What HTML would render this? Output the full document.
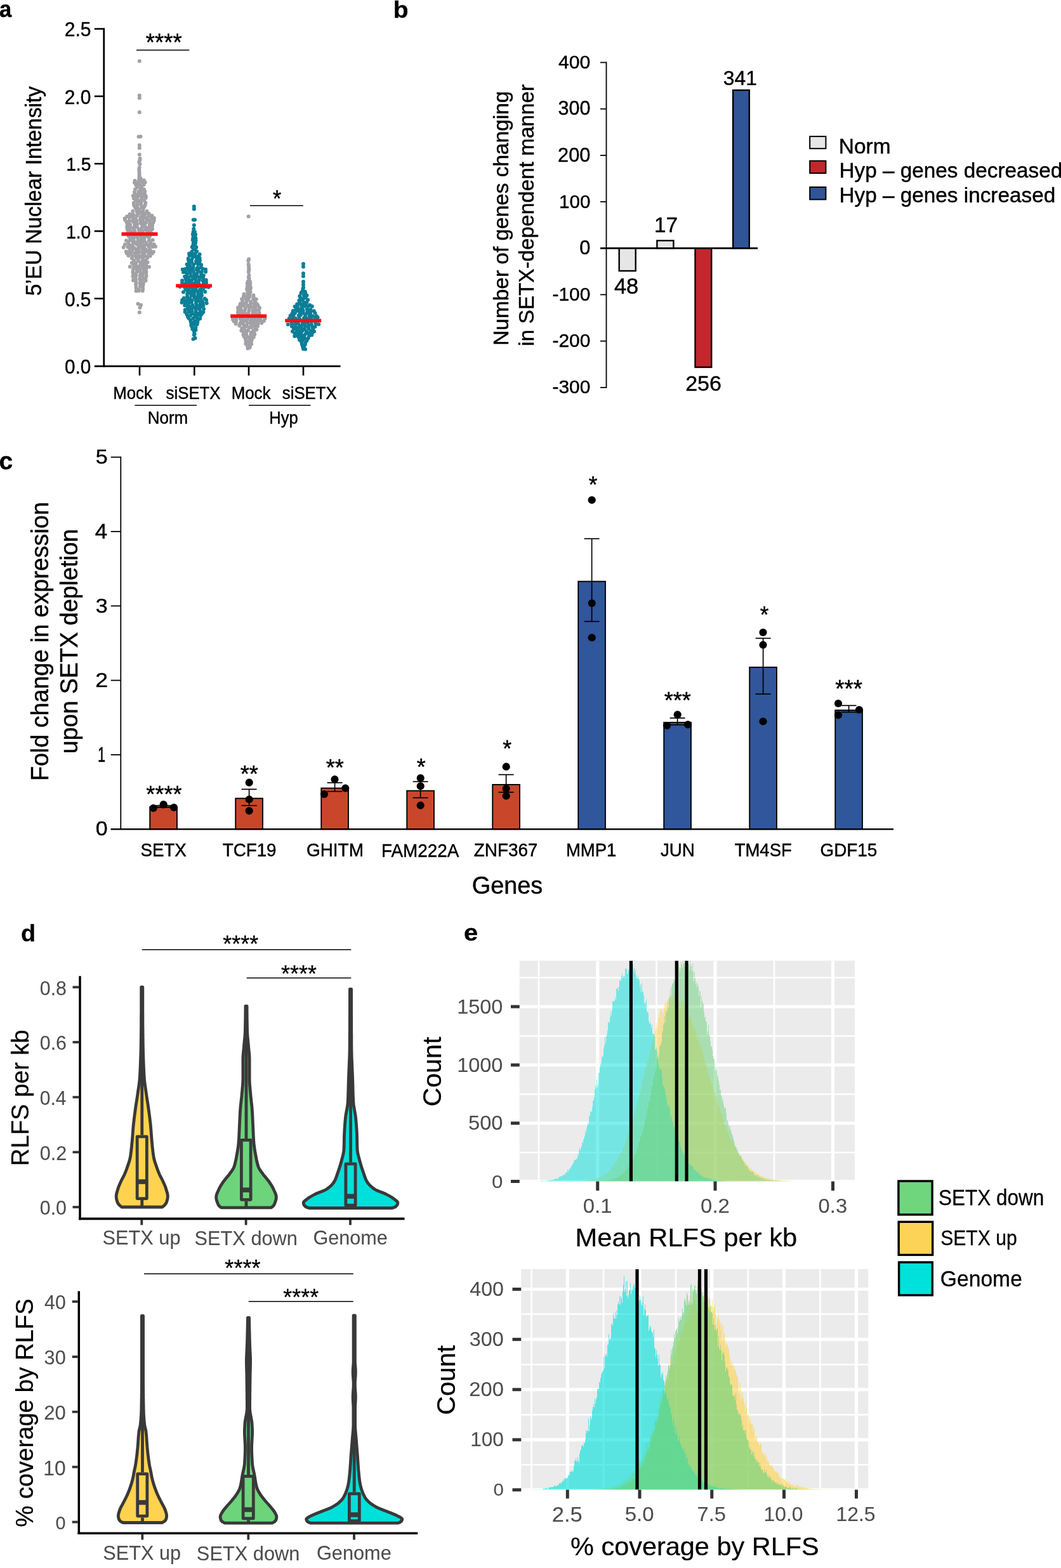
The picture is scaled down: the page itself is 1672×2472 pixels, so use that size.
<!DOCTYPE html>
<html lang="en"><head><meta charset="utf-8"><title>Figure: SETX-dependent transcription and RLFS</title>
<style>
html,body{margin:0;padding:0;background:#fff;}
body{width:1672px;height:2472px;overflow:hidden;}
svg{display:block;font-family:"Liberation Sans",sans-serif;}
</style></head><body>
<svg width="1672" height="2472" viewBox="0 0 1672 2472">
<rect width="1672" height="2472" fill="#fff"/>
<g id="panel-a">
<text transform="matrix(0.3455,0,0,0.3616,-1.04,27.14)" font-size="100" font-weight="bold" fill="#000" stroke="#000" stroke-width="1.27" stroke-linejoin="round">a</text>
<line x1="163.75" y1="44.20" x2="163.75" y2="578.70" stroke="#000" stroke-width="2.8"/>
<line x1="148.75" y1="577.30" x2="536.50" y2="577.30" stroke="#000" stroke-width="2.8"/>
<line x1="148.75" y1="45.50" x2="163.75" y2="45.50" stroke="#000" stroke-width="2.6"/>
<text transform="matrix(0.3000,0,0,0.3226,101.70,57.39)" font-size="100" fill="#000" stroke="#000" stroke-width="1.45" stroke-linejoin="round">2.5</text>
<line x1="148.75" y1="151.80" x2="163.75" y2="151.80" stroke="#000" stroke-width="2.6"/>
<text transform="matrix(0.2994,0,0,0.3220,101.70,163.67)" font-size="100" fill="#000" stroke="#000" stroke-width="1.45" stroke-linejoin="round">2.0</text>
<line x1="148.75" y1="258.10" x2="163.75" y2="258.10" stroke="#000" stroke-width="2.6"/>
<text transform="matrix(0.2820,0,0,0.3032,104.14,269.17)" font-size="100" fill="#000" stroke="#000" stroke-width="1.54" stroke-linejoin="round">1.5</text>
<line x1="148.75" y1="364.40" x2="163.75" y2="364.40" stroke="#000" stroke-width="2.6"/>
<text transform="matrix(0.2814,0,0,0.3026,104.14,375.60)" font-size="100" fill="#000" stroke="#000" stroke-width="1.54" stroke-linejoin="round">1.0</text>
<line x1="148.75" y1="470.70" x2="163.75" y2="470.70" stroke="#000" stroke-width="2.6"/>
<text transform="matrix(0.2977,0,0,0.3201,102.01,482.50)" font-size="100" fill="#000" stroke="#000" stroke-width="1.46" stroke-linejoin="round">0.5</text>
<text transform="matrix(0.2971,0,0,0.3195,102.01,588.78)" font-size="100" fill="#000" stroke="#000" stroke-width="1.46" stroke-linejoin="round">0.0</text>
<line x1="220.00" y1="577.30" x2="220.00" y2="592.00" stroke="#000" stroke-width="2.6"/>
<line x1="306.30" y1="577.30" x2="306.30" y2="592.00" stroke="#000" stroke-width="2.6"/>
<line x1="392.00" y1="577.30" x2="392.00" y2="592.00" stroke="#000" stroke-width="2.6"/>
<line x1="478.00" y1="577.30" x2="478.00" y2="592.00" stroke="#000" stroke-width="2.6"/>
<text transform="matrix(0,-0.3340,0.3592,0,65.29,466.34)" font-size="100" fill="#000" stroke="#000" stroke-width="1.30" stroke-linejoin="round">5’EU Nuclear Intensity</text>
<text transform="matrix(0.3645,0,0,0.3920,229.86,79.84)" font-size="100" fill="#000" stroke="#000" stroke-width="1.19" stroke-linejoin="round">****</text>
<line x1="215.00" y1="79.00" x2="298.30" y2="79.00" stroke="#000" stroke-width="1.6"/>
<text transform="matrix(0.3380,0,0,0.3635,429.91,326.13)" font-size="100" fill="#000" stroke="#000" stroke-width="1.28" stroke-linejoin="round">*</text>
<line x1="394.00" y1="324.20" x2="477.80" y2="324.20" stroke="#000" stroke-width="1.6"/>
<text transform="matrix(0.2587,0,0,0.2782,178.17,629.10)" font-size="100" fill="#000" stroke="#000" stroke-width="1.68" stroke-linejoin="round">Mock</text>
<text transform="matrix(0.2578,0,0,0.2772,261.59,629.06)" font-size="100" fill="#000" stroke="#000" stroke-width="1.68" stroke-linejoin="round">siSETX</text>
<text transform="matrix(0.2587,0,0,0.2782,364.67,629.10)" font-size="100" fill="#000" stroke="#000" stroke-width="1.68" stroke-linejoin="round">Mock</text>
<text transform="matrix(0.2578,0,0,0.2772,444.79,629.06)" font-size="100" fill="#000" stroke="#000" stroke-width="1.68" stroke-linejoin="round">siSETX</text>
<line x1="212.50" y1="639.00" x2="310.00" y2="639.00" stroke="#000" stroke-width="1.6"/>
<line x1="392.00" y1="639.00" x2="489.50" y2="639.00" stroke="#000" stroke-width="1.6"/>
<text transform="matrix(0.2590,0,0,0.2785,232.86,668.03)" font-size="100" fill="#000" stroke="#000" stroke-width="1.67" stroke-linejoin="round">Norm</text>
<text transform="matrix(0.2556,0,0,0.2748,424.19,667.65)" font-size="100" fill="#000" stroke="#000" stroke-width="1.70" stroke-linejoin="round">Hyp</text>
<g fill="#a1a1a6"><circle cx="220.6" cy="250.0" r="3.0"/><circle cx="220.0" cy="252.9" r="3.0"/><circle cx="219.4" cy="255.5" r="3.0"/><circle cx="220.4" cy="259.0" r="3.0"/><circle cx="219.6" cy="264.4" r="3.0"/><circle cx="219.2" cy="267.0" r="3.0"/><circle cx="219.5" cy="270.3" r="3.0"/><circle cx="219.6" cy="273.8" r="3.0"/><circle cx="219.6" cy="276.9" r="3.0"/><circle cx="219.3" cy="281.1" r="3.0"/><circle cx="221.6" cy="281.2" r="3.0"/><circle cx="212.5" cy="284.9" r="3.0"/><circle cx="218.7" cy="284.9" r="3.0"/><circle cx="221.3" cy="285.3" r="3.0"/><circle cx="226.8" cy="284.3" r="3.0"/><circle cx="212.0" cy="288.0" r="3.0"/><circle cx="217.4" cy="288.1" r="3.0"/><circle cx="224.0" cy="287.0" r="3.0"/><circle cx="228.6" cy="287.4" r="3.0"/><circle cx="214.2" cy="291.8" r="3.0"/><circle cx="220.1" cy="291.2" r="3.0"/><circle cx="226.4" cy="291.3" r="3.0"/><circle cx="216.7" cy="294.9" r="3.0"/><circle cx="223.1" cy="294.0" r="3.0"/><circle cx="213.1" cy="298.3" r="3.0"/><circle cx="221.4" cy="297.8" r="3.0"/><circle cx="226.8" cy="298.5" r="3.0"/><circle cx="211.9" cy="302.9" r="3.0"/><circle cx="218.3" cy="302.1" r="3.0"/><circle cx="222.0" cy="301.9" r="3.0"/><circle cx="228.1" cy="301.5" r="3.0"/><circle cx="212.9" cy="305.9" r="3.0"/><circle cx="218.2" cy="306.1" r="3.0"/><circle cx="223.6" cy="305.5" r="3.0"/><circle cx="228.0" cy="305.6" r="3.0"/><circle cx="209.8" cy="308.7" r="3.0"/><circle cx="215.2" cy="308.7" r="3.0"/><circle cx="219.1" cy="309.0" r="3.0"/><circle cx="225.0" cy="309.2" r="3.0"/><circle cx="229.8" cy="309.2" r="3.0"/><circle cx="211.0" cy="313.1" r="3.0"/><circle cx="215.9" cy="313.1" r="3.0"/><circle cx="223.4" cy="313.1" r="3.0"/><circle cx="229.7" cy="312.0" r="3.0"/><circle cx="213.6" cy="315.5" r="3.0"/><circle cx="216.2" cy="315.2" r="3.0"/><circle cx="220.9" cy="316.2" r="3.0"/><circle cx="227.2" cy="315.7" r="3.0"/><circle cx="210.8" cy="319.9" r="3.0"/><circle cx="216.8" cy="319.4" r="3.0"/><circle cx="222.3" cy="319.1" r="3.0"/><circle cx="229.3" cy="319.4" r="3.0"/><circle cx="211.1" cy="323.8" r="3.0"/><circle cx="216.7" cy="323.0" r="3.0"/><circle cx="222.2" cy="322.4" r="3.0"/><circle cx="228.6" cy="323.2" r="3.0"/><circle cx="213.0" cy="326.9" r="3.0"/><circle cx="216.3" cy="326.8" r="3.0"/><circle cx="223.3" cy="326.6" r="3.0"/><circle cx="227.2" cy="325.9" r="3.0"/><circle cx="214.6" cy="329.8" r="3.0"/><circle cx="219.2" cy="330.1" r="3.0"/><circle cx="225.6" cy="329.6" r="3.0"/><circle cx="209.3" cy="333.1" r="3.0"/><circle cx="215.8" cy="334.3" r="3.0"/><circle cx="221.1" cy="334.0" r="3.0"/><circle cx="225.0" cy="333.3" r="3.0"/><circle cx="231.3" cy="333.0" r="3.0"/><circle cx="204.6" cy="337.7" r="3.0"/><circle cx="209.5" cy="337.9" r="3.0"/><circle cx="217.9" cy="337.4" r="3.0"/><circle cx="224.4" cy="337.0" r="3.0"/><circle cx="229.3" cy="336.7" r="3.0"/><circle cx="234.6" cy="336.7" r="3.0"/><circle cx="200.2" cy="341.2" r="3.0"/><circle cx="205.6" cy="341.3" r="3.0"/><circle cx="210.6" cy="339.5" r="3.0"/><circle cx="216.0" cy="339.9" r="3.0"/><circle cx="223.3" cy="340.1" r="3.0"/><circle cx="227.9" cy="341.4" r="3.0"/><circle cx="234.2" cy="341.0" r="3.0"/><circle cx="239.4" cy="340.1" r="3.0"/><circle cx="196.7" cy="344.4" r="3.0"/><circle cx="203.5" cy="343.1" r="3.0"/><circle cx="209.6" cy="343.3" r="3.0"/><circle cx="213.7" cy="344.8" r="3.0"/><circle cx="221.1" cy="343.4" r="3.0"/><circle cx="226.4" cy="344.5" r="3.0"/><circle cx="231.6" cy="344.2" r="3.0"/><circle cx="239.0" cy="344.6" r="3.0"/><circle cx="242.8" cy="343.7" r="3.0"/><circle cx="197.0" cy="346.6" r="3.0"/><circle cx="203.5" cy="348.2" r="3.0"/><circle cx="208.6" cy="348.0" r="3.0"/><circle cx="215.5" cy="348.1" r="3.0"/><circle cx="221.2" cy="347.1" r="3.0"/><circle cx="224.8" cy="347.7" r="3.0"/><circle cx="231.9" cy="348.0" r="3.0"/><circle cx="236.4" cy="347.2" r="3.0"/><circle cx="242.7" cy="347.6" r="3.0"/><circle cx="199.3" cy="350.0" r="3.0"/><circle cx="203.2" cy="351.3" r="3.0"/><circle cx="210.5" cy="350.1" r="3.0"/><circle cx="214.8" cy="350.2" r="3.0"/><circle cx="221.3" cy="351.7" r="3.0"/><circle cx="225.2" cy="350.0" r="3.0"/><circle cx="230.0" cy="350.4" r="3.0"/><circle cx="236.9" cy="351.9" r="3.0"/><circle cx="241.5" cy="350.8" r="3.0"/><circle cx="200.7" cy="354.1" r="3.0"/><circle cx="205.0" cy="354.0" r="3.0"/><circle cx="212.2" cy="354.4" r="3.0"/><circle cx="216.0" cy="353.7" r="3.0"/><circle cx="224.1" cy="354.8" r="3.0"/><circle cx="228.2" cy="353.5" r="3.0"/><circle cx="235.6" cy="353.5" r="3.0"/><circle cx="240.1" cy="355.4" r="3.0"/><circle cx="200.2" cy="357.4" r="3.0"/><circle cx="205.6" cy="358.2" r="3.0"/><circle cx="210.9" cy="358.9" r="3.0"/><circle cx="215.8" cy="358.0" r="3.0"/><circle cx="224.1" cy="358.3" r="3.0"/><circle cx="229.9" cy="358.3" r="3.0"/><circle cx="235.6" cy="357.5" r="3.0"/><circle cx="239.2" cy="358.0" r="3.0"/><circle cx="200.6" cy="361.2" r="3.0"/><circle cx="204.5" cy="361.1" r="3.0"/><circle cx="210.8" cy="361.1" r="3.0"/><circle cx="218.6" cy="361.1" r="3.0"/><circle cx="222.7" cy="362.2" r="3.0"/><circle cx="229.0" cy="362.3" r="3.0"/><circle cx="234.6" cy="361.1" r="3.0"/><circle cx="240.1" cy="361.1" r="3.0"/><circle cx="202.0" cy="364.1" r="3.0"/><circle cx="207.1" cy="365.2" r="3.0"/><circle cx="212.5" cy="364.5" r="3.0"/><circle cx="219.2" cy="365.5" r="3.0"/><circle cx="224.8" cy="365.0" r="3.0"/><circle cx="232.3" cy="365.7" r="3.0"/><circle cx="237.5" cy="364.3" r="3.0"/><circle cx="202.0" cy="368.5" r="3.0"/><circle cx="208.0" cy="369.3" r="3.0"/><circle cx="211.0" cy="368.1" r="3.0"/><circle cx="218.2" cy="369.3" r="3.0"/><circle cx="224.1" cy="367.7" r="3.0"/><circle cx="229.0" cy="369.3" r="3.0"/><circle cx="232.9" cy="367.5" r="3.0"/><circle cx="238.1" cy="368.1" r="3.0"/><circle cx="202.8" cy="372.4" r="3.0"/><circle cx="209.7" cy="372.3" r="3.0"/><circle cx="215.1" cy="371.5" r="3.0"/><circle cx="220.6" cy="371.1" r="3.0"/><circle cx="224.7" cy="372.9" r="3.0"/><circle cx="231.1" cy="372.6" r="3.0"/><circle cx="236.4" cy="372.1" r="3.0"/><circle cx="205.4" cy="375.3" r="3.0"/><circle cx="210.7" cy="375.6" r="3.0"/><circle cx="216.5" cy="374.6" r="3.0"/><circle cx="222.3" cy="375.2" r="3.0"/><circle cx="227.5" cy="374.7" r="3.0"/><circle cx="234.8" cy="374.7" r="3.0"/><circle cx="199.0" cy="379.3" r="3.0"/><circle cx="204.8" cy="378.8" r="3.0"/><circle cx="210.7" cy="379.3" r="3.0"/><circle cx="217.4" cy="379.4" r="3.0"/><circle cx="222.2" cy="378.4" r="3.0"/><circle cx="227.5" cy="379.0" r="3.0"/><circle cx="235.0" cy="378.9" r="3.0"/><circle cx="240.7" cy="378.4" r="3.0"/><circle cx="202.2" cy="383.2" r="3.0"/><circle cx="209.6" cy="381.8" r="3.0"/><circle cx="213.5" cy="383.0" r="3.0"/><circle cx="220.4" cy="383.2" r="3.0"/><circle cx="224.5" cy="382.1" r="3.0"/><circle cx="230.4" cy="382.8" r="3.0"/><circle cx="237.3" cy="383.2" r="3.0"/><circle cx="196.9" cy="385.4" r="3.0"/><circle cx="203.4" cy="386.1" r="3.0"/><circle cx="208.7" cy="386.5" r="3.0"/><circle cx="215.3" cy="385.1" r="3.0"/><circle cx="221.2" cy="386.3" r="3.0"/><circle cx="227.2" cy="386.4" r="3.0"/><circle cx="231.8" cy="385.7" r="3.0"/><circle cx="236.3" cy="386.0" r="3.0"/><circle cx="242.6" cy="385.3" r="3.0"/><circle cx="194.7" cy="389.9" r="3.0"/><circle cx="201.5" cy="389.4" r="3.0"/><circle cx="206.5" cy="390.3" r="3.0"/><circle cx="211.0" cy="390.4" r="3.0"/><circle cx="218.5" cy="389.2" r="3.0"/><circle cx="224.2" cy="390.1" r="3.0"/><circle cx="227.2" cy="389.3" r="3.0"/><circle cx="234.7" cy="388.8" r="3.0"/><circle cx="240.5" cy="389.1" r="3.0"/><circle cx="244.9" cy="388.7" r="3.0"/><circle cx="204.5" cy="392.0" r="3.0"/><circle cx="209.5" cy="392.3" r="3.0"/><circle cx="214.3" cy="392.8" r="3.0"/><circle cx="218.9" cy="392.0" r="3.0"/><circle cx="224.8" cy="393.2" r="3.0"/><circle cx="230.0" cy="393.2" r="3.0"/><circle cx="236.2" cy="393.6" r="3.0"/><circle cx="198.9" cy="396.6" r="3.0"/><circle cx="204.0" cy="396.4" r="3.0"/><circle cx="208.5" cy="397.2" r="3.0"/><circle cx="214.9" cy="397.0" r="3.0"/><circle cx="219.3" cy="396.6" r="3.0"/><circle cx="225.9" cy="396.2" r="3.0"/><circle cx="231.6" cy="396.0" r="3.0"/><circle cx="237.1" cy="395.7" r="3.0"/><circle cx="241.8" cy="397.1" r="3.0"/><circle cx="199.8" cy="399.6" r="3.0"/><circle cx="205.7" cy="400.0" r="3.0"/><circle cx="212.8" cy="399.7" r="3.0"/><circle cx="217.9" cy="400.0" r="3.0"/><circle cx="224.3" cy="399.0" r="3.0"/><circle cx="227.5" cy="399.8" r="3.0"/><circle cx="234.4" cy="399.9" r="3.0"/><circle cx="240.0" cy="399.6" r="3.0"/><circle cx="202.5" cy="403.0" r="3.0"/><circle cx="208.9" cy="403.7" r="3.0"/><circle cx="214.2" cy="404.2" r="3.0"/><circle cx="220.4" cy="404.1" r="3.0"/><circle cx="225.4" cy="403.5" r="3.0"/><circle cx="230.7" cy="404.4" r="3.0"/><circle cx="236.6" cy="403.4" r="3.0"/><circle cx="207.7" cy="407.0" r="3.0"/><circle cx="215.3" cy="406.7" r="3.0"/><circle cx="219.4" cy="406.0" r="3.0"/><circle cx="225.2" cy="406.7" r="3.0"/><circle cx="232.2" cy="406.8" r="3.0"/><circle cx="210.9" cy="410.4" r="3.0"/><circle cx="217.6" cy="411.0" r="3.0"/><circle cx="224.3" cy="410.7" r="3.0"/><circle cx="229.3" cy="410.8" r="3.0"/><circle cx="207.8" cy="414.5" r="3.0"/><circle cx="214.2" cy="414.6" r="3.0"/><circle cx="221.3" cy="414.2" r="3.0"/><circle cx="227.0" cy="413.7" r="3.0"/><circle cx="232.5" cy="413.5" r="3.0"/><circle cx="209.8" cy="416.6" r="3.0"/><circle cx="213.8" cy="417.5" r="3.0"/><circle cx="221.0" cy="418.0" r="3.0"/><circle cx="225.1" cy="417.3" r="3.0"/><circle cx="230.1" cy="417.2" r="3.0"/><circle cx="204.8" cy="420.4" r="3.0"/><circle cx="211.0" cy="421.7" r="3.0"/><circle cx="215.4" cy="420.5" r="3.0"/><circle cx="219.7" cy="420.1" r="3.0"/><circle cx="225.7" cy="421.6" r="3.0"/><circle cx="230.6" cy="421.0" r="3.0"/><circle cx="234.9" cy="420.7" r="3.0"/><circle cx="209.9" cy="424.7" r="3.0"/><circle cx="215.1" cy="423.9" r="3.0"/><circle cx="220.6" cy="424.6" r="3.0"/><circle cx="226.3" cy="423.8" r="3.0"/><circle cx="230.2" cy="425.0" r="3.0"/><circle cx="209.4" cy="428.8" r="3.0"/><circle cx="215.8" cy="428.2" r="3.0"/><circle cx="220.6" cy="427.6" r="3.0"/><circle cx="226.6" cy="427.8" r="3.0"/><circle cx="230.4" cy="428.5" r="3.0"/><circle cx="210.1" cy="431.9" r="3.0"/><circle cx="214.0" cy="431.7" r="3.0"/><circle cx="221.4" cy="431.0" r="3.0"/><circle cx="224.8" cy="431.5" r="3.0"/><circle cx="230.2" cy="430.7" r="3.0"/><circle cx="209.5" cy="435.4" r="3.0"/><circle cx="214.4" cy="434.6" r="3.0"/><circle cx="220.8" cy="434.2" r="3.0"/><circle cx="224.5" cy="434.8" r="3.0"/><circle cx="230.5" cy="434.9" r="3.0"/><circle cx="210.4" cy="437.5" r="3.0"/><circle cx="213.6" cy="438.9" r="3.0"/><circle cx="220.3" cy="439.1" r="3.0"/><circle cx="226.3" cy="439.4" r="3.0"/><circle cx="229.6" cy="438.7" r="3.0"/><circle cx="210.0" cy="442.0" r="3.0"/><circle cx="213.9" cy="441.7" r="3.0"/><circle cx="220.6" cy="441.3" r="3.0"/><circle cx="223.7" cy="441.4" r="3.0"/><circle cx="229.5" cy="442.6" r="3.0"/><circle cx="214.4" cy="445.7" r="3.0"/><circle cx="220.6" cy="446.3" r="3.0"/><circle cx="225.8" cy="446.5" r="3.0"/><circle cx="214.1" cy="448.7" r="3.0"/><circle cx="221.1" cy="449.1" r="3.0"/><circle cx="225.4" cy="449.8" r="3.0"/><circle cx="214.5" cy="453.3" r="3.0"/><circle cx="220.8" cy="451.5" r="3.0"/><circle cx="224.7" cy="451.8" r="3.0"/><circle cx="215.0" cy="456.6" r="3.0"/><circle cx="218.9" cy="456.8" r="3.0"/><circle cx="225.1" cy="455.0" r="3.0"/><circle cx="214.6" cy="458.7" r="3.0"/><circle cx="218.6" cy="458.6" r="3.0"/><circle cx="224.7" cy="458.5" r="3.0"/><circle cx="219.8" cy="96.2" r="3.0"/><circle cx="219.8" cy="150.6" r="3.0"/><circle cx="219.8" cy="154.4" r="3.0"/><circle cx="219.8" cy="177.0" r="3.0"/><circle cx="218.6" cy="215.4" r="3.0"/><circle cx="221.4" cy="215.2" r="3.0"/><circle cx="219.8" cy="229.0" r="3.0"/><circle cx="219.8" cy="233.2" r="3.0"/><circle cx="219.8" cy="243.8" r="3.0"/><circle cx="217.5" cy="479.0" r="3.0"/><circle cx="222.0" cy="481.0" r="3.0"/><circle cx="220.5" cy="485.0" r="3.0"/><circle cx="219.8" cy="492.6" r="3.0"/></g>
<g fill="#0a7f97"><circle cx="305.3" cy="360.8" r="3.0"/><circle cx="304.7" cy="365.4" r="3.0"/><circle cx="306.9" cy="365.4" r="3.0"/><circle cx="303.9" cy="369.1" r="3.0"/><circle cx="308.1" cy="369.7" r="3.0"/><circle cx="304.5" cy="371.2" r="3.0"/><circle cx="307.3" cy="371.2" r="3.0"/><circle cx="304.1" cy="375.7" r="3.0"/><circle cx="308.5" cy="375.8" r="3.0"/><circle cx="303.8" cy="378.4" r="3.0"/><circle cx="308.5" cy="379.2" r="3.0"/><circle cx="304.8" cy="383.3" r="3.0"/><circle cx="308.0" cy="383.1" r="3.0"/><circle cx="304.2" cy="387.1" r="3.0"/><circle cx="307.3" cy="387.1" r="3.0"/><circle cx="302.7" cy="389.6" r="3.0"/><circle cx="309.3" cy="389.7" r="3.0"/><circle cx="304.7" cy="392.9" r="3.0"/><circle cx="307.7" cy="393.9" r="3.0"/><circle cx="302.2" cy="397.1" r="3.0"/><circle cx="310.2" cy="396.6" r="3.0"/><circle cx="298.1" cy="399.7" r="3.0"/><circle cx="303.8" cy="401.0" r="3.0"/><circle cx="307.8" cy="399.8" r="3.0"/><circle cx="314.6" cy="401.1" r="3.0"/><circle cx="298.5" cy="403.1" r="3.0"/><circle cx="303.9" cy="403.7" r="3.0"/><circle cx="308.8" cy="404.5" r="3.0"/><circle cx="313.2" cy="403.9" r="3.0"/><circle cx="296.7" cy="407.7" r="3.0"/><circle cx="303.6" cy="406.3" r="3.0"/><circle cx="310.3" cy="407.5" r="3.0"/><circle cx="314.6" cy="406.7" r="3.0"/><circle cx="297.1" cy="410.2" r="3.0"/><circle cx="301.9" cy="410.1" r="3.0"/><circle cx="309.0" cy="411.4" r="3.0"/><circle cx="314.9" cy="410.5" r="3.0"/><circle cx="297.4" cy="415.1" r="3.0"/><circle cx="302.0" cy="413.2" r="3.0"/><circle cx="309.5" cy="414.6" r="3.0"/><circle cx="314.3" cy="413.2" r="3.0"/><circle cx="294.5" cy="416.8" r="3.0"/><circle cx="299.3" cy="418.6" r="3.0"/><circle cx="305.1" cy="417.0" r="3.0"/><circle cx="312.3" cy="416.7" r="3.0"/><circle cx="317.1" cy="417.4" r="3.0"/><circle cx="295.9" cy="421.6" r="3.0"/><circle cx="300.1" cy="422.0" r="3.0"/><circle cx="304.6" cy="421.7" r="3.0"/><circle cx="311.2" cy="421.9" r="3.0"/><circle cx="316.8" cy="421.6" r="3.0"/><circle cx="287.7" cy="424.7" r="3.0"/><circle cx="292.4" cy="424.0" r="3.0"/><circle cx="296.9" cy="425.6" r="3.0"/><circle cx="303.2" cy="424.2" r="3.0"/><circle cx="309.7" cy="424.9" r="3.0"/><circle cx="312.7" cy="424.5" r="3.0"/><circle cx="319.4" cy="423.7" r="3.0"/><circle cx="324.0" cy="424.8" r="3.0"/><circle cx="289.0" cy="429.0" r="3.0"/><circle cx="292.7" cy="429.2" r="3.0"/><circle cx="299.1" cy="427.6" r="3.0"/><circle cx="304.8" cy="428.1" r="3.0"/><circle cx="312.3" cy="427.7" r="3.0"/><circle cx="317.9" cy="428.4" r="3.0"/><circle cx="324.1" cy="428.4" r="3.0"/><circle cx="294.7" cy="431.5" r="3.0"/><circle cx="299.9" cy="430.9" r="3.0"/><circle cx="306.1" cy="432.1" r="3.0"/><circle cx="310.4" cy="431.2" r="3.0"/><circle cx="317.0" cy="430.9" r="3.0"/><circle cx="291.1" cy="436.0" r="3.0"/><circle cx="294.9" cy="436.1" r="3.0"/><circle cx="300.9" cy="435.6" r="3.0"/><circle cx="305.9" cy="435.0" r="3.0"/><circle cx="310.6" cy="435.2" r="3.0"/><circle cx="316.7" cy="435.3" r="3.0"/><circle cx="320.8" cy="434.3" r="3.0"/><circle cx="292.7" cy="438.9" r="3.0"/><circle cx="296.5" cy="438.2" r="3.0"/><circle cx="304.1" cy="439.6" r="3.0"/><circle cx="308.4" cy="438.4" r="3.0"/><circle cx="314.4" cy="437.7" r="3.0"/><circle cx="320.1" cy="439.0" r="3.0"/><circle cx="287.1" cy="442.3" r="3.0"/><circle cx="293.2" cy="441.3" r="3.0"/><circle cx="298.2" cy="441.7" r="3.0"/><circle cx="301.8" cy="441.9" r="3.0"/><circle cx="308.6" cy="443.0" r="3.0"/><circle cx="314.0" cy="441.3" r="3.0"/><circle cx="319.8" cy="442.7" r="3.0"/><circle cx="324.8" cy="441.6" r="3.0"/><circle cx="287.1" cy="446.6" r="3.0"/><circle cx="293.0" cy="446.1" r="3.0"/><circle cx="297.5" cy="444.7" r="3.0"/><circle cx="302.1" cy="446.0" r="3.0"/><circle cx="307.6" cy="446.2" r="3.0"/><circle cx="313.0" cy="446.1" r="3.0"/><circle cx="320.8" cy="445.7" r="3.0"/><circle cx="325.1" cy="445.4" r="3.0"/><circle cx="288.2" cy="448.6" r="3.0"/><circle cx="293.0" cy="449.1" r="3.0"/><circle cx="298.1" cy="448.7" r="3.0"/><circle cx="304.7" cy="449.0" r="3.0"/><circle cx="309.5" cy="449.5" r="3.0"/><circle cx="315.2" cy="450.0" r="3.0"/><circle cx="320.1" cy="449.3" r="3.0"/><circle cx="323.9" cy="449.8" r="3.0"/><circle cx="283.6" cy="451.9" r="3.0"/><circle cx="290.4" cy="452.3" r="3.0"/><circle cx="293.5" cy="452.1" r="3.0"/><circle cx="300.1" cy="453.0" r="3.0"/><circle cx="304.7" cy="453.0" r="3.0"/><circle cx="310.5" cy="452.5" r="3.0"/><circle cx="318.6" cy="452.7" r="3.0"/><circle cx="324.6" cy="451.9" r="3.0"/><circle cx="328.7" cy="452.8" r="3.0"/><circle cx="292.3" cy="456.6" r="3.0"/><circle cx="297.4" cy="456.0" r="3.0"/><circle cx="303.8" cy="457.2" r="3.0"/><circle cx="308.1" cy="456.7" r="3.0"/><circle cx="315.8" cy="456.3" r="3.0"/><circle cx="320.1" cy="455.5" r="3.0"/><circle cx="288.9" cy="460.5" r="3.0"/><circle cx="295.7" cy="460.1" r="3.0"/><circle cx="299.3" cy="459.6" r="3.0"/><circle cx="306.0" cy="460.6" r="3.0"/><circle cx="311.7" cy="459.3" r="3.0"/><circle cx="317.2" cy="460.2" r="3.0"/><circle cx="323.2" cy="460.0" r="3.0"/><circle cx="295.2" cy="463.4" r="3.0"/><circle cx="300.7" cy="462.2" r="3.0"/><circle cx="305.7" cy="463.1" r="3.0"/><circle cx="312.2" cy="463.6" r="3.0"/><circle cx="317.6" cy="463.9" r="3.0"/><circle cx="295.1" cy="467.4" r="3.0"/><circle cx="301.5" cy="465.9" r="3.0"/><circle cx="306.7" cy="467.3" r="3.0"/><circle cx="312.1" cy="467.2" r="3.0"/><circle cx="317.8" cy="466.1" r="3.0"/><circle cx="289.8" cy="470.1" r="3.0"/><circle cx="295.7" cy="469.6" r="3.0"/><circle cx="299.3" cy="471.1" r="3.0"/><circle cx="306.3" cy="469.3" r="3.0"/><circle cx="311.4" cy="469.2" r="3.0"/><circle cx="316.4" cy="470.1" r="3.0"/><circle cx="322.6" cy="470.8" r="3.0"/><circle cx="287.2" cy="473.0" r="3.0"/><circle cx="292.9" cy="474.2" r="3.0"/><circle cx="297.3" cy="474.2" r="3.0"/><circle cx="302.6" cy="473.5" r="3.0"/><circle cx="308.7" cy="474.0" r="3.0"/><circle cx="312.8" cy="474.2" r="3.0"/><circle cx="318.4" cy="474.4" r="3.0"/><circle cx="325.1" cy="472.9" r="3.0"/><circle cx="286.5" cy="476.9" r="3.0"/><circle cx="291.7" cy="477.1" r="3.0"/><circle cx="296.8" cy="477.9" r="3.0"/><circle cx="301.7" cy="476.8" r="3.0"/><circle cx="309.0" cy="477.5" r="3.0"/><circle cx="315.9" cy="477.1" r="3.0"/><circle cx="319.8" cy="477.2" r="3.0"/><circle cx="325.7" cy="478.0" r="3.0"/><circle cx="291.2" cy="481.4" r="3.0"/><circle cx="296.6" cy="479.9" r="3.0"/><circle cx="303.5" cy="480.9" r="3.0"/><circle cx="309.8" cy="480.5" r="3.0"/><circle cx="315.3" cy="480.7" r="3.0"/><circle cx="320.3" cy="481.4" r="3.0"/><circle cx="295.8" cy="485.1" r="3.0"/><circle cx="299.9" cy="483.4" r="3.0"/><circle cx="305.9" cy="484.8" r="3.0"/><circle cx="310.5" cy="483.9" r="3.0"/><circle cx="316.1" cy="483.9" r="3.0"/><circle cx="291.8" cy="488.5" r="3.0"/><circle cx="296.9" cy="487.6" r="3.0"/><circle cx="302.0" cy="487.9" r="3.0"/><circle cx="308.8" cy="488.5" r="3.0"/><circle cx="314.3" cy="487.3" r="3.0"/><circle cx="321.1" cy="486.9" r="3.0"/><circle cx="291.7" cy="491.8" r="3.0"/><circle cx="297.6" cy="491.4" r="3.0"/><circle cx="302.6" cy="491.0" r="3.0"/><circle cx="308.6" cy="491.8" r="3.0"/><circle cx="315.8" cy="490.9" r="3.0"/><circle cx="320.4" cy="491.9" r="3.0"/><circle cx="294.3" cy="495.5" r="3.0"/><circle cx="301.5" cy="495.2" r="3.0"/><circle cx="306.7" cy="495.6" r="3.0"/><circle cx="312.6" cy="494.3" r="3.0"/><circle cx="317.9" cy="494.9" r="3.0"/><circle cx="295.9" cy="499.0" r="3.0"/><circle cx="299.8" cy="497.5" r="3.0"/><circle cx="307.4" cy="499.1" r="3.0"/><circle cx="310.8" cy="497.4" r="3.0"/><circle cx="316.1" cy="497.2" r="3.0"/><circle cx="297.2" cy="501.5" r="3.0"/><circle cx="304.2" cy="501.8" r="3.0"/><circle cx="310.2" cy="501.1" r="3.0"/><circle cx="315.2" cy="502.3" r="3.0"/><circle cx="300.0" cy="504.8" r="3.0"/><circle cx="306.4" cy="506.0" r="3.0"/><circle cx="311.9" cy="504.4" r="3.0"/><circle cx="300.9" cy="508.2" r="3.0"/><circle cx="305.3" cy="508.4" r="3.0"/><circle cx="311.3" cy="508.2" r="3.0"/><circle cx="301.3" cy="512.7" r="3.0"/><circle cx="305.5" cy="511.3" r="3.0"/><circle cx="310.5" cy="511.5" r="3.0"/><circle cx="302.8" cy="515.7" r="3.0"/><circle cx="308.4" cy="516.4" r="3.0"/><circle cx="303.5" cy="519.0" r="3.0"/><circle cx="308.4" cy="520.2" r="3.0"/><circle cx="306.0" cy="522.9" r="3.0"/><circle cx="306.5" cy="526.4" r="3.0"/><circle cx="305.8" cy="325.6" r="3.0"/><circle cx="305.8" cy="329.4" r="3.0"/><circle cx="304.8" cy="346.4" r="3.0"/><circle cx="307.0" cy="346.6" r="3.0"/><circle cx="305.8" cy="355.0" r="3.0"/><circle cx="304.5" cy="534.5" r="3.0"/><circle cx="307.5" cy="533.0" r="3.0"/><circle cx="305.8" cy="528.0" r="3.0"/></g>
<g fill="#a1a1a6"><circle cx="392.1" cy="408.4" r="3.0"/><circle cx="391.3" cy="411.1" r="3.0"/><circle cx="391.6" cy="416.6" r="3.0"/><circle cx="392.0" cy="419.4" r="3.0"/><circle cx="392.2" cy="423.3" r="3.0"/><circle cx="392.3" cy="425.2" r="3.0"/><circle cx="391.7" cy="428.7" r="3.0"/><circle cx="392.4" cy="433.9" r="3.0"/><circle cx="391.8" cy="437.2" r="3.0"/><circle cx="392.6" cy="439.3" r="3.0"/><circle cx="390.8" cy="443.5" r="3.0"/><circle cx="394.1" cy="443.9" r="3.0"/><circle cx="389.7" cy="446.8" r="3.0"/><circle cx="394.1" cy="447.3" r="3.0"/><circle cx="389.9" cy="451.3" r="3.0"/><circle cx="394.4" cy="451.6" r="3.0"/><circle cx="389.2" cy="454.9" r="3.0"/><circle cx="394.9" cy="454.3" r="3.0"/><circle cx="389.5" cy="457.2" r="3.0"/><circle cx="394.2" cy="456.7" r="3.0"/><circle cx="390.3" cy="460.9" r="3.0"/><circle cx="394.5" cy="460.4" r="3.0"/><circle cx="384.5" cy="463.7" r="3.0"/><circle cx="390.6" cy="465.0" r="3.0"/><circle cx="393.1" cy="464.3" r="3.0"/><circle cx="399.3" cy="465.4" r="3.0"/><circle cx="384.0" cy="467.2" r="3.0"/><circle cx="388.9" cy="467.5" r="3.0"/><circle cx="393.3" cy="467.9" r="3.0"/><circle cx="399.6" cy="468.3" r="3.0"/><circle cx="381.2" cy="471.4" r="3.0"/><circle cx="387.3" cy="471.5" r="3.0"/><circle cx="391.4" cy="471.7" r="3.0"/><circle cx="399.1" cy="471.9" r="3.0"/><circle cx="403.7" cy="471.8" r="3.0"/><circle cx="382.0" cy="474.6" r="3.0"/><circle cx="388.8" cy="474.7" r="3.0"/><circle cx="395.1" cy="476.1" r="3.0"/><circle cx="401.8" cy="475.2" r="3.0"/><circle cx="378.8" cy="478.9" r="3.0"/><circle cx="384.1" cy="478.5" r="3.0"/><circle cx="387.9" cy="479.0" r="3.0"/><circle cx="395.1" cy="478.3" r="3.0"/><circle cx="400.5" cy="479.0" r="3.0"/><circle cx="404.8" cy="479.1" r="3.0"/><circle cx="378.2" cy="481.8" r="3.0"/><circle cx="383.8" cy="481.8" r="3.0"/><circle cx="390.5" cy="481.7" r="3.0"/><circle cx="394.2" cy="481.9" r="3.0"/><circle cx="400.6" cy="482.3" r="3.0"/><circle cx="406.4" cy="481.7" r="3.0"/><circle cx="375.1" cy="485.1" r="3.0"/><circle cx="379.3" cy="485.0" r="3.0"/><circle cx="386.6" cy="485.5" r="3.0"/><circle cx="392.7" cy="486.0" r="3.0"/><circle cx="397.1" cy="484.8" r="3.0"/><circle cx="402.4" cy="485.3" r="3.0"/><circle cx="409.0" cy="485.3" r="3.0"/><circle cx="375.5" cy="488.4" r="3.0"/><circle cx="380.1" cy="489.2" r="3.0"/><circle cx="386.1" cy="488.5" r="3.0"/><circle cx="392.5" cy="489.7" r="3.0"/><circle cx="398.6" cy="489.8" r="3.0"/><circle cx="402.7" cy="488.5" r="3.0"/><circle cx="407.8" cy="488.7" r="3.0"/><circle cx="374.9" cy="492.4" r="3.0"/><circle cx="380.2" cy="492.5" r="3.0"/><circle cx="385.2" cy="492.4" r="3.0"/><circle cx="391.4" cy="493.5" r="3.0"/><circle cx="398.6" cy="491.9" r="3.0"/><circle cx="402.7" cy="491.6" r="3.0"/><circle cx="408.6" cy="493.5" r="3.0"/><circle cx="376.1" cy="496.2" r="3.0"/><circle cx="382.5" cy="495.7" r="3.0"/><circle cx="387.9" cy="495.8" r="3.0"/><circle cx="391.2" cy="495.6" r="3.0"/><circle cx="398.1" cy="495.2" r="3.0"/><circle cx="403.8" cy="496.3" r="3.0"/><circle cx="408.2" cy="495.7" r="3.0"/><circle cx="366.6" cy="499.9" r="3.0"/><circle cx="373.0" cy="499.7" r="3.0"/><circle cx="379.3" cy="499.4" r="3.0"/><circle cx="384.8" cy="500.5" r="3.0"/><circle cx="390.4" cy="499.8" r="3.0"/><circle cx="395.0" cy="499.3" r="3.0"/><circle cx="399.0" cy="499.1" r="3.0"/><circle cx="406.8" cy="500.3" r="3.0"/><circle cx="410.6" cy="499.6" r="3.0"/><circle cx="416.8" cy="500.2" r="3.0"/><circle cx="367.0" cy="503.8" r="3.0"/><circle cx="372.2" cy="502.2" r="3.0"/><circle cx="378.7" cy="502.7" r="3.0"/><circle cx="382.5" cy="502.6" r="3.0"/><circle cx="390.0" cy="503.2" r="3.0"/><circle cx="396.1" cy="503.0" r="3.0"/><circle cx="401.5" cy="503.1" r="3.0"/><circle cx="407.2" cy="503.7" r="3.0"/><circle cx="410.5" cy="502.1" r="3.0"/><circle cx="417.5" cy="502.2" r="3.0"/><circle cx="368.8" cy="506.8" r="3.0"/><circle cx="372.2" cy="506.3" r="3.0"/><circle cx="380.2" cy="506.0" r="3.0"/><circle cx="385.1" cy="506.3" r="3.0"/><circle cx="388.1" cy="505.9" r="3.0"/><circle cx="394.7" cy="506.7" r="3.0"/><circle cx="399.4" cy="507.0" r="3.0"/><circle cx="404.7" cy="506.4" r="3.0"/><circle cx="410.1" cy="505.8" r="3.0"/><circle cx="415.8" cy="506.0" r="3.0"/><circle cx="371.7" cy="510.5" r="3.0"/><circle cx="378.3" cy="510.0" r="3.0"/><circle cx="382.9" cy="510.5" r="3.0"/><circle cx="390.0" cy="510.0" r="3.0"/><circle cx="395.3" cy="509.6" r="3.0"/><circle cx="400.6" cy="510.2" r="3.0"/><circle cx="406.2" cy="510.5" r="3.0"/><circle cx="412.2" cy="509.3" r="3.0"/><circle cx="377.4" cy="513.5" r="3.0"/><circle cx="384.6" cy="512.9" r="3.0"/><circle cx="388.7" cy="514.2" r="3.0"/><circle cx="396.1" cy="513.9" r="3.0"/><circle cx="401.6" cy="514.4" r="3.0"/><circle cx="406.0" cy="514.2" r="3.0"/><circle cx="381.4" cy="517.7" r="3.0"/><circle cx="385.4" cy="516.2" r="3.0"/><circle cx="392.3" cy="516.3" r="3.0"/><circle cx="395.9" cy="516.3" r="3.0"/><circle cx="402.1" cy="517.9" r="3.0"/><circle cx="380.4" cy="521.3" r="3.0"/><circle cx="386.8" cy="521.5" r="3.0"/><circle cx="390.9" cy="520.8" r="3.0"/><circle cx="399.2" cy="521.2" r="3.0"/><circle cx="404.3" cy="519.7" r="3.0"/><circle cx="383.7" cy="523.2" r="3.0"/><circle cx="388.0" cy="523.8" r="3.0"/><circle cx="395.5" cy="524.2" r="3.0"/><circle cx="400.6" cy="524.8" r="3.0"/><circle cx="383.4" cy="527.4" r="3.0"/><circle cx="388.2" cy="527.3" r="3.0"/><circle cx="395.4" cy="527.4" r="3.0"/><circle cx="401.2" cy="527.3" r="3.0"/><circle cx="384.6" cy="530.4" r="3.0"/><circle cx="390.9" cy="531.5" r="3.0"/><circle cx="394.3" cy="531.6" r="3.0"/><circle cx="399.7" cy="531.5" r="3.0"/><circle cx="386.7" cy="533.8" r="3.0"/><circle cx="393.2" cy="535.1" r="3.0"/><circle cx="396.8" cy="535.4" r="3.0"/><circle cx="387.4" cy="537.5" r="3.0"/><circle cx="391.1" cy="538.3" r="3.0"/><circle cx="396.1" cy="537.7" r="3.0"/><circle cx="387.3" cy="542.0" r="3.0"/><circle cx="393.4" cy="541.4" r="3.0"/><circle cx="396.2" cy="542.3" r="3.0"/><circle cx="389.8" cy="545.1" r="3.0"/><circle cx="394.0" cy="544.9" r="3.0"/><circle cx="390.5" cy="549.2" r="3.0"/><circle cx="393.5" cy="547.9" r="3.0"/><circle cx="391.6" cy="341.2" r="3.0"/></g>
<g fill="#0a7f97"><circle cx="477.4" cy="455.3" r="3.0"/><circle cx="475.8" cy="459.9" r="3.0"/><circle cx="480.6" cy="459.7" r="3.0"/><circle cx="474.5" cy="461.9" r="3.0"/><circle cx="481.2" cy="461.8" r="3.0"/><circle cx="472.4" cy="466.7" r="3.0"/><circle cx="479.0" cy="465.4" r="3.0"/><circle cx="483.5" cy="465.7" r="3.0"/><circle cx="473.5" cy="469.8" r="3.0"/><circle cx="479.1" cy="469.9" r="3.0"/><circle cx="481.6" cy="469.6" r="3.0"/><circle cx="471.4" cy="473.8" r="3.0"/><circle cx="476.8" cy="473.2" r="3.0"/><circle cx="485.1" cy="472.7" r="3.0"/><circle cx="472.2" cy="476.4" r="3.0"/><circle cx="479.0" cy="476.8" r="3.0"/><circle cx="483.4" cy="476.4" r="3.0"/><circle cx="468.2" cy="479.6" r="3.0"/><circle cx="473.8" cy="480.1" r="3.0"/><circle cx="476.6" cy="480.0" r="3.0"/><circle cx="481.8" cy="479.7" r="3.0"/><circle cx="488.2" cy="481.0" r="3.0"/><circle cx="464.6" cy="483.2" r="3.0"/><circle cx="468.8" cy="483.7" r="3.0"/><circle cx="475.6" cy="484.4" r="3.0"/><circle cx="480.1" cy="482.8" r="3.0"/><circle cx="485.8" cy="482.7" r="3.0"/><circle cx="491.8" cy="483.0" r="3.0"/><circle cx="466.5" cy="487.4" r="3.0"/><circle cx="471.5" cy="487.8" r="3.0"/><circle cx="477.0" cy="488.0" r="3.0"/><circle cx="483.9" cy="487.5" r="3.0"/><circle cx="489.3" cy="488.0" r="3.0"/><circle cx="461.8" cy="490.1" r="3.0"/><circle cx="468.3" cy="489.9" r="3.0"/><circle cx="473.3" cy="490.4" r="3.0"/><circle cx="477.7" cy="489.8" r="3.0"/><circle cx="484.9" cy="490.3" r="3.0"/><circle cx="489.5" cy="491.5" r="3.0"/><circle cx="494.7" cy="490.2" r="3.0"/><circle cx="460.6" cy="493.9" r="3.0"/><circle cx="464.9" cy="493.5" r="3.0"/><circle cx="472.8" cy="493.2" r="3.0"/><circle cx="477.6" cy="493.2" r="3.0"/><circle cx="483.4" cy="493.4" r="3.0"/><circle cx="488.9" cy="494.4" r="3.0"/><circle cx="496.4" cy="493.4" r="3.0"/><circle cx="457.7" cy="497.5" r="3.0"/><circle cx="462.6" cy="497.0" r="3.0"/><circle cx="470.7" cy="497.4" r="3.0"/><circle cx="473.9" cy="496.6" r="3.0"/><circle cx="481.0" cy="497.4" r="3.0"/><circle cx="487.6" cy="497.1" r="3.0"/><circle cx="492.4" cy="498.3" r="3.0"/><circle cx="498.8" cy="498.2" r="3.0"/><circle cx="455.8" cy="502.0" r="3.0"/><circle cx="460.2" cy="500.9" r="3.0"/><circle cx="465.7" cy="501.9" r="3.0"/><circle cx="471.5" cy="501.4" r="3.0"/><circle cx="479.1" cy="501.6" r="3.0"/><circle cx="482.6" cy="501.5" r="3.0"/><circle cx="488.0" cy="501.0" r="3.0"/><circle cx="496.4" cy="500.2" r="3.0"/><circle cx="500.6" cy="500.5" r="3.0"/><circle cx="460.0" cy="504.9" r="3.0"/><circle cx="465.7" cy="504.9" r="3.0"/><circle cx="472.5" cy="504.1" r="3.0"/><circle cx="478.9" cy="505.4" r="3.0"/><circle cx="484.4" cy="505.5" r="3.0"/><circle cx="490.8" cy="503.7" r="3.0"/><circle cx="495.6" cy="505.5" r="3.0"/><circle cx="459.5" cy="508.2" r="3.0"/><circle cx="465.4" cy="508.5" r="3.0"/><circle cx="468.6" cy="508.9" r="3.0"/><circle cx="476.6" cy="507.5" r="3.0"/><circle cx="481.3" cy="507.1" r="3.0"/><circle cx="485.0" cy="508.9" r="3.0"/><circle cx="490.8" cy="507.1" r="3.0"/><circle cx="497.2" cy="508.8" r="3.0"/><circle cx="453.8" cy="511.5" r="3.0"/><circle cx="460.1" cy="511.6" r="3.0"/><circle cx="465.7" cy="510.6" r="3.0"/><circle cx="470.1" cy="510.6" r="3.0"/><circle cx="476.5" cy="511.7" r="3.0"/><circle cx="479.8" cy="511.5" r="3.0"/><circle cx="486.5" cy="512.3" r="3.0"/><circle cx="490.9" cy="511.8" r="3.0"/><circle cx="497.9" cy="510.8" r="3.0"/><circle cx="502.2" cy="511.3" r="3.0"/><circle cx="459.9" cy="514.5" r="3.0"/><circle cx="465.5" cy="515.0" r="3.0"/><circle cx="470.9" cy="516.0" r="3.0"/><circle cx="474.1" cy="514.2" r="3.0"/><circle cx="480.8" cy="514.3" r="3.0"/><circle cx="485.8" cy="515.3" r="3.0"/><circle cx="492.4" cy="515.8" r="3.0"/><circle cx="496.5" cy="515.1" r="3.0"/><circle cx="462.9" cy="518.4" r="3.0"/><circle cx="467.7" cy="519.2" r="3.0"/><circle cx="476.1" cy="517.9" r="3.0"/><circle cx="480.1" cy="519.3" r="3.0"/><circle cx="486.4" cy="517.9" r="3.0"/><circle cx="493.1" cy="517.9" r="3.0"/><circle cx="461.0" cy="522.5" r="3.0"/><circle cx="467.7" cy="522.0" r="3.0"/><circle cx="472.9" cy="521.2" r="3.0"/><circle cx="476.5" cy="521.5" r="3.0"/><circle cx="483.2" cy="522.8" r="3.0"/><circle cx="489.6" cy="521.8" r="3.0"/><circle cx="495.0" cy="522.6" r="3.0"/><circle cx="464.3" cy="525.2" r="3.0"/><circle cx="470.1" cy="526.3" r="3.0"/><circle cx="474.7" cy="526.1" r="3.0"/><circle cx="482.0" cy="525.8" r="3.0"/><circle cx="486.2" cy="525.4" r="3.0"/><circle cx="492.0" cy="524.8" r="3.0"/><circle cx="464.3" cy="529.9" r="3.0"/><circle cx="468.6" cy="528.8" r="3.0"/><circle cx="474.0" cy="529.2" r="3.0"/><circle cx="479.7" cy="528.8" r="3.0"/><circle cx="487.2" cy="529.3" r="3.0"/><circle cx="491.2" cy="528.2" r="3.0"/><circle cx="470.5" cy="531.6" r="3.0"/><circle cx="475.8" cy="531.6" r="3.0"/><circle cx="480.2" cy="533.5" r="3.0"/><circle cx="485.6" cy="533.2" r="3.0"/><circle cx="472.1" cy="536.0" r="3.0"/><circle cx="477.0" cy="536.2" r="3.0"/><circle cx="483.5" cy="536.9" r="3.0"/><circle cx="475.2" cy="539.9" r="3.0"/><circle cx="481.4" cy="540.0" r="3.0"/><circle cx="475.9" cy="542.9" r="3.0"/><circle cx="480.8" cy="543.3" r="3.0"/><circle cx="477.0" cy="546.2" r="3.0"/><circle cx="478.9" cy="546.8" r="3.0"/><circle cx="477.8" cy="549.9" r="3.0"/><circle cx="478.0" cy="416.0" r="3.0"/><circle cx="478.0" cy="420.5" r="3.0"/><circle cx="478.0" cy="431.0" r="3.0"/><circle cx="478.0" cy="435.5" r="3.0"/><circle cx="478.0" cy="444.0" r="3.0"/><circle cx="478.0" cy="448.5" r="3.0"/><circle cx="478.0" cy="453.0" r="3.0"/><circle cx="481.0" cy="550.5" r="3.0"/></g>
<rect x="191.50" y="366.20" width="57.00" height="5.60" fill="#ff0d17"/>
<rect x="277.20" y="447.70" width="56.80" height="5.60" fill="#ff0d17"/>
<rect x="363.20" y="495.50" width="57.00" height="5.60" fill="#ff0d17"/>
<rect x="449.20" y="502.70" width="57.00" height="5.60" fill="#ff0d17"/>
</g>
<g id="panel-b">
<text transform="matrix(0.3901,0,0,0.3714,619.76,27.53)" font-size="100" font-weight="bold" fill="#000" stroke="#000" stroke-width="1.18" stroke-linejoin="round">b</text>
<line x1="955.50" y1="97.60" x2="955.50" y2="611.80" stroke="#000" stroke-width="1.8"/>
<line x1="946.00" y1="98.50" x2="955.50" y2="98.50" stroke="#000" stroke-width="1.8"/>
<text transform="matrix(0.3023,0,0,0.3023,879.92,108.19)" font-size="100" fill="#000" stroke="#000" stroke-width="1.49" stroke-linejoin="round">400</text>
<line x1="946.00" y1="171.70" x2="955.50" y2="171.70" stroke="#000" stroke-width="1.8"/>
<text transform="matrix(0.3052,0,0,0.3052,879.46,181.49)" font-size="100" fill="#000" stroke="#000" stroke-width="1.47" stroke-linejoin="round">300</text>
<line x1="946.00" y1="244.90" x2="955.50" y2="244.90" stroke="#000" stroke-width="1.8"/>
<text transform="matrix(0.3076,0,0,0.3076,879.06,254.77)" font-size="100" fill="#000" stroke="#000" stroke-width="1.46" stroke-linejoin="round">200</text>
<line x1="946.00" y1="318.10" x2="955.50" y2="318.10" stroke="#000" stroke-width="1.8"/>
<text transform="matrix(0.2958,0,0,0.2958,880.98,327.57)" font-size="100" fill="#000" stroke="#000" stroke-width="1.52" stroke-linejoin="round">100</text>
<text transform="matrix(0.3079,0,0,0.3079,913.27,401.18)" font-size="100" fill="#000" stroke="#000" stroke-width="1.46" stroke-linejoin="round">0</text>
<line x1="946.00" y1="464.50" x2="955.50" y2="464.50" stroke="#000" stroke-width="1.8"/>
<text transform="matrix(0.2993,0,0,0.2993,870.45,474.09)" font-size="100" fill="#000" stroke="#000" stroke-width="1.50" stroke-linejoin="round">-100</text>
<line x1="946.00" y1="537.70" x2="955.50" y2="537.70" stroke="#000" stroke-width="1.8"/>
<text transform="matrix(0.2993,0,0,0.2993,870.45,547.29)" font-size="100" fill="#000" stroke="#000" stroke-width="1.50" stroke-linejoin="round">-200</text>
<line x1="946.00" y1="610.90" x2="955.50" y2="610.90" stroke="#000" stroke-width="1.8"/>
<text transform="matrix(0.2993,0,0,0.2993,870.45,620.49)" font-size="100" fill="#000" stroke="#000" stroke-width="1.50" stroke-linejoin="round">-300</text>
<line x1="946.00" y1="391.30" x2="1194.00" y2="391.30" stroke="#000" stroke-width="2.4"/>
<rect x="975.70" y="391.30" width="26.00" height="35.77" fill="#e6e6e6" stroke="#000" stroke-width="2.4"/>
<rect x="1035.40" y="379.32" width="26.00" height="11.98" fill="#e6e6e6" stroke="#000" stroke-width="2.4"/>
<rect x="1095.50" y="391.30" width="25.70" height="187.66" fill="#c1272d" stroke="#000" stroke-width="2.4"/>
<rect x="1155.10" y="142.16" width="25.70" height="249.14" fill="#2f5597" stroke="#000" stroke-width="2.4"/>
<line x1="946.00" y1="391.30" x2="1194.00" y2="391.30" stroke="#000" stroke-width="2.4"/>
<text transform="matrix(0.3445,0,0,0.3445,967.92,462.74)" font-size="100" fill="#000" stroke="#000" stroke-width="1.31" stroke-linejoin="round">48</text>
<text transform="matrix(0.3330,0,0,0.3330,1031.10,366.00)" font-size="100" fill="#000" stroke="#000" stroke-width="1.35" stroke-linejoin="round">17</text>
<text transform="matrix(0.3403,0,0,0.3403,1080.20,615.85)" font-size="100" fill="#000" stroke="#000" stroke-width="1.32" stroke-linejoin="round">256</text>
<text transform="matrix(0.3185,0,0,0.3185,1139.81,133.85)" font-size="100" fill="#000" stroke="#000" stroke-width="1.41" stroke-linejoin="round">341</text>
<text transform="matrix(0,-0.3342,0.3342,0,800.55,544.76)" font-size="100" fill="#000" stroke="#000" stroke-width="1.35" stroke-linejoin="round">Number of genes changing</text>
<text transform="matrix(0,-0.3331,0.3331,0,840.62,545.65)" font-size="100" fill="#000" stroke="#000" stroke-width="1.35" stroke-linejoin="round">in SETX-dependent manner</text>
<rect x="1276.20" y="215.10" width="25.20" height="19.10" fill="#e6e6e6" stroke="#000" stroke-width="2"/>
<rect x="1276.20" y="253.60" width="25.20" height="19.40" fill="#c1272d" stroke="#000" stroke-width="2"/>
<rect x="1276.20" y="295.00" width="25.20" height="19.50" fill="#2f5597" stroke="#000" stroke-width="2"/>
<text transform="matrix(0.3343,0,0,0.3343,1321.84,242.12)" font-size="100" fill="#000" stroke="#000" stroke-width="1.35" stroke-linejoin="round">Norm</text>
<text transform="matrix(0.3333,0,0,0.3333,1322.45,280.48)" font-size="100" fill="#000" stroke="#000" stroke-width="1.35" stroke-linejoin="round">Hyp – genes decreased</text>
<text transform="matrix(0.3333,0,0,0.3333,1322.45,319.13)" font-size="100" fill="#000" stroke="#000" stroke-width="1.35" stroke-linejoin="round">Hyp – genes increased</text>
</g>
<g id="panel-c">
<text transform="matrix(0.3897,0,0,0.3799,-1.56,740.12)" font-size="100" font-weight="bold" fill="#000" stroke="#000" stroke-width="1.17" stroke-linejoin="round">c</text>
<line x1="190.30" y1="719.80" x2="190.30" y2="1308.10" stroke="#000" stroke-width="1.8"/>
<line x1="174.70" y1="1307.20" x2="1408.00" y2="1307.20" stroke="#000" stroke-width="1.9"/>
<text transform="matrix(0.3393,0,0,0.3166,150.64,1317.48)" font-size="100" fill="#000" stroke="#000" stroke-width="1.37" stroke-linejoin="round">0</text>
<line x1="174.70" y1="1189.90" x2="190.30" y2="1189.90" stroke="#000" stroke-width="1.8"/>
<text transform="matrix(0.2173,0,0,0.3258,153.97,1200.50)" font-size="100" fill="#000" stroke="#000" stroke-width="1.66" stroke-linejoin="round">1</text>
<line x1="174.70" y1="1072.60" x2="190.30" y2="1072.60" stroke="#000" stroke-width="1.8"/>
<text transform="matrix(0.3560,0,0,0.3211,150.22,1083.20)" font-size="100" fill="#000" stroke="#000" stroke-width="1.33" stroke-linejoin="round">2</text>
<line x1="174.70" y1="955.30" x2="190.30" y2="955.30" stroke="#000" stroke-width="1.8"/>
<text transform="matrix(0.3411,0,0,0.3166,150.72,965.58)" font-size="100" fill="#000" stroke="#000" stroke-width="1.37" stroke-linejoin="round">3</text>
<line x1="174.70" y1="838.00" x2="190.30" y2="838.00" stroke="#000" stroke-width="1.8"/>
<text transform="matrix(0.3485,0,0,0.3258,149.82,848.60)" font-size="100" fill="#000" stroke="#000" stroke-width="1.33" stroke-linejoin="round">4</text>
<line x1="174.70" y1="720.70" x2="190.30" y2="720.70" stroke="#000" stroke-width="1.8"/>
<text transform="matrix(0.3411,0,0,0.3211,150.64,730.98)" font-size="100" fill="#000" stroke="#000" stroke-width="1.36" stroke-linejoin="round">5</text>
<text transform="matrix(0,-0.3769,0.3926,0,75.76,1231.11)" font-size="100" fill="#000" stroke="#000" stroke-width="1.17" stroke-linejoin="round">Fold change in expression</text>
<text transform="matrix(0,-0.3751,0.3907,0,121.91,1188.14)" font-size="100" fill="#000" stroke="#000" stroke-width="1.18" stroke-linejoin="round">upon SETX depletion</text>
<rect x="236.25" y="1272.25" width="42.70" height="34.95" fill="#c9462b" stroke="#000" stroke-width="1.9"/>
<line x1="257.60" y1="1270.00" x2="257.60" y2="1272.80" stroke="#000" stroke-width="1.7"/>
<line x1="245.60" y1="1270.00" x2="269.60" y2="1270.00" stroke="#000" stroke-width="1.7"/>
<line x1="245.60" y1="1272.80" x2="269.60" y2="1272.80" stroke="#000" stroke-width="1.7"/>
<g fill="#000"><circle cx="241.7" cy="1274.0" r="6.1"/><circle cx="257.7" cy="1268.3" r="6.1"/><circle cx="274.0" cy="1273.0" r="6.1"/></g>
<text transform="matrix(0.3612,0,0,0.3763,230.37,1264.94)" font-size="100" fill="#000" stroke="#000" stroke-width="1.22" stroke-linejoin="round">****</text>
<text transform="matrix(0.2774,0,0,0.2890,221.45,1350.38)" font-size="100" fill="#000" stroke="#000" stroke-width="1.59" stroke-linejoin="round">SETX</text>
<rect x="371.25" y="1258.65" width="42.70" height="48.55" fill="#c9462b" stroke="#000" stroke-width="1.9"/>
<line x1="392.60" y1="1244.30" x2="392.60" y2="1270.00" stroke="#000" stroke-width="1.7"/>
<line x1="380.60" y1="1244.30" x2="404.60" y2="1244.30" stroke="#000" stroke-width="1.7"/>
<line x1="380.60" y1="1270.00" x2="404.60" y2="1270.00" stroke="#000" stroke-width="1.7"/>
<g fill="#000"><circle cx="392.7" cy="1233.7" r="6.1"/><circle cx="392.7" cy="1260.3" r="6.1"/><circle cx="392.7" cy="1278.3" r="6.1"/></g>
<text transform="matrix(0.3624,0,0,0.3775,378.67,1232.70)" font-size="100" fill="#000" stroke="#000" stroke-width="1.22" stroke-linejoin="round">**</text>
<text transform="matrix(0.2778,0,0,0.2894,350.67,1350.40)" font-size="100" fill="#000" stroke="#000" stroke-width="1.59" stroke-linejoin="round">TCF19</text>
<rect x="506.25" y="1242.55" width="42.70" height="64.65" fill="#c9462b" stroke="#000" stroke-width="1.9"/>
<line x1="527.60" y1="1234.00" x2="527.60" y2="1247.70" stroke="#000" stroke-width="1.7"/>
<line x1="515.60" y1="1234.00" x2="539.60" y2="1234.00" stroke="#000" stroke-width="1.7"/>
<line x1="515.60" y1="1247.70" x2="539.60" y2="1247.70" stroke="#000" stroke-width="1.7"/>
<g fill="#000"><circle cx="511.0" cy="1252.0" r="6.1"/><circle cx="527.5" cy="1228.7" r="6.1"/><circle cx="544.3" cy="1242.7" r="6.1"/></g>
<text transform="matrix(0.3624,0,0,0.3775,513.67,1222.50)" font-size="100" fill="#000" stroke="#000" stroke-width="1.22" stroke-linejoin="round">**</text>
<text transform="matrix(0.2796,0,0,0.2913,482.90,1350.46)" font-size="100" fill="#000" stroke="#000" stroke-width="1.58" stroke-linejoin="round">GHITM</text>
<rect x="641.25" y="1246.65" width="42.70" height="60.55" fill="#c9462b" stroke="#000" stroke-width="1.9"/>
<line x1="662.60" y1="1232.30" x2="662.60" y2="1257.70" stroke="#000" stroke-width="1.7"/>
<line x1="650.60" y1="1232.30" x2="674.60" y2="1232.30" stroke="#000" stroke-width="1.7"/>
<line x1="650.60" y1="1257.70" x2="674.60" y2="1257.70" stroke="#000" stroke-width="1.7"/>
<g fill="#000"><circle cx="662.7" cy="1226.7" r="6.1"/><circle cx="662.7" cy="1239.3" r="6.1"/><circle cx="662.7" cy="1269.7" r="6.1"/></g>
<text transform="matrix(0.3577,0,0,0.3727,656.67,1222.25)" font-size="100" fill="#000" stroke="#000" stroke-width="1.23" stroke-linejoin="round">*</text>
<text transform="matrix(0.2786,0,0,0.2902,601.00,1350.57)" font-size="100" fill="#000" stroke="#000" stroke-width="1.58" stroke-linejoin="round">FAM222A</text>
<rect x="776.25" y="1236.95" width="42.70" height="70.25" fill="#c9462b" stroke="#000" stroke-width="1.9"/>
<line x1="797.60" y1="1221.30" x2="797.60" y2="1249.00" stroke="#000" stroke-width="1.7"/>
<line x1="785.60" y1="1221.30" x2="809.60" y2="1221.30" stroke="#000" stroke-width="1.7"/>
<line x1="785.60" y1="1249.00" x2="809.60" y2="1249.00" stroke="#000" stroke-width="1.7"/>
<g fill="#000"><circle cx="797.7" cy="1208.7" r="6.1"/><circle cx="797.7" cy="1243.3" r="6.1"/><circle cx="797.7" cy="1254.7" r="6.1"/></g>
<text transform="matrix(0.3577,0,0,0.3727,792.37,1192.85)" font-size="100" fill="#000" stroke="#000" stroke-width="1.23" stroke-linejoin="round">*</text>
<text transform="matrix(0.2785,0,0,0.2901,746.79,1350.42)" font-size="100" fill="#000" stroke="#000" stroke-width="1.58" stroke-linejoin="round">ZNF367</text>
<rect x="911.25" y="916.65" width="42.70" height="390.55" fill="#30569b" stroke="#000" stroke-width="1.9"/>
<line x1="932.60" y1="849.30" x2="932.60" y2="979.70" stroke="#000" stroke-width="1.7"/>
<line x1="920.60" y1="849.30" x2="944.60" y2="849.30" stroke="#000" stroke-width="1.7"/>
<line x1="920.60" y1="979.70" x2="944.60" y2="979.70" stroke="#000" stroke-width="1.7"/>
<g fill="#000"><circle cx="932.7" cy="788.3" r="6.1"/><circle cx="932.7" cy="951.0" r="6.1"/><circle cx="932.7" cy="1005.3" r="6.1"/></g>
<text transform="matrix(0.3493,0,0,0.3638,927.69,776.75)" font-size="100" fill="#000" stroke="#000" stroke-width="1.26" stroke-linejoin="round">*</text>
<text transform="matrix(0.2749,0,0,0.2863,891.93,1350.29)" font-size="100" fill="#000" stroke="#000" stroke-width="1.60" stroke-linejoin="round">MMP1</text>
<rect x="1046.25" y="1138.95" width="42.70" height="168.25" fill="#30569b" stroke="#000" stroke-width="1.9"/>
<line x1="1067.60" y1="1132.00" x2="1067.60" y2="1142.70" stroke="#000" stroke-width="1.7"/>
<line x1="1055.60" y1="1132.00" x2="1079.60" y2="1132.00" stroke="#000" stroke-width="1.7"/>
<line x1="1055.60" y1="1142.70" x2="1079.60" y2="1142.70" stroke="#000" stroke-width="1.7"/>
<g fill="#000"><circle cx="1051.0" cy="1144.0" r="6.1"/><circle cx="1067.7" cy="1126.7" r="6.1"/><circle cx="1084.0" cy="1142.3" r="6.1"/></g>
<text transform="matrix(0.3620,0,0,0.3771,1046.67,1116.68)" font-size="100" fill="#000" stroke="#000" stroke-width="1.22" stroke-linejoin="round">***</text>
<text transform="matrix(0.2782,0,0,0.2898,1040.88,1350.27)" font-size="100" fill="#000" stroke="#000" stroke-width="1.58" stroke-linejoin="round">JUN</text>
<rect x="1181.25" y="1051.95" width="42.70" height="255.25" fill="#30569b" stroke="#000" stroke-width="1.9"/>
<line x1="1202.60" y1="1006.30" x2="1202.60" y2="1094.20" stroke="#000" stroke-width="1.7"/>
<line x1="1190.60" y1="1006.30" x2="1214.60" y2="1006.30" stroke="#000" stroke-width="1.7"/>
<line x1="1190.60" y1="1094.20" x2="1214.60" y2="1094.20" stroke="#000" stroke-width="1.7"/>
<g fill="#000"><circle cx="1202.5" cy="997.0" r="6.1"/><circle cx="1202.5" cy="1016.7" r="6.1"/><circle cx="1202.5" cy="1137.3" r="6.1"/></g>
<text transform="matrix(0.3493,0,0,0.3638,1197.69,981.95)" font-size="100" fill="#000" stroke="#000" stroke-width="1.26" stroke-linejoin="round">*</text>
<text transform="matrix(0.2750,0,0,0.2864,1157.68,1350.30)" font-size="100" fill="#000" stroke="#000" stroke-width="1.60" stroke-linejoin="round">TM4SF</text>
<rect x="1316.25" y="1119.65" width="42.70" height="187.55" fill="#30569b" stroke="#000" stroke-width="1.9"/>
<line x1="1337.60" y1="1112.30" x2="1337.60" y2="1122.70" stroke="#000" stroke-width="1.7"/>
<line x1="1325.60" y1="1112.30" x2="1349.60" y2="1112.30" stroke="#000" stroke-width="1.7"/>
<line x1="1325.60" y1="1122.70" x2="1349.60" y2="1122.70" stroke="#000" stroke-width="1.7"/>
<g fill="#000"><circle cx="1321.0" cy="1109.0" r="6.1"/><circle cx="1321.0" cy="1127.3" r="6.1"/><circle cx="1354.0" cy="1119.0" r="6.1"/></g>
<text transform="matrix(0.3647,0,0,0.3799,1316.36,1099.07)" font-size="100" fill="#000" stroke="#000" stroke-width="1.21" stroke-linejoin="round">***</text>
<text transform="matrix(0.2777,0,0,0.2893,1292.61,1350.39)" font-size="100" fill="#000" stroke="#000" stroke-width="1.59" stroke-linejoin="round">GDF15</text>
<line x1="174.70" y1="1307.20" x2="1408.00" y2="1307.20" stroke="#000" stroke-width="1.9"/>
<text transform="matrix(0.3783,0,0,0.3941,743.81,1408.65)" font-size="100" fill="#000" stroke="#000" stroke-width="1.17" stroke-linejoin="round">Genes</text>
</g>
<g id="panel-d">
<text transform="matrix(0.3782,0,0,0.3619,32.99,1483.64)" font-size="100" font-weight="bold" fill="#000" stroke="#000" stroke-width="0.81" stroke-linejoin="round">d</text>
<line x1="126.00" y1="1538.70" x2="126.00" y2="1923.20" stroke="#000" stroke-width="3.5"/>
<line x1="124.20" y1="1921.40" x2="637.50" y2="1921.40" stroke="#000" stroke-width="3.6"/>
<line x1="114.50" y1="1556.30" x2="124.50" y2="1556.30" stroke="#333" stroke-width="3.8"/>
<text transform="matrix(0.3040,0,0,0.3134,62.78,1568.62)" font-size="100" fill="#4d4d4d" stroke="#4d4d4d" stroke-width="0.32" stroke-linejoin="round">0.8</text>
<line x1="114.50" y1="1643.00" x2="124.50" y2="1643.00" stroke="#333" stroke-width="3.8"/>
<text transform="matrix(0.3040,0,0,0.3134,62.78,1655.32)" font-size="100" fill="#4d4d4d" stroke="#4d4d4d" stroke-width="0.32" stroke-linejoin="round">0.6</text>
<line x1="114.50" y1="1729.70" x2="124.50" y2="1729.70" stroke="#333" stroke-width="3.8"/>
<text transform="matrix(0.3006,0,0,0.3099,62.80,1741.90)" font-size="100" fill="#4d4d4d" stroke="#4d4d4d" stroke-width="0.33" stroke-linejoin="round">0.4</text>
<line x1="114.50" y1="1816.40" x2="124.50" y2="1816.40" stroke="#333" stroke-width="3.8"/>
<text transform="matrix(0.3058,0,0,0.3152,62.78,1828.79)" font-size="100" fill="#4d4d4d" stroke="#4d4d4d" stroke-width="0.32" stroke-linejoin="round">0.2</text>
<line x1="114.50" y1="1903.00" x2="124.50" y2="1903.00" stroke="#333" stroke-width="3.8"/>
<text transform="matrix(0.3029,0,0,0.3122,62.79,1915.28)" font-size="100" fill="#4d4d4d" stroke="#4d4d4d" stroke-width="0.33" stroke-linejoin="round">0.0</text>
<line x1="223.30" y1="1923.00" x2="223.30" y2="1931.30" stroke="#333" stroke-width="3.8"/>
<line x1="387.60" y1="1923.00" x2="387.60" y2="1931.30" stroke="#333" stroke-width="3.8"/>
<line x1="552.00" y1="1923.00" x2="552.00" y2="1931.30" stroke="#333" stroke-width="3.8"/>
<text transform="matrix(0.3072,0,0,0.3167,161.62,1961.56)" font-size="100" fill="#4d4d4d" stroke="#4d4d4d" stroke-width="0.32" stroke-linejoin="round">SETX up</text>
<text transform="matrix(0.3074,0,0,0.3169,306.62,1962.53)" font-size="100" fill="#4d4d4d" stroke="#4d4d4d" stroke-width="0.32" stroke-linejoin="round">SETX down</text>
<text transform="matrix(0.3059,0,0,0.3154,493.47,1962.04)" font-size="100" fill="#4d4d4d" stroke="#4d4d4d" stroke-width="0.32" stroke-linejoin="round">Genome</text>
<text transform="matrix(0,-0.3825,0.3825,0,44.90,1838.16)" font-size="100" fill="#000" stroke="#000" stroke-width="0.65" stroke-linejoin="round">RLFS per kb</text>
<text transform="matrix(0.3580,0,0,0.3690,351.37,1500.81)" font-size="100" fill="#000" stroke="#000" stroke-width="0.83" stroke-linejoin="round">****</text>
<line x1="223.70" y1="1497.30" x2="553.30" y2="1497.30" stroke="#000" stroke-width="1.5"/>
<text transform="matrix(0.3586,0,0,0.3697,443.07,1547.75)" font-size="100" fill="#000" stroke="#000" stroke-width="0.82" stroke-linejoin="round">****</text>
<line x1="388.70" y1="1541.80" x2="553.30" y2="1541.80" stroke="#000" stroke-width="1.5"/>
<path d="M222.7,1556.2 L222.7,1557.2 L222.7,1558.2 L222.7,1559.2 L222.7,1560.2 L222.7,1561.2 L222.7,1562.2 L222.7,1563.2 L222.7,1564.2 L222.7,1565.2 L222.7,1566.2 L222.7,1567.2 L222.7,1568.2 L222.7,1569.2 L222.7,1570.2 L222.7,1571.2 L222.7,1572.2 L222.7,1573.2 L222.7,1574.2 L222.7,1575.2 L222.7,1576.2 L222.7,1577.2 L222.7,1578.2 L222.7,1579.2 L222.7,1580.2 L222.7,1581.2 L222.7,1582.2 L222.7,1583.2 L222.7,1584.2 L222.7,1585.2 L222.7,1586.2 L222.7,1587.2 L222.7,1588.2 L222.7,1589.2 L222.7,1590.2 L222.7,1591.2 L222.7,1592.2 L222.7,1593.2 L222.7,1594.2 L222.7,1595.2 L222.7,1596.2 L222.7,1597.2 L222.7,1598.2 L222.7,1599.2 L222.6,1600.2 L222.6,1601.2 L222.6,1602.2 L222.6,1603.2 L222.6,1604.2 L222.6,1605.2 L222.6,1606.2 L222.6,1607.2 L222.6,1608.2 L222.6,1609.2 L222.6,1610.2 L222.6,1611.2 L222.6,1612.2 L222.6,1613.2 L222.6,1614.2 L222.6,1615.2 L222.6,1616.2 L222.6,1617.2 L222.6,1618.2 L222.6,1619.2 L222.5,1620.2 L222.5,1621.2 L222.5,1622.2 L222.5,1623.2 L222.5,1624.2 L222.5,1625.2 L222.5,1626.2 L222.5,1627.2 L222.5,1628.2 L222.4,1629.2 L222.4,1630.2 L222.4,1631.2 L222.4,1632.2 L222.4,1633.2 L222.4,1634.2 L222.4,1635.2 L222.4,1636.2 L222.3,1637.2 L222.3,1638.2 L222.3,1639.2 L222.3,1640.2 L222.3,1641.2 L222.3,1642.2 L222.3,1643.2 L222.2,1644.2 L222.2,1645.2 L222.2,1646.2 L222.2,1647.2 L222.2,1648.2 L222.2,1649.2 L222.1,1650.2 L222.1,1651.2 L222.1,1652.2 L222.1,1653.2 L222.1,1654.2 L222.0,1655.2 L222.0,1656.2 L222.0,1657.2 L222.0,1658.2 L221.9,1659.2 L221.9,1660.2 L221.9,1661.2 L221.9,1662.2 L221.8,1663.2 L221.8,1664.2 L221.8,1665.2 L221.7,1666.2 L221.7,1667.2 L221.6,1668.2 L221.6,1669.2 L221.6,1670.2 L221.5,1671.2 L221.5,1672.2 L221.5,1673.2 L221.4,1674.2 L221.4,1675.2 L221.4,1676.2 L221.3,1677.2 L221.3,1678.2 L221.2,1679.2 L221.2,1680.2 L221.2,1681.2 L221.1,1682.2 L221.1,1683.2 L221.0,1684.2 L221.0,1685.2 L220.9,1686.2 L220.9,1687.2 L220.8,1688.2 L220.8,1689.2 L220.7,1690.2 L220.7,1691.2 L220.6,1692.2 L220.6,1693.2 L220.5,1694.2 L220.5,1695.2 L220.4,1696.2 L220.3,1697.2 L220.3,1698.2 L220.2,1699.2 L220.1,1700.2 L220.1,1701.2 L220.0,1702.2 L219.9,1703.2 L219.8,1704.2 L219.7,1705.2 L219.6,1706.2 L219.4,1707.2 L219.3,1708.2 L219.2,1709.2 L219.0,1710.2 L218.9,1711.2 L218.8,1712.2 L218.6,1713.2 L218.5,1714.2 L218.3,1715.2 L218.2,1716.2 L218.0,1717.2 L217.9,1718.2 L217.7,1719.2 L217.6,1720.2 L217.4,1721.2 L217.3,1722.2 L217.1,1723.2 L217.0,1724.2 L216.9,1725.2 L216.7,1726.2 L216.6,1727.2 L216.4,1728.2 L216.3,1729.2 L216.1,1730.2 L216.0,1731.2 L215.8,1732.2 L215.7,1733.2 L215.5,1734.2 L215.4,1735.2 L215.2,1736.2 L215.0,1737.2 L214.9,1738.2 L214.7,1739.2 L214.6,1740.2 L214.4,1741.2 L214.3,1742.2 L214.1,1743.2 L214.0,1744.2 L213.8,1745.2 L213.7,1746.2 L213.5,1747.2 L213.4,1748.2 L213.3,1749.2 L213.1,1750.2 L213.0,1751.2 L212.9,1752.2 L212.7,1753.2 L212.6,1754.2 L212.5,1755.2 L212.3,1756.2 L212.2,1757.2 L212.1,1758.2 L211.9,1759.2 L211.8,1760.2 L211.7,1761.2 L211.6,1762.2 L211.4,1763.2 L211.3,1764.2 L211.2,1765.2 L211.1,1766.2 L211.0,1767.2 L210.9,1768.2 L210.7,1769.2 L210.6,1770.2 L210.5,1771.2 L210.4,1772.2 L210.3,1773.2 L210.2,1774.2 L210.1,1775.2 L210.0,1776.2 L209.9,1777.2 L209.9,1778.2 L209.8,1779.2 L209.7,1780.2 L209.6,1781.2 L209.5,1782.2 L209.5,1783.2 L209.4,1784.2 L209.3,1785.2 L209.2,1786.2 L209.2,1787.2 L209.1,1788.2 L209.0,1789.2 L209.0,1790.2 L208.9,1791.2 L208.8,1792.2 L208.7,1793.2 L208.6,1794.2 L208.6,1795.2 L208.5,1796.2 L208.4,1797.2 L208.3,1798.2 L208.2,1799.2 L208.1,1800.2 L208.0,1801.2 L207.9,1802.2 L207.8,1803.2 L207.7,1804.2 L207.6,1805.2 L207.6,1806.2 L207.5,1807.2 L207.4,1808.2 L207.3,1809.2 L207.1,1810.2 L207.0,1811.2 L206.9,1812.2 L206.8,1813.2 L206.7,1814.2 L206.6,1815.2 L206.5,1816.2 L206.3,1817.2 L206.2,1818.2 L206.1,1819.2 L205.9,1820.2 L205.8,1821.2 L205.6,1822.2 L205.5,1823.2 L205.3,1824.2 L205.1,1825.2 L204.9,1826.2 L204.7,1827.2 L204.4,1828.2 L204.2,1829.2 L203.9,1830.2 L203.6,1831.2 L203.3,1832.2 L203.0,1833.2 L202.6,1834.2 L202.3,1835.2 L201.9,1836.2 L201.6,1837.2 L201.2,1838.2 L200.9,1839.2 L200.6,1840.2 L200.2,1841.2 L199.9,1842.2 L199.5,1843.2 L199.2,1844.2 L198.8,1845.2 L198.4,1846.2 L198.0,1847.2 L197.6,1848.2 L197.2,1849.2 L196.8,1850.2 L196.3,1851.2 L195.9,1852.2 L195.4,1853.2 L194.9,1854.2 L194.3,1855.2 L193.8,1856.2 L193.3,1857.2 L192.7,1858.2 L192.2,1859.2 L191.7,1860.2 L191.2,1861.2 L190.8,1862.2 L190.3,1863.2 L189.9,1864.2 L189.4,1865.2 L189.0,1866.2 L188.5,1867.2 L188.1,1868.2 L187.7,1869.2 L187.3,1870.2 L186.9,1871.2 L186.5,1872.2 L186.2,1873.2 L185.9,1874.2 L185.6,1875.2 L185.3,1876.2 L185.0,1877.2 L184.7,1878.2 L184.4,1879.2 L184.1,1880.2 L183.8,1881.2 L183.6,1882.2 L183.4,1883.2 L183.3,1884.2 L183.2,1885.2 L183.2,1886.2 L183.2,1887.2 L183.3,1888.2 L183.4,1889.2 L183.6,1890.2 L183.8,1891.2 L184.1,1892.2 L184.4,1893.2 L184.7,1894.2 L185.0,1895.2 L185.4,1896.2 L186.0,1897.2 L186.7,1898.2 L187.5,1899.2 L188.4,1900.2 L189.5,1901.2 L190.8,1902.2 L191.9,1903.0 L255.6,1903.0 L256.7,1902.2 L258.0,1901.2 L259.1,1900.2 L260.0,1899.2 L260.8,1898.2 L261.5,1897.2 L262.1,1896.2 L262.5,1895.2 L262.8,1894.2 L263.1,1893.2 L263.4,1892.2 L263.7,1891.2 L263.9,1890.2 L264.1,1889.2 L264.2,1888.2 L264.3,1887.2 L264.4,1886.2 L264.3,1885.2 L264.2,1884.2 L264.1,1883.2 L263.9,1882.2 L263.7,1881.2 L263.4,1880.2 L263.1,1879.2 L262.8,1878.2 L262.5,1877.2 L262.2,1876.2 L261.9,1875.2 L261.6,1874.2 L261.3,1873.2 L261.0,1872.2 L260.6,1871.2 L260.2,1870.2 L259.8,1869.2 L259.4,1868.2 L259.0,1867.2 L258.5,1866.2 L258.1,1865.2 L257.6,1864.2 L257.2,1863.2 L256.7,1862.2 L256.3,1861.2 L255.8,1860.2 L255.3,1859.2 L254.8,1858.2 L254.2,1857.2 L253.7,1856.2 L253.2,1855.2 L252.6,1854.2 L252.1,1853.2 L251.6,1852.2 L251.2,1851.2 L250.7,1850.2 L250.3,1849.2 L249.9,1848.2 L249.5,1847.2 L249.1,1846.2 L248.7,1845.2 L248.3,1844.2 L248.0,1843.2 L247.6,1842.2 L247.3,1841.2 L246.9,1840.2 L246.6,1839.2 L246.3,1838.2 L245.9,1837.2 L245.6,1836.2 L245.2,1835.2 L244.9,1834.2 L244.5,1833.2 L244.2,1832.2 L243.9,1831.2 L243.6,1830.2 L243.3,1829.2 L243.1,1828.2 L242.8,1827.2 L242.6,1826.2 L242.4,1825.2 L242.2,1824.2 L242.0,1823.2 L241.9,1822.2 L241.7,1821.2 L241.6,1820.2 L241.4,1819.2 L241.3,1818.2 L241.2,1817.2 L241.0,1816.2 L240.9,1815.2 L240.8,1814.2 L240.7,1813.2 L240.6,1812.2 L240.5,1811.2 L240.4,1810.2 L240.2,1809.2 L240.1,1808.2 L240.0,1807.2 L239.9,1806.2 L239.9,1805.2 L239.8,1804.2 L239.7,1803.2 L239.6,1802.2 L239.5,1801.2 L239.4,1800.2 L239.3,1799.2 L239.2,1798.2 L239.1,1797.2 L239.0,1796.2 L238.9,1795.2 L238.9,1794.2 L238.8,1793.2 L238.7,1792.2 L238.6,1791.2 L238.5,1790.2 L238.5,1789.2 L238.4,1788.2 L238.3,1787.2 L238.3,1786.2 L238.2,1785.2 L238.1,1784.2 L238.0,1783.2 L238.0,1782.2 L237.9,1781.2 L237.8,1780.2 L237.7,1779.2 L237.6,1778.2 L237.6,1777.2 L237.5,1776.2 L237.4,1775.2 L237.3,1774.2 L237.2,1773.2 L237.1,1772.2 L237.0,1771.2 L236.9,1770.2 L236.8,1769.2 L236.6,1768.2 L236.5,1767.2 L236.4,1766.2 L236.3,1765.2 L236.2,1764.2 L236.1,1763.2 L235.9,1762.2 L235.8,1761.2 L235.7,1760.2 L235.6,1759.2 L235.4,1758.2 L235.3,1757.2 L235.2,1756.2 L235.0,1755.2 L234.9,1754.2 L234.8,1753.2 L234.6,1752.2 L234.5,1751.2 L234.4,1750.2 L234.2,1749.2 L234.1,1748.2 L234.0,1747.2 L233.8,1746.2 L233.7,1745.2 L233.5,1744.2 L233.4,1743.2 L233.2,1742.2 L233.1,1741.2 L232.9,1740.2 L232.8,1739.2 L232.6,1738.2 L232.5,1737.2 L232.3,1736.2 L232.1,1735.2 L232.0,1734.2 L231.8,1733.2 L231.7,1732.2 L231.5,1731.2 L231.4,1730.2 L231.2,1729.2 L231.1,1728.2 L230.9,1727.2 L230.8,1726.2 L230.6,1725.2 L230.5,1724.2 L230.4,1723.2 L230.2,1722.2 L230.1,1721.2 L229.9,1720.2 L229.8,1719.2 L229.6,1718.2 L229.5,1717.2 L229.3,1716.2 L229.2,1715.2 L229.0,1714.2 L228.9,1713.2 L228.7,1712.2 L228.6,1711.2 L228.5,1710.2 L228.3,1709.2 L228.2,1708.2 L228.1,1707.2 L227.9,1706.2 L227.8,1705.2 L227.7,1704.2 L227.6,1703.2 L227.5,1702.2 L227.4,1701.2 L227.4,1700.2 L227.3,1699.2 L227.2,1698.2 L227.2,1697.2 L227.1,1696.2 L227.0,1695.2 L227.0,1694.2 L226.9,1693.2 L226.9,1692.2 L226.8,1691.2 L226.8,1690.2 L226.7,1689.2 L226.7,1688.2 L226.6,1687.2 L226.6,1686.2 L226.5,1685.2 L226.5,1684.2 L226.4,1683.2 L226.4,1682.2 L226.3,1681.2 L226.3,1680.2 L226.3,1679.2 L226.2,1678.2 L226.2,1677.2 L226.1,1676.2 L226.1,1675.2 L226.1,1674.2 L226.0,1673.2 L226.0,1672.2 L226.0,1671.2 L225.9,1670.2 L225.9,1669.2 L225.9,1668.2 L225.8,1667.2 L225.8,1666.2 L225.7,1665.2 L225.7,1664.2 L225.7,1663.2 L225.6,1662.2 L225.6,1661.2 L225.6,1660.2 L225.6,1659.2 L225.5,1658.2 L225.5,1657.2 L225.5,1656.2 L225.5,1655.2 L225.4,1654.2 L225.4,1653.2 L225.4,1652.2 L225.4,1651.2 L225.4,1650.2 L225.3,1649.2 L225.3,1648.2 L225.3,1647.2 L225.3,1646.2 L225.3,1645.2 L225.3,1644.2 L225.2,1643.2 L225.2,1642.2 L225.2,1641.2 L225.2,1640.2 L225.2,1639.2 L225.2,1638.2 L225.2,1637.2 L225.1,1636.2 L225.1,1635.2 L225.1,1634.2 L225.1,1633.2 L225.1,1632.2 L225.1,1631.2 L225.1,1630.2 L225.1,1629.2 L225.0,1628.2 L225.0,1627.2 L225.0,1626.2 L225.0,1625.2 L225.0,1624.2 L225.0,1623.2 L225.0,1622.2 L225.0,1621.2 L225.0,1620.2 L224.9,1619.2 L224.9,1618.2 L224.9,1617.2 L224.9,1616.2 L224.9,1615.2 L224.9,1614.2 L224.9,1613.2 L224.9,1612.2 L224.9,1611.2 L224.9,1610.2 L224.9,1609.2 L224.9,1608.2 L224.9,1607.2 L224.9,1606.2 L224.9,1605.2 L224.9,1604.2 L224.9,1603.2 L224.9,1602.2 L224.9,1601.2 L224.9,1600.2 L224.8,1599.2 L224.8,1598.2 L224.8,1597.2 L224.8,1596.2 L224.8,1595.2 L224.8,1594.2 L224.8,1593.2 L224.8,1592.2 L224.8,1591.2 L224.8,1590.2 L224.8,1589.2 L224.8,1588.2 L224.8,1587.2 L224.8,1586.2 L224.8,1585.2 L224.8,1584.2 L224.8,1583.2 L224.8,1582.2 L224.8,1581.2 L224.8,1580.2 L224.8,1579.2 L224.8,1578.2 L224.8,1577.2 L224.8,1576.2 L224.8,1575.2 L224.8,1574.2 L224.8,1573.2 L224.8,1572.2 L224.8,1571.2 L224.8,1570.2 L224.8,1569.2 L224.8,1568.2 L224.8,1567.2 L224.8,1566.2 L224.8,1565.2 L224.8,1564.2 L224.8,1563.2 L224.8,1562.2 L224.8,1561.2 L224.8,1560.2 L224.8,1559.2 L224.8,1558.2 L224.8,1557.2 L224.8,1556.2Z" fill="#ffd34f" stroke="#393939" stroke-width="4.8" stroke-linejoin="round"/>
<line x1="223.75" y1="1557.25" x2="223.75" y2="1789.50" stroke="#393939" stroke-width="4.8"/>
<line x1="223.75" y1="1892.00" x2="223.75" y2="1903.00" stroke="#393939" stroke-width="4.8"/>
<rect x="216.15" y="1791.90" width="15.20" height="97.70" fill="#ffd34f" stroke="#393939" stroke-width="4.8" stroke-linejoin="round"/>
<line x1="214.75" y1="1863.00" x2="232.75" y2="1863.00" stroke="#393939" stroke-width="7.5"/>
<path d="M386.9,1586.2 L386.9,1587.2 L386.9,1588.2 L386.9,1589.2 L386.9,1590.2 L386.9,1591.2 L386.9,1592.2 L386.9,1593.2 L386.9,1594.2 L386.9,1595.2 L386.9,1596.2 L386.9,1597.2 L386.8,1598.2 L386.8,1599.2 L386.8,1600.2 L386.8,1601.2 L386.8,1602.2 L386.8,1603.2 L386.8,1604.2 L386.8,1605.2 L386.8,1606.2 L386.7,1607.2 L386.7,1608.2 L386.7,1609.2 L386.7,1610.2 L386.7,1611.2 L386.7,1612.2 L386.6,1613.2 L386.6,1614.2 L386.6,1615.2 L386.6,1616.2 L386.6,1617.2 L386.5,1618.2 L386.5,1619.2 L386.5,1620.2 L386.5,1621.2 L386.5,1622.2 L386.4,1623.2 L386.4,1624.2 L386.4,1625.2 L386.4,1626.2 L386.3,1627.2 L386.3,1628.2 L386.2,1629.2 L386.2,1630.2 L386.1,1631.2 L386.0,1632.2 L385.9,1633.2 L385.9,1634.2 L385.8,1635.2 L385.7,1636.2 L385.6,1637.2 L385.5,1638.2 L385.4,1639.2 L385.3,1640.2 L385.2,1641.2 L385.1,1642.2 L385.0,1643.2 L384.9,1644.2 L384.8,1645.2 L384.7,1646.2 L384.6,1647.2 L384.5,1648.2 L384.5,1649.2 L384.4,1650.2 L384.3,1651.2 L384.2,1652.2 L384.1,1653.2 L384.0,1654.2 L383.9,1655.2 L383.8,1656.2 L383.7,1657.2 L383.6,1658.2 L383.5,1659.2 L383.4,1660.2 L383.3,1661.2 L383.3,1662.2 L383.2,1663.2 L383.1,1664.2 L383.0,1665.2 L383.0,1666.2 L383.0,1667.2 L382.9,1668.2 L382.9,1669.2 L382.9,1670.2 L382.9,1671.2 L382.9,1672.2 L382.9,1673.2 L382.9,1674.2 L382.9,1675.2 L382.9,1676.2 L382.9,1677.2 L382.9,1678.2 L382.9,1679.2 L382.9,1680.2 L382.9,1681.2 L382.9,1682.2 L382.9,1683.2 L382.9,1684.2 L382.9,1685.2 L382.9,1686.2 L382.9,1687.2 L382.9,1688.2 L382.9,1689.2 L382.9,1690.2 L382.9,1691.2 L382.9,1692.2 L382.9,1693.2 L382.9,1694.2 L382.9,1695.2 L382.9,1696.2 L382.9,1697.2 L382.9,1698.2 L382.9,1699.2 L382.9,1700.2 L382.9,1701.2 L382.9,1702.2 L382.8,1703.2 L382.8,1704.2 L382.8,1705.2 L382.7,1706.2 L382.7,1707.2 L382.6,1708.2 L382.5,1709.2 L382.5,1710.2 L382.4,1711.2 L382.3,1712.2 L382.2,1713.2 L382.1,1714.2 L382.0,1715.2 L381.9,1716.2 L381.9,1717.2 L381.8,1718.2 L381.7,1719.2 L381.6,1720.2 L381.5,1721.2 L381.4,1722.2 L381.3,1723.2 L381.2,1724.2 L381.1,1725.2 L381.0,1726.2 L381.0,1727.2 L380.9,1728.2 L380.8,1729.2 L380.7,1730.2 L380.5,1731.2 L380.4,1732.2 L380.3,1733.2 L380.2,1734.2 L380.1,1735.2 L380.0,1736.2 L379.9,1737.2 L379.8,1738.2 L379.7,1739.2 L379.5,1740.2 L379.4,1741.2 L379.3,1742.2 L379.2,1743.2 L379.1,1744.2 L379.0,1745.2 L378.9,1746.2 L378.9,1747.2 L378.8,1748.2 L378.7,1749.2 L378.6,1750.2 L378.6,1751.2 L378.5,1752.2 L378.4,1753.2 L378.4,1754.2 L378.3,1755.2 L378.3,1756.2 L378.2,1757.2 L378.2,1758.2 L378.1,1759.2 L378.1,1760.2 L378.0,1761.2 L378.0,1762.2 L377.9,1763.2 L377.9,1764.2 L377.8,1765.2 L377.8,1766.2 L377.8,1767.2 L377.7,1768.2 L377.7,1769.2 L377.6,1770.2 L377.6,1771.2 L377.5,1772.2 L377.5,1773.2 L377.4,1774.2 L377.4,1775.2 L377.3,1776.2 L377.3,1777.2 L377.2,1778.2 L377.2,1779.2 L377.2,1780.2 L377.1,1781.2 L377.1,1782.2 L377.0,1783.2 L377.0,1784.2 L376.9,1785.2 L376.9,1786.2 L376.9,1787.2 L376.8,1788.2 L376.8,1789.2 L376.7,1790.2 L376.7,1791.2 L376.6,1792.2 L376.6,1793.2 L376.5,1794.2 L376.5,1795.2 L376.4,1796.2 L376.3,1797.2 L376.3,1798.2 L376.2,1799.2 L376.1,1800.2 L376.0,1801.2 L376.0,1802.2 L375.9,1803.2 L375.8,1804.2 L375.6,1805.2 L375.5,1806.2 L375.4,1807.2 L375.3,1808.2 L375.1,1809.2 L375.0,1810.2 L374.8,1811.2 L374.7,1812.2 L374.5,1813.2 L374.4,1814.2 L374.2,1815.2 L374.0,1816.2 L373.8,1817.2 L373.7,1818.2 L373.5,1819.2 L373.3,1820.2 L373.1,1821.2 L372.9,1822.2 L372.7,1823.2 L372.5,1824.2 L372.4,1825.2 L372.2,1826.2 L372.0,1827.2 L371.8,1828.2 L371.6,1829.2 L371.4,1830.2 L371.1,1831.2 L370.9,1832.2 L370.7,1833.2 L370.4,1834.2 L370.2,1835.2 L369.9,1836.2 L369.6,1837.2 L369.3,1838.2 L368.9,1839.2 L368.6,1840.2 L368.1,1841.2 L367.6,1842.2 L367.1,1843.2 L366.4,1844.2 L365.8,1845.2 L365.1,1846.2 L364.4,1847.2 L363.6,1848.2 L362.9,1849.2 L362.2,1850.2 L361.5,1851.2 L360.7,1852.2 L359.9,1853.2 L359.1,1854.2 L358.2,1855.2 L357.4,1856.2 L356.5,1857.2 L355.7,1858.2 L354.9,1859.2 L354.1,1860.2 L353.3,1861.2 L352.6,1862.2 L351.9,1863.2 L351.2,1864.2 L350.5,1865.2 L349.9,1866.2 L349.2,1867.2 L348.6,1868.2 L347.9,1869.2 L347.4,1870.2 L346.8,1871.2 L346.2,1872.2 L345.7,1873.2 L345.2,1874.2 L344.8,1875.2 L344.3,1876.2 L343.9,1877.2 L343.4,1878.2 L343.0,1879.2 L342.5,1880.2 L342.1,1881.2 L341.7,1882.2 L341.4,1883.2 L341.1,1884.2 L340.9,1885.2 L340.7,1886.2 L340.7,1887.2 L340.7,1888.2 L340.8,1889.2 L340.9,1890.2 L341.1,1891.2 L341.4,1892.2 L341.7,1893.2 L342.0,1894.2 L342.3,1895.2 L342.7,1896.2 L343.1,1897.2 L343.5,1898.2 L344.0,1899.2 L344.6,1900.2 L345.4,1901.2 L346.5,1902.2 L347.9,1903.2 L348.6,1903.8 L427.4,1903.8 L428.1,1903.2 L429.5,1902.2 L430.6,1901.2 L431.4,1900.2 L432.0,1899.2 L432.5,1898.2 L432.9,1897.2 L433.3,1896.2 L433.7,1895.2 L434.0,1894.2 L434.3,1893.2 L434.6,1892.2 L434.9,1891.2 L435.1,1890.2 L435.2,1889.2 L435.3,1888.2 L435.3,1887.2 L435.3,1886.2 L435.1,1885.2 L434.9,1884.2 L434.6,1883.2 L434.3,1882.2 L433.9,1881.2 L433.5,1880.2 L433.0,1879.2 L432.6,1878.2 L432.1,1877.2 L431.7,1876.2 L431.2,1875.2 L430.8,1874.2 L430.3,1873.2 L429.8,1872.2 L429.2,1871.2 L428.6,1870.2 L428.1,1869.2 L427.4,1868.2 L426.8,1867.2 L426.1,1866.2 L425.5,1865.2 L424.8,1864.2 L424.1,1863.2 L423.4,1862.2 L422.7,1861.2 L421.9,1860.2 L421.1,1859.2 L420.3,1858.2 L419.5,1857.2 L418.6,1856.2 L417.8,1855.2 L416.9,1854.2 L416.1,1853.2 L415.3,1852.2 L414.5,1851.2 L413.8,1850.2 L413.1,1849.2 L412.4,1848.2 L411.6,1847.2 L410.9,1846.2 L410.2,1845.2 L409.6,1844.2 L408.9,1843.2 L408.4,1842.2 L407.9,1841.2 L407.4,1840.2 L407.1,1839.2 L406.7,1838.2 L406.4,1837.2 L406.1,1836.2 L405.8,1835.2 L405.6,1834.2 L405.3,1833.2 L405.1,1832.2 L404.9,1831.2 L404.6,1830.2 L404.4,1829.2 L404.2,1828.2 L404.0,1827.2 L403.8,1826.2 L403.6,1825.2 L403.5,1824.2 L403.3,1823.2 L403.1,1822.2 L402.9,1821.2 L402.7,1820.2 L402.5,1819.2 L402.3,1818.2 L402.2,1817.2 L402.0,1816.2 L401.8,1815.2 L401.6,1814.2 L401.5,1813.2 L401.3,1812.2 L401.2,1811.2 L401.0,1810.2 L400.9,1809.2 L400.7,1808.2 L400.6,1807.2 L400.5,1806.2 L400.4,1805.2 L400.2,1804.2 L400.1,1803.2 L400.0,1802.2 L400.0,1801.2 L399.9,1800.2 L399.8,1799.2 L399.7,1798.2 L399.7,1797.2 L399.6,1796.2 L399.5,1795.2 L399.5,1794.2 L399.4,1793.2 L399.4,1792.2 L399.3,1791.2 L399.3,1790.2 L399.2,1789.2 L399.2,1788.2 L399.1,1787.2 L399.1,1786.2 L399.1,1785.2 L399.0,1784.2 L399.0,1783.2 L398.9,1782.2 L398.9,1781.2 L398.8,1780.2 L398.8,1779.2 L398.8,1778.2 L398.7,1777.2 L398.7,1776.2 L398.6,1775.2 L398.6,1774.2 L398.5,1773.2 L398.5,1772.2 L398.4,1771.2 L398.4,1770.2 L398.3,1769.2 L398.3,1768.2 L398.2,1767.2 L398.2,1766.2 L398.2,1765.2 L398.1,1764.2 L398.1,1763.2 L398.0,1762.2 L398.0,1761.2 L397.9,1760.2 L397.9,1759.2 L397.8,1758.2 L397.8,1757.2 L397.7,1756.2 L397.7,1755.2 L397.6,1754.2 L397.6,1753.2 L397.5,1752.2 L397.4,1751.2 L397.4,1750.2 L397.3,1749.2 L397.2,1748.2 L397.1,1747.2 L397.1,1746.2 L397.0,1745.2 L396.9,1744.2 L396.8,1743.2 L396.7,1742.2 L396.6,1741.2 L396.5,1740.2 L396.3,1739.2 L396.2,1738.2 L396.1,1737.2 L396.0,1736.2 L395.9,1735.2 L395.8,1734.2 L395.7,1733.2 L395.6,1732.2 L395.5,1731.2 L395.3,1730.2 L395.2,1729.2 L395.1,1728.2 L395.0,1727.2 L395.0,1726.2 L394.9,1725.2 L394.8,1724.2 L394.7,1723.2 L394.6,1722.2 L394.5,1721.2 L394.4,1720.2 L394.3,1719.2 L394.2,1718.2 L394.1,1717.2 L394.1,1716.2 L394.0,1715.2 L393.9,1714.2 L393.8,1713.2 L393.7,1712.2 L393.6,1711.2 L393.5,1710.2 L393.5,1709.2 L393.4,1708.2 L393.3,1707.2 L393.3,1706.2 L393.2,1705.2 L393.2,1704.2 L393.2,1703.2 L393.1,1702.2 L393.1,1701.2 L393.1,1700.2 L393.1,1699.2 L393.1,1698.2 L393.1,1697.2 L393.1,1696.2 L393.1,1695.2 L393.1,1694.2 L393.1,1693.2 L393.1,1692.2 L393.1,1691.2 L393.1,1690.2 L393.1,1689.2 L393.1,1688.2 L393.1,1687.2 L393.1,1686.2 L393.1,1685.2 L393.1,1684.2 L393.1,1683.2 L393.1,1682.2 L393.1,1681.2 L393.1,1680.2 L393.1,1679.2 L393.1,1678.2 L393.1,1677.2 L393.1,1676.2 L393.1,1675.2 L393.1,1674.2 L393.1,1673.2 L393.1,1672.2 L393.1,1671.2 L393.1,1670.2 L393.1,1669.2 L393.1,1668.2 L393.0,1667.2 L393.0,1666.2 L393.0,1665.2 L392.9,1664.2 L392.8,1663.2 L392.7,1662.2 L392.7,1661.2 L392.6,1660.2 L392.5,1659.2 L392.4,1658.2 L392.3,1657.2 L392.2,1656.2 L392.1,1655.2 L392.0,1654.2 L391.9,1653.2 L391.8,1652.2 L391.7,1651.2 L391.6,1650.2 L391.5,1649.2 L391.5,1648.2 L391.4,1647.2 L391.3,1646.2 L391.2,1645.2 L391.1,1644.2 L391.0,1643.2 L390.9,1642.2 L390.8,1641.2 L390.7,1640.2 L390.6,1639.2 L390.5,1638.2 L390.4,1637.2 L390.3,1636.2 L390.2,1635.2 L390.1,1634.2 L390.1,1633.2 L390.0,1632.2 L389.9,1631.2 L389.8,1630.2 L389.8,1629.2 L389.7,1628.2 L389.7,1627.2 L389.6,1626.2 L389.6,1625.2 L389.6,1624.2 L389.6,1623.2 L389.5,1622.2 L389.5,1621.2 L389.5,1620.2 L389.5,1619.2 L389.5,1618.2 L389.4,1617.2 L389.4,1616.2 L389.4,1615.2 L389.4,1614.2 L389.4,1613.2 L389.3,1612.2 L389.3,1611.2 L389.3,1610.2 L389.3,1609.2 L389.3,1608.2 L389.3,1607.2 L389.2,1606.2 L389.2,1605.2 L389.2,1604.2 L389.2,1603.2 L389.2,1602.2 L389.2,1601.2 L389.2,1600.2 L389.2,1599.2 L389.2,1598.2 L389.1,1597.2 L389.1,1596.2 L389.1,1595.2 L389.1,1594.2 L389.1,1593.2 L389.1,1592.2 L389.1,1591.2 L389.1,1590.2 L389.1,1589.2 L389.1,1588.2 L389.1,1587.2 L389.1,1586.2Z" fill="#6dd47c" stroke="#393939" stroke-width="4.8" stroke-linejoin="round"/>
<line x1="388.00" y1="1587.25" x2="388.00" y2="1795.00" stroke="#393939" stroke-width="4.8"/>
<line x1="388.00" y1="1893.70" x2="388.00" y2="1903.75" stroke="#393939" stroke-width="4.8"/>
<rect x="380.40" y="1797.40" width="14.70" height="93.90" fill="#6dd47c" stroke="#393939" stroke-width="4.8" stroke-linejoin="round"/>
<line x1="379.00" y1="1876.00" x2="396.50" y2="1876.00" stroke="#393939" stroke-width="7.5"/>
<path d="M551.4,1559.5 L551.4,1560.5 L551.4,1561.5 L551.4,1562.5 L551.4,1563.5 L551.4,1564.5 L551.4,1565.5 L551.4,1566.5 L551.4,1567.5 L551.4,1568.5 L551.4,1569.5 L551.4,1570.5 L551.4,1571.5 L551.4,1572.5 L551.4,1573.5 L551.4,1574.5 L551.4,1575.5 L551.4,1576.5 L551.4,1577.5 L551.4,1578.5 L551.4,1579.5 L551.4,1580.5 L551.4,1581.5 L551.4,1582.5 L551.4,1583.5 L551.4,1584.5 L551.4,1585.5 L551.4,1586.5 L551.4,1587.5 L551.4,1588.5 L551.4,1589.5 L551.4,1590.5 L551.4,1591.5 L551.4,1592.5 L551.4,1593.5 L551.4,1594.5 L551.4,1595.5 L551.4,1596.5 L551.4,1597.5 L551.4,1598.5 L551.4,1599.5 L551.3,1600.5 L551.3,1601.5 L551.3,1602.5 L551.3,1603.5 L551.3,1604.5 L551.3,1605.5 L551.3,1606.5 L551.3,1607.5 L551.3,1608.5 L551.3,1609.5 L551.3,1610.5 L551.3,1611.5 L551.3,1612.5 L551.3,1613.5 L551.3,1614.5 L551.3,1615.5 L551.3,1616.5 L551.3,1617.5 L551.3,1618.5 L551.3,1619.5 L551.3,1620.5 L551.3,1621.5 L551.3,1622.5 L551.3,1623.5 L551.3,1624.5 L551.3,1625.5 L551.3,1626.5 L551.3,1627.5 L551.3,1628.5 L551.3,1629.5 L551.2,1630.5 L551.2,1631.5 L551.2,1632.5 L551.2,1633.5 L551.2,1634.5 L551.2,1635.5 L551.2,1636.5 L551.2,1637.5 L551.2,1638.5 L551.2,1639.5 L551.2,1640.5 L551.2,1641.5 L551.2,1642.5 L551.2,1643.5 L551.2,1644.5 L551.2,1645.5 L551.2,1646.5 L551.2,1647.5 L551.2,1648.5 L551.2,1649.5 L551.1,1650.5 L551.1,1651.5 L551.1,1652.5 L551.1,1653.5 L551.1,1654.5 L551.1,1655.5 L551.1,1656.5 L551.0,1657.5 L551.0,1658.5 L551.0,1659.5 L551.0,1660.5 L550.9,1661.5 L550.9,1662.5 L550.9,1663.5 L550.9,1664.5 L550.8,1665.5 L550.8,1666.5 L550.8,1667.5 L550.7,1668.5 L550.7,1669.5 L550.6,1670.5 L550.6,1671.5 L550.6,1672.5 L550.5,1673.5 L550.5,1674.5 L550.4,1675.5 L550.4,1676.5 L550.3,1677.5 L550.3,1678.5 L550.3,1679.5 L550.2,1680.5 L550.2,1681.5 L550.1,1682.5 L550.1,1683.5 L550.0,1684.5 L550.0,1685.5 L549.9,1686.5 L549.9,1687.5 L549.9,1688.5 L549.8,1689.5 L549.8,1690.5 L549.7,1691.5 L549.7,1692.5 L549.6,1693.5 L549.6,1694.5 L549.6,1695.5 L549.5,1696.5 L549.5,1697.5 L549.5,1698.5 L549.4,1699.5 L549.4,1700.5 L549.4,1701.5 L549.3,1702.5 L549.3,1703.5 L549.3,1704.5 L549.2,1705.5 L549.2,1706.5 L549.2,1707.5 L549.1,1708.5 L549.1,1709.5 L549.1,1710.5 L549.1,1711.5 L549.0,1712.5 L549.0,1713.5 L549.0,1714.5 L549.0,1715.5 L548.9,1716.5 L548.9,1717.5 L548.9,1718.5 L548.9,1719.5 L548.8,1720.5 L548.8,1721.5 L548.8,1722.5 L548.7,1723.5 L548.7,1724.5 L548.7,1725.5 L548.6,1726.5 L548.6,1727.5 L548.6,1728.5 L548.5,1729.5 L548.5,1730.5 L548.4,1731.5 L548.4,1732.5 L548.4,1733.5 L548.3,1734.5 L548.3,1735.5 L548.2,1736.5 L548.1,1737.5 L548.1,1738.5 L548.0,1739.5 L547.9,1740.5 L547.8,1741.5 L547.7,1742.5 L547.5,1743.5 L547.4,1744.5 L547.2,1745.5 L547.0,1746.5 L546.9,1747.5 L546.7,1748.5 L546.5,1749.5 L546.3,1750.5 L546.1,1751.5 L545.9,1752.5 L545.7,1753.5 L545.6,1754.5 L545.4,1755.5 L545.2,1756.5 L545.0,1757.5 L544.9,1758.5 L544.8,1759.5 L544.6,1760.5 L544.5,1761.5 L544.4,1762.5 L544.3,1763.5 L544.2,1764.5 L544.1,1765.5 L544.0,1766.5 L543.9,1767.5 L543.9,1768.5 L543.8,1769.5 L543.7,1770.5 L543.6,1771.5 L543.5,1772.5 L543.5,1773.5 L543.4,1774.5 L543.3,1775.5 L543.3,1776.5 L543.2,1777.5 L543.1,1778.5 L543.1,1779.5 L543.0,1780.5 L542.9,1781.5 L542.9,1782.5 L542.8,1783.5 L542.8,1784.5 L542.7,1785.5 L542.7,1786.5 L542.6,1787.5 L542.6,1788.5 L542.6,1789.5 L542.5,1790.5 L542.5,1791.5 L542.5,1792.5 L542.5,1793.5 L542.4,1794.5 L542.4,1795.5 L542.4,1796.5 L542.4,1797.5 L542.3,1798.5 L542.3,1799.5 L542.3,1800.5 L542.3,1801.5 L542.3,1802.5 L542.2,1803.5 L542.2,1804.5 L542.2,1805.5 L542.2,1806.5 L542.1,1807.5 L542.1,1808.5 L542.0,1809.5 L542.0,1810.5 L542.0,1811.5 L541.9,1812.5 L541.8,1813.5 L541.7,1814.5 L541.6,1815.5 L541.4,1816.5 L541.3,1817.5 L541.1,1818.5 L540.9,1819.5 L540.6,1820.5 L540.4,1821.5 L540.1,1822.5 L539.9,1823.5 L539.6,1824.5 L539.3,1825.5 L539.1,1826.5 L538.8,1827.5 L538.5,1828.5 L538.3,1829.5 L538.0,1830.5 L537.8,1831.5 L537.5,1832.5 L537.2,1833.5 L536.9,1834.5 L536.6,1835.5 L536.4,1836.5 L536.1,1837.5 L535.7,1838.5 L535.4,1839.5 L535.1,1840.5 L534.8,1841.5 L534.5,1842.5 L534.1,1843.5 L533.8,1844.5 L533.5,1845.5 L533.1,1846.5 L532.8,1847.5 L532.4,1848.5 L532.1,1849.5 L531.7,1850.5 L531.4,1851.5 L531.0,1852.5 L530.7,1853.5 L530.4,1854.5 L530.0,1855.5 L529.6,1856.5 L529.3,1857.5 L528.9,1858.5 L528.4,1859.5 L528.0,1860.5 L527.4,1861.5 L526.9,1862.5 L526.3,1863.5 L525.6,1864.5 L524.9,1865.5 L524.1,1866.5 L523.2,1867.5 L522.3,1868.5 L521.3,1869.5 L520.2,1870.5 L519.0,1871.5 L517.8,1872.5 L516.5,1873.5 L515.1,1874.5 L513.6,1875.5 L511.7,1876.5 L509.3,1877.5 L506.8,1878.5 L504.1,1879.5 L501.5,1880.5 L499.0,1881.5 L496.9,1882.5 L495.0,1883.5 L493.1,1884.5 L491.3,1885.5 L489.6,1886.5 L487.9,1887.5 L486.4,1888.5 L485.0,1889.5 L483.8,1890.5 L482.4,1891.5 L481.1,1892.5 L479.9,1893.5 L478.9,1894.5 L478.3,1895.5 L478.2,1896.5 L478.3,1897.5 L478.7,1898.5 L479.1,1899.5 L479.7,1900.5 L480.6,1901.5 L481.9,1902.5 L484.0,1903.5 L486.9,1904.5 L618.1,1904.5 L621.0,1903.5 L623.1,1902.5 L624.4,1901.5 L625.3,1900.5 L625.9,1899.5 L626.3,1898.5 L626.7,1897.5 L626.8,1896.5 L626.7,1895.5 L626.1,1894.5 L625.1,1893.5 L623.9,1892.5 L622.6,1891.5 L621.2,1890.5 L620.0,1889.5 L618.6,1888.5 L617.1,1887.5 L615.4,1886.5 L613.7,1885.5 L611.9,1884.5 L610.0,1883.5 L608.1,1882.5 L606.0,1881.5 L603.5,1880.5 L600.9,1879.5 L598.2,1878.5 L595.7,1877.5 L593.3,1876.5 L591.4,1875.5 L589.9,1874.5 L588.5,1873.5 L587.2,1872.5 L586.0,1871.5 L584.8,1870.5 L583.7,1869.5 L582.7,1868.5 L581.8,1867.5 L580.9,1866.5 L580.1,1865.5 L579.4,1864.5 L578.7,1863.5 L578.1,1862.5 L577.6,1861.5 L577.0,1860.5 L576.6,1859.5 L576.1,1858.5 L575.7,1857.5 L575.4,1856.5 L575.0,1855.5 L574.6,1854.5 L574.3,1853.5 L574.0,1852.5 L573.6,1851.5 L573.3,1850.5 L572.9,1849.5 L572.6,1848.5 L572.2,1847.5 L571.9,1846.5 L571.5,1845.5 L571.2,1844.5 L570.9,1843.5 L570.5,1842.5 L570.2,1841.5 L569.9,1840.5 L569.6,1839.5 L569.3,1838.5 L568.9,1837.5 L568.6,1836.5 L568.4,1835.5 L568.1,1834.5 L567.8,1833.5 L567.5,1832.5 L567.2,1831.5 L567.0,1830.5 L566.7,1829.5 L566.5,1828.5 L566.2,1827.5 L565.9,1826.5 L565.7,1825.5 L565.4,1824.5 L565.1,1823.5 L564.9,1822.5 L564.6,1821.5 L564.4,1820.5 L564.1,1819.5 L563.9,1818.5 L563.7,1817.5 L563.6,1816.5 L563.4,1815.5 L563.3,1814.5 L563.2,1813.5 L563.1,1812.5 L563.0,1811.5 L563.0,1810.5 L563.0,1809.5 L562.9,1808.5 L562.9,1807.5 L562.8,1806.5 L562.8,1805.5 L562.8,1804.5 L562.8,1803.5 L562.7,1802.5 L562.7,1801.5 L562.7,1800.5 L562.7,1799.5 L562.7,1798.5 L562.6,1797.5 L562.6,1796.5 L562.6,1795.5 L562.6,1794.5 L562.5,1793.5 L562.5,1792.5 L562.5,1791.5 L562.5,1790.5 L562.4,1789.5 L562.4,1788.5 L562.4,1787.5 L562.3,1786.5 L562.3,1785.5 L562.2,1784.5 L562.2,1783.5 L562.1,1782.5 L562.1,1781.5 L562.0,1780.5 L561.9,1779.5 L561.9,1778.5 L561.8,1777.5 L561.7,1776.5 L561.7,1775.5 L561.6,1774.5 L561.5,1773.5 L561.5,1772.5 L561.4,1771.5 L561.3,1770.5 L561.2,1769.5 L561.1,1768.5 L561.1,1767.5 L561.0,1766.5 L560.9,1765.5 L560.8,1764.5 L560.7,1763.5 L560.6,1762.5 L560.5,1761.5 L560.4,1760.5 L560.2,1759.5 L560.1,1758.5 L560.0,1757.5 L559.8,1756.5 L559.6,1755.5 L559.4,1754.5 L559.3,1753.5 L559.1,1752.5 L558.9,1751.5 L558.7,1750.5 L558.5,1749.5 L558.3,1748.5 L558.1,1747.5 L558.0,1746.5 L557.8,1745.5 L557.6,1744.5 L557.5,1743.5 L557.3,1742.5 L557.2,1741.5 L557.1,1740.5 L557.0,1739.5 L556.9,1738.5 L556.9,1737.5 L556.8,1736.5 L556.7,1735.5 L556.7,1734.5 L556.6,1733.5 L556.6,1732.5 L556.6,1731.5 L556.5,1730.5 L556.5,1729.5 L556.4,1728.5 L556.4,1727.5 L556.4,1726.5 L556.3,1725.5 L556.3,1724.5 L556.3,1723.5 L556.2,1722.5 L556.2,1721.5 L556.2,1720.5 L556.1,1719.5 L556.1,1718.5 L556.1,1717.5 L556.1,1716.5 L556.0,1715.5 L556.0,1714.5 L556.0,1713.5 L556.0,1712.5 L555.9,1711.5 L555.9,1710.5 L555.9,1709.5 L555.9,1708.5 L555.8,1707.5 L555.8,1706.5 L555.8,1705.5 L555.7,1704.5 L555.7,1703.5 L555.7,1702.5 L555.6,1701.5 L555.6,1700.5 L555.6,1699.5 L555.5,1698.5 L555.5,1697.5 L555.5,1696.5 L555.4,1695.5 L555.4,1694.5 L555.4,1693.5 L555.3,1692.5 L555.3,1691.5 L555.2,1690.5 L555.2,1689.5 L555.1,1688.5 L555.1,1687.5 L555.1,1686.5 L555.0,1685.5 L555.0,1684.5 L554.9,1683.5 L554.9,1682.5 L554.8,1681.5 L554.8,1680.5 L554.7,1679.5 L554.7,1678.5 L554.7,1677.5 L554.6,1676.5 L554.6,1675.5 L554.5,1674.5 L554.5,1673.5 L554.4,1672.5 L554.4,1671.5 L554.4,1670.5 L554.3,1669.5 L554.3,1668.5 L554.2,1667.5 L554.2,1666.5 L554.2,1665.5 L554.1,1664.5 L554.1,1663.5 L554.1,1662.5 L554.1,1661.5 L554.0,1660.5 L554.0,1659.5 L554.0,1658.5 L554.0,1657.5 L553.9,1656.5 L553.9,1655.5 L553.9,1654.5 L553.9,1653.5 L553.9,1652.5 L553.9,1651.5 L553.9,1650.5 L553.8,1649.5 L553.8,1648.5 L553.8,1647.5 L553.8,1646.5 L553.8,1645.5 L553.8,1644.5 L553.8,1643.5 L553.8,1642.5 L553.8,1641.5 L553.8,1640.5 L553.8,1639.5 L553.8,1638.5 L553.8,1637.5 L553.8,1636.5 L553.8,1635.5 L553.8,1634.5 L553.8,1633.5 L553.8,1632.5 L553.8,1631.5 L553.8,1630.5 L553.7,1629.5 L553.7,1628.5 L553.7,1627.5 L553.7,1626.5 L553.7,1625.5 L553.7,1624.5 L553.7,1623.5 L553.7,1622.5 L553.7,1621.5 L553.7,1620.5 L553.7,1619.5 L553.7,1618.5 L553.7,1617.5 L553.7,1616.5 L553.7,1615.5 L553.7,1614.5 L553.7,1613.5 L553.7,1612.5 L553.7,1611.5 L553.7,1610.5 L553.7,1609.5 L553.7,1608.5 L553.7,1607.5 L553.7,1606.5 L553.7,1605.5 L553.7,1604.5 L553.7,1603.5 L553.7,1602.5 L553.7,1601.5 L553.7,1600.5 L553.6,1599.5 L553.6,1598.5 L553.6,1597.5 L553.6,1596.5 L553.6,1595.5 L553.6,1594.5 L553.6,1593.5 L553.6,1592.5 L553.6,1591.5 L553.6,1590.5 L553.6,1589.5 L553.6,1588.5 L553.6,1587.5 L553.6,1586.5 L553.6,1585.5 L553.6,1584.5 L553.6,1583.5 L553.6,1582.5 L553.6,1581.5 L553.6,1580.5 L553.6,1579.5 L553.6,1578.5 L553.6,1577.5 L553.6,1576.5 L553.6,1575.5 L553.6,1574.5 L553.6,1573.5 L553.6,1572.5 L553.6,1571.5 L553.6,1570.5 L553.6,1569.5 L553.6,1568.5 L553.6,1567.5 L553.6,1566.5 L553.6,1565.5 L553.6,1564.5 L553.6,1563.5 L553.6,1562.5 L553.6,1561.5 L553.6,1560.5 L553.6,1559.5Z" fill="#00e0da" stroke="#393939" stroke-width="4.8" stroke-linejoin="round"/>
<line x1="552.50" y1="1560.50" x2="552.50" y2="1832.50" stroke="#393939" stroke-width="4.8"/>
<line x1="552.50" y1="1902.50" x2="552.50" y2="1904.50" stroke="#393939" stroke-width="4.8"/>
<rect x="544.90" y="1834.90" width="15.20" height="65.20" fill="#00e0da" stroke="#393939" stroke-width="4.8" stroke-linejoin="round"/>
<line x1="543.50" y1="1886.00" x2="561.50" y2="1886.00" stroke="#393939" stroke-width="7.5"/>
<line x1="124.30" y1="2035.50" x2="124.30" y2="2419.00" stroke="#000" stroke-width="3.5"/>
<line x1="122.50" y1="2417.20" x2="658.30" y2="2417.20" stroke="#000" stroke-width="3.6"/>
<line x1="113.70" y1="2052.00" x2="122.70" y2="2052.00" stroke="#333" stroke-width="3.8"/>
<text transform="matrix(0.3024,0,0,0.3117,70.07,2064.27)" font-size="100" fill="#4d4d4d" stroke="#4d4d4d" stroke-width="0.33" stroke-linejoin="round">40</text>
<line x1="113.70" y1="2139.00" x2="122.70" y2="2139.00" stroke="#333" stroke-width="3.8"/>
<text transform="matrix(0.3068,0,0,0.3163,69.60,2151.42)" font-size="100" fill="#4d4d4d" stroke="#4d4d4d" stroke-width="0.32" stroke-linejoin="round">30</text>
<line x1="113.70" y1="2225.80" x2="122.70" y2="2225.80" stroke="#333" stroke-width="3.8"/>
<text transform="matrix(0.3105,0,0,0.3201,69.20,2238.35)" font-size="100" fill="#4d4d4d" stroke="#4d4d4d" stroke-width="0.32" stroke-linejoin="round">20</text>
<line x1="113.70" y1="2312.70" x2="122.70" y2="2312.70" stroke="#333" stroke-width="3.8"/>
<text transform="matrix(0.3183,0,0,0.3281,68.36,2325.53)" font-size="100" fill="#4d4d4d" stroke="#4d4d4d" stroke-width="0.31" stroke-linejoin="round">10</text>
<line x1="113.70" y1="2399.50" x2="122.70" y2="2399.50" stroke="#333" stroke-width="3.8"/>
<text transform="matrix(0.2880,0,0,0.2969,87.60,2411.25)" font-size="100" fill="#4d4d4d" stroke="#4d4d4d" stroke-width="0.34" stroke-linejoin="round">0</text>
<line x1="224.30" y1="2418.50" x2="224.30" y2="2427.50" stroke="#333" stroke-width="3.8"/>
<line x1="391.30" y1="2418.50" x2="391.30" y2="2427.50" stroke="#333" stroke-width="3.8"/>
<line x1="558.00" y1="2418.50" x2="558.00" y2="2427.50" stroke="#333" stroke-width="3.8"/>
<text transform="matrix(0.3065,0,0,0.3160,162.37,2458.99)" font-size="100" fill="#4d4d4d" stroke="#4d4d4d" stroke-width="0.32" stroke-linejoin="round">SETX up</text>
<text transform="matrix(0.3079,0,0,0.3174,309.86,2459.85)" font-size="100" fill="#4d4d4d" stroke="#4d4d4d" stroke-width="0.32" stroke-linejoin="round">SETX down</text>
<text transform="matrix(0.3073,0,0,0.3168,498.96,2459.39)" font-size="100" fill="#4d4d4d" stroke="#4d4d4d" stroke-width="0.32" stroke-linejoin="round">Genome</text>
<text transform="matrix(0,-0.3815,0.3815,0,52.22,2407.59)" font-size="100" fill="#000" stroke="#000" stroke-width="0.66" stroke-linejoin="round">% coverage by RLFS</text>
<text transform="matrix(0.3612,0,0,0.3724,354.37,2011.99)" font-size="100" fill="#000" stroke="#000" stroke-width="0.82" stroke-linejoin="round">****</text>
<line x1="227.00" y1="2008.30" x2="556.80" y2="2008.30" stroke="#000" stroke-width="1.5"/>
<text transform="matrix(0.3580,0,0,0.3690,446.37,2058.06)" font-size="100" fill="#000" stroke="#000" stroke-width="0.83" stroke-linejoin="round">****</text>
<line x1="391.70" y1="2051.80" x2="556.80" y2="2051.80" stroke="#000" stroke-width="1.5"/>
<path d="M223.4,2074.5 L223.4,2075.5 L223.4,2076.5 L223.4,2077.5 L223.4,2078.5 L223.4,2079.5 L223.4,2080.5 L223.4,2081.5 L223.4,2082.5 L223.4,2083.5 L223.4,2084.5 L223.4,2085.5 L223.4,2086.5 L223.4,2087.5 L223.4,2088.5 L223.4,2089.5 L223.4,2090.5 L223.4,2091.5 L223.4,2092.5 L223.4,2093.5 L223.4,2094.5 L223.4,2095.5 L223.4,2096.5 L223.4,2097.5 L223.4,2098.5 L223.4,2099.5 L223.4,2100.5 L223.4,2101.5 L223.4,2102.5 L223.4,2103.5 L223.4,2104.5 L223.4,2105.5 L223.4,2106.5 L223.4,2107.5 L223.4,2108.5 L223.4,2109.5 L223.4,2110.5 L223.4,2111.5 L223.4,2112.5 L223.4,2113.5 L223.4,2114.5 L223.4,2115.5 L223.4,2116.5 L223.4,2117.5 L223.4,2118.5 L223.4,2119.5 L223.4,2120.5 L223.4,2121.5 L223.4,2122.5 L223.4,2123.5 L223.4,2124.5 L223.4,2125.5 L223.4,2126.5 L223.4,2127.5 L223.4,2128.5 L223.4,2129.5 L223.4,2130.5 L223.4,2131.5 L223.4,2132.5 L223.4,2133.5 L223.4,2134.5 L223.4,2135.5 L223.4,2136.5 L223.4,2137.5 L223.4,2138.5 L223.4,2139.5 L223.4,2140.5 L223.4,2141.5 L223.4,2142.5 L223.4,2143.5 L223.4,2144.5 L223.4,2145.5 L223.4,2146.5 L223.4,2147.5 L223.4,2148.5 L223.4,2149.5 L223.4,2150.5 L223.4,2151.5 L223.4,2152.5 L223.4,2153.5 L223.4,2154.5 L223.4,2155.5 L223.4,2156.5 L223.4,2157.5 L223.4,2158.5 L223.4,2159.5 L223.4,2160.5 L223.4,2161.5 L223.4,2162.5 L223.4,2163.5 L223.4,2164.5 L223.4,2165.5 L223.4,2166.5 L223.4,2167.5 L223.4,2168.5 L223.4,2169.5 L223.4,2170.5 L223.4,2171.5 L223.4,2172.5 L223.4,2173.5 L223.4,2174.5 L223.4,2175.5 L223.4,2176.5 L223.4,2177.5 L223.4,2178.5 L223.4,2179.5 L223.4,2180.5 L223.4,2181.5 L223.4,2182.5 L223.4,2183.5 L223.4,2184.5 L223.3,2185.5 L223.3,2186.5 L223.3,2187.5 L223.3,2188.5 L223.3,2189.5 L223.3,2190.5 L223.3,2191.5 L223.3,2192.5 L223.3,2193.5 L223.3,2194.5 L223.3,2195.5 L223.3,2196.5 L223.2,2197.5 L223.2,2198.5 L223.2,2199.5 L223.2,2200.5 L223.2,2201.5 L223.2,2202.5 L223.2,2203.5 L223.2,2204.5 L223.1,2205.5 L223.1,2206.5 L223.1,2207.5 L223.1,2208.5 L223.1,2209.5 L223.1,2210.5 L223.0,2211.5 L223.0,2212.5 L223.0,2213.5 L223.0,2214.5 L223.0,2215.5 L223.0,2216.5 L222.9,2217.5 L222.9,2218.5 L222.9,2219.5 L222.9,2220.5 L222.9,2221.5 L222.8,2222.5 L222.8,2223.5 L222.8,2224.5 L222.7,2225.5 L222.7,2226.5 L222.7,2227.5 L222.6,2228.5 L222.6,2229.5 L222.5,2230.5 L222.5,2231.5 L222.4,2232.5 L222.3,2233.5 L222.3,2234.5 L222.2,2235.5 L222.1,2236.5 L222.1,2237.5 L222.0,2238.5 L221.9,2239.5 L221.8,2240.5 L221.7,2241.5 L221.6,2242.5 L221.5,2243.5 L221.4,2244.5 L221.3,2245.5 L221.2,2246.5 L221.0,2247.5 L220.8,2248.5 L220.6,2249.5 L220.4,2250.5 L220.1,2251.5 L219.9,2252.5 L219.6,2253.5 L219.4,2254.5 L219.2,2255.5 L219.0,2256.5 L218.9,2257.5 L218.8,2258.5 L218.7,2259.5 L218.6,2260.5 L218.5,2261.5 L218.4,2262.5 L218.3,2263.5 L218.2,2264.5 L218.1,2265.5 L218.1,2266.5 L218.0,2267.5 L217.9,2268.5 L217.9,2269.5 L217.8,2270.5 L217.7,2271.5 L217.7,2272.5 L217.6,2273.5 L217.5,2274.5 L217.5,2275.5 L217.4,2276.5 L217.3,2277.5 L217.2,2278.5 L217.2,2279.5 L217.1,2280.5 L217.0,2281.5 L216.9,2282.5 L216.8,2283.5 L216.7,2284.5 L216.6,2285.5 L216.5,2286.5 L216.4,2287.5 L216.3,2288.5 L216.2,2289.5 L216.1,2290.5 L216.0,2291.5 L215.9,2292.5 L215.8,2293.5 L215.6,2294.5 L215.5,2295.5 L215.4,2296.5 L215.3,2297.5 L215.2,2298.5 L215.0,2299.5 L214.9,2300.5 L214.8,2301.5 L214.6,2302.5 L214.5,2303.5 L214.3,2304.5 L214.2,2305.5 L214.1,2306.5 L213.9,2307.5 L213.7,2308.5 L213.6,2309.5 L213.4,2310.5 L213.2,2311.5 L213.0,2312.5 L212.8,2313.5 L212.6,2314.5 L212.3,2315.5 L212.1,2316.5 L211.9,2317.5 L211.7,2318.5 L211.5,2319.5 L211.3,2320.5 L211.1,2321.5 L210.9,2322.5 L210.7,2323.5 L210.5,2324.5 L210.4,2325.5 L210.2,2326.5 L210.0,2327.5 L209.8,2328.5 L209.6,2329.5 L209.4,2330.5 L209.1,2331.5 L208.9,2332.5 L208.7,2333.5 L208.4,2334.5 L208.1,2335.5 L207.8,2336.5 L207.6,2337.5 L207.3,2338.5 L207.0,2339.5 L206.6,2340.5 L206.3,2341.5 L206.0,2342.5 L205.7,2343.5 L205.3,2344.5 L205.0,2345.5 L204.6,2346.5 L204.3,2347.5 L203.9,2348.5 L203.5,2349.5 L203.1,2350.5 L202.7,2351.5 L202.3,2352.5 L201.9,2353.5 L201.5,2354.5 L201.0,2355.5 L200.6,2356.5 L200.2,2357.5 L199.7,2358.5 L199.2,2359.5 L198.7,2360.5 L198.3,2361.5 L197.8,2362.5 L197.2,2363.5 L196.7,2364.5 L196.2,2365.5 L195.7,2366.5 L195.2,2367.5 L194.7,2368.5 L194.2,2369.5 L193.6,2370.5 L193.1,2371.5 L192.6,2372.5 L192.0,2373.5 L191.5,2374.5 L190.9,2375.5 L190.4,2376.5 L189.9,2377.5 L189.5,2378.5 L189.1,2379.5 L188.7,2380.5 L188.4,2381.5 L188.0,2382.5 L187.7,2383.5 L187.4,2384.5 L187.1,2385.5 L186.8,2386.5 L186.6,2387.5 L186.5,2388.5 L186.4,2389.5 L186.4,2390.5 L186.5,2391.5 L186.7,2392.5 L186.9,2393.5 L187.2,2394.5 L187.6,2395.5 L188.2,2396.5 L188.9,2397.5 L190.0,2398.5 L191.7,2399.5 L193.9,2400.5 L255.1,2400.5 L257.3,2399.5 L259.0,2398.5 L260.1,2397.5 L260.8,2396.5 L261.4,2395.5 L261.8,2394.5 L262.1,2393.5 L262.3,2392.5 L262.5,2391.5 L262.6,2390.5 L262.6,2389.5 L262.5,2388.5 L262.4,2387.5 L262.2,2386.5 L261.9,2385.5 L261.6,2384.5 L261.3,2383.5 L261.0,2382.5 L260.6,2381.5 L260.3,2380.5 L259.9,2379.5 L259.5,2378.5 L259.1,2377.5 L258.6,2376.5 L258.1,2375.5 L257.5,2374.5 L257.0,2373.5 L256.4,2372.5 L255.9,2371.5 L255.4,2370.5 L254.8,2369.5 L254.3,2368.5 L253.8,2367.5 L253.3,2366.5 L252.8,2365.5 L252.3,2364.5 L251.8,2363.5 L251.2,2362.5 L250.7,2361.5 L250.3,2360.5 L249.8,2359.5 L249.3,2358.5 L248.8,2357.5 L248.4,2356.5 L248.0,2355.5 L247.5,2354.5 L247.1,2353.5 L246.7,2352.5 L246.3,2351.5 L245.9,2350.5 L245.5,2349.5 L245.1,2348.5 L244.7,2347.5 L244.4,2346.5 L244.0,2345.5 L243.7,2344.5 L243.3,2343.5 L243.0,2342.5 L242.7,2341.5 L242.4,2340.5 L242.0,2339.5 L241.7,2338.5 L241.4,2337.5 L241.2,2336.5 L240.9,2335.5 L240.6,2334.5 L240.3,2333.5 L240.1,2332.5 L239.9,2331.5 L239.6,2330.5 L239.4,2329.5 L239.2,2328.5 L239.0,2327.5 L238.8,2326.5 L238.6,2325.5 L238.5,2324.5 L238.3,2323.5 L238.1,2322.5 L237.9,2321.5 L237.7,2320.5 L237.5,2319.5 L237.3,2318.5 L237.1,2317.5 L236.9,2316.5 L236.7,2315.5 L236.4,2314.5 L236.2,2313.5 L236.0,2312.5 L235.8,2311.5 L235.6,2310.5 L235.4,2309.5 L235.3,2308.5 L235.1,2307.5 L234.9,2306.5 L234.8,2305.5 L234.7,2304.5 L234.5,2303.5 L234.4,2302.5 L234.2,2301.5 L234.1,2300.5 L234.0,2299.5 L233.8,2298.5 L233.7,2297.5 L233.6,2296.5 L233.5,2295.5 L233.4,2294.5 L233.2,2293.5 L233.1,2292.5 L233.0,2291.5 L232.9,2290.5 L232.8,2289.5 L232.7,2288.5 L232.6,2287.5 L232.5,2286.5 L232.4,2285.5 L232.3,2284.5 L232.2,2283.5 L232.1,2282.5 L232.0,2281.5 L231.9,2280.5 L231.8,2279.5 L231.8,2278.5 L231.7,2277.5 L231.6,2276.5 L231.5,2275.5 L231.5,2274.5 L231.4,2273.5 L231.3,2272.5 L231.3,2271.5 L231.2,2270.5 L231.1,2269.5 L231.1,2268.5 L231.0,2267.5 L230.9,2266.5 L230.9,2265.5 L230.8,2264.5 L230.7,2263.5 L230.6,2262.5 L230.5,2261.5 L230.4,2260.5 L230.3,2259.5 L230.2,2258.5 L230.1,2257.5 L230.0,2256.5 L229.8,2255.5 L229.6,2254.5 L229.4,2253.5 L229.1,2252.5 L228.9,2251.5 L228.6,2250.5 L228.4,2249.5 L228.2,2248.5 L228.0,2247.5 L227.8,2246.5 L227.7,2245.5 L227.6,2244.5 L227.5,2243.5 L227.4,2242.5 L227.3,2241.5 L227.2,2240.5 L227.1,2239.5 L227.0,2238.5 L226.9,2237.5 L226.9,2236.5 L226.8,2235.5 L226.7,2234.5 L226.7,2233.5 L226.6,2232.5 L226.5,2231.5 L226.5,2230.5 L226.4,2229.5 L226.4,2228.5 L226.3,2227.5 L226.3,2226.5 L226.3,2225.5 L226.2,2224.5 L226.2,2223.5 L226.2,2222.5 L226.1,2221.5 L226.1,2220.5 L226.1,2219.5 L226.1,2218.5 L226.1,2217.5 L226.0,2216.5 L226.0,2215.5 L226.0,2214.5 L226.0,2213.5 L226.0,2212.5 L226.0,2211.5 L225.9,2210.5 L225.9,2209.5 L225.9,2208.5 L225.9,2207.5 L225.9,2206.5 L225.9,2205.5 L225.8,2204.5 L225.8,2203.5 L225.8,2202.5 L225.8,2201.5 L225.8,2200.5 L225.8,2199.5 L225.8,2198.5 L225.8,2197.5 L225.7,2196.5 L225.7,2195.5 L225.7,2194.5 L225.7,2193.5 L225.7,2192.5 L225.7,2191.5 L225.7,2190.5 L225.7,2189.5 L225.7,2188.5 L225.7,2187.5 L225.7,2186.5 L225.7,2185.5 L225.6,2184.5 L225.6,2183.5 L225.6,2182.5 L225.6,2181.5 L225.6,2180.5 L225.6,2179.5 L225.6,2178.5 L225.6,2177.5 L225.6,2176.5 L225.6,2175.5 L225.6,2174.5 L225.6,2173.5 L225.6,2172.5 L225.6,2171.5 L225.6,2170.5 L225.6,2169.5 L225.6,2168.5 L225.6,2167.5 L225.6,2166.5 L225.6,2165.5 L225.6,2164.5 L225.6,2163.5 L225.6,2162.5 L225.6,2161.5 L225.6,2160.5 L225.6,2159.5 L225.6,2158.5 L225.6,2157.5 L225.6,2156.5 L225.6,2155.5 L225.6,2154.5 L225.6,2153.5 L225.6,2152.5 L225.6,2151.5 L225.6,2150.5 L225.6,2149.5 L225.6,2148.5 L225.6,2147.5 L225.6,2146.5 L225.6,2145.5 L225.6,2144.5 L225.6,2143.5 L225.6,2142.5 L225.6,2141.5 L225.6,2140.5 L225.6,2139.5 L225.6,2138.5 L225.6,2137.5 L225.6,2136.5 L225.6,2135.5 L225.6,2134.5 L225.6,2133.5 L225.6,2132.5 L225.6,2131.5 L225.6,2130.5 L225.6,2129.5 L225.6,2128.5 L225.6,2127.5 L225.6,2126.5 L225.6,2125.5 L225.6,2124.5 L225.6,2123.5 L225.6,2122.5 L225.6,2121.5 L225.6,2120.5 L225.6,2119.5 L225.6,2118.5 L225.6,2117.5 L225.6,2116.5 L225.6,2115.5 L225.6,2114.5 L225.6,2113.5 L225.6,2112.5 L225.6,2111.5 L225.6,2110.5 L225.6,2109.5 L225.6,2108.5 L225.6,2107.5 L225.6,2106.5 L225.6,2105.5 L225.6,2104.5 L225.6,2103.5 L225.6,2102.5 L225.6,2101.5 L225.6,2100.5 L225.6,2099.5 L225.6,2098.5 L225.6,2097.5 L225.6,2096.5 L225.6,2095.5 L225.6,2094.5 L225.6,2093.5 L225.6,2092.5 L225.6,2091.5 L225.6,2090.5 L225.6,2089.5 L225.6,2088.5 L225.6,2087.5 L225.6,2086.5 L225.6,2085.5 L225.6,2084.5 L225.6,2083.5 L225.6,2082.5 L225.6,2081.5 L225.6,2080.5 L225.6,2079.5 L225.6,2078.5 L225.6,2077.5 L225.6,2076.5 L225.6,2075.5 L225.6,2074.5Z" fill="#ffd34f" stroke="#393939" stroke-width="4.8" stroke-linejoin="round"/>
<line x1="224.50" y1="2075.50" x2="224.50" y2="2321.30" stroke="#393939" stroke-width="4.8"/>
<line x1="224.50" y1="2392.50" x2="224.50" y2="2400.50" stroke="#393939" stroke-width="4.8"/>
<rect x="216.70" y="2323.70" width="15.20" height="66.40" fill="#ffd34f" stroke="#393939" stroke-width="4.8" stroke-linejoin="round"/>
<line x1="215.30" y1="2368.70" x2="233.30" y2="2368.70" stroke="#393939" stroke-width="7.5"/>
<path d="M390.4,2077.5 L390.4,2078.5 L390.4,2079.5 L390.4,2080.5 L390.3,2081.5 L390.3,2082.5 L390.3,2083.5 L390.3,2084.5 L390.3,2085.5 L390.3,2086.5 L390.2,2087.5 L390.2,2088.5 L390.2,2089.5 L390.2,2090.5 L390.2,2091.5 L390.1,2092.5 L390.1,2093.5 L390.1,2094.5 L390.1,2095.5 L390.0,2096.5 L390.0,2097.5 L390.0,2098.5 L390.0,2099.5 L389.9,2100.5 L389.9,2101.5 L389.9,2102.5 L389.9,2103.5 L389.8,2104.5 L389.8,2105.5 L389.8,2106.5 L389.8,2107.5 L389.7,2108.5 L389.7,2109.5 L389.7,2110.5 L389.7,2111.5 L389.6,2112.5 L389.6,2113.5 L389.6,2114.5 L389.5,2115.5 L389.5,2116.5 L389.5,2117.5 L389.4,2118.5 L389.4,2119.5 L389.4,2120.5 L389.3,2121.5 L389.3,2122.5 L389.3,2123.5 L389.2,2124.5 L389.2,2125.5 L389.1,2126.5 L389.1,2127.5 L389.0,2128.5 L389.0,2129.5 L388.9,2130.5 L388.9,2131.5 L388.8,2132.5 L388.8,2133.5 L388.7,2134.5 L388.7,2135.5 L388.6,2136.5 L388.6,2137.5 L388.5,2138.5 L388.5,2139.5 L388.5,2140.5 L388.4,2141.5 L388.4,2142.5 L388.4,2143.5 L388.4,2144.5 L388.4,2145.5 L388.4,2146.5 L388.4,2147.5 L388.4,2148.5 L388.4,2149.5 L388.4,2150.5 L388.5,2151.5 L388.5,2152.5 L388.5,2153.5 L388.5,2154.5 L388.6,2155.5 L388.6,2156.5 L388.6,2157.5 L388.6,2158.5 L388.7,2159.5 L388.7,2160.5 L388.7,2161.5 L388.7,2162.5 L388.8,2163.5 L388.8,2164.5 L388.8,2165.5 L388.8,2166.5 L388.9,2167.5 L388.9,2168.5 L388.9,2169.5 L388.9,2170.5 L388.9,2171.5 L388.9,2172.5 L388.9,2173.5 L389.0,2174.5 L389.0,2175.5 L389.0,2176.5 L389.0,2177.5 L389.0,2178.5 L389.0,2179.5 L389.0,2180.5 L389.1,2181.5 L389.1,2182.5 L389.1,2183.5 L389.1,2184.5 L389.1,2185.5 L389.1,2186.5 L389.1,2187.5 L389.2,2188.5 L389.2,2189.5 L389.2,2190.5 L389.2,2191.5 L389.2,2192.5 L389.2,2193.5 L389.2,2194.5 L389.2,2195.5 L389.3,2196.5 L389.3,2197.5 L389.3,2198.5 L389.3,2199.5 L389.3,2200.5 L389.3,2201.5 L389.3,2202.5 L389.3,2203.5 L389.3,2204.5 L389.3,2205.5 L389.3,2206.5 L389.4,2207.5 L389.4,2208.5 L389.4,2209.5 L389.4,2210.5 L389.4,2211.5 L389.4,2212.5 L389.4,2213.5 L389.4,2214.5 L389.4,2215.5 L389.4,2216.5 L389.4,2217.5 L389.4,2218.5 L389.4,2219.5 L389.4,2220.5 L389.4,2221.5 L389.3,2222.5 L389.2,2223.5 L389.1,2224.5 L389.0,2225.5 L388.9,2226.5 L388.7,2227.5 L388.6,2228.5 L388.4,2229.5 L388.2,2230.5 L388.0,2231.5 L387.8,2232.5 L387.6,2233.5 L387.4,2234.5 L387.2,2235.5 L387.1,2236.5 L386.9,2237.5 L386.7,2238.5 L386.5,2239.5 L386.4,2240.5 L386.2,2241.5 L386.1,2242.5 L386.0,2243.5 L385.9,2244.5 L385.9,2245.5 L385.8,2246.5 L385.8,2247.5 L385.7,2248.5 L385.6,2249.5 L385.6,2250.5 L385.5,2251.5 L385.5,2252.5 L385.5,2253.5 L385.4,2254.5 L385.4,2255.5 L385.4,2256.5 L385.4,2257.5 L385.4,2258.5 L385.4,2259.5 L385.4,2260.5 L385.5,2261.5 L385.5,2262.5 L385.5,2263.5 L385.6,2264.5 L385.6,2265.5 L385.7,2266.5 L385.8,2267.5 L385.8,2268.5 L385.9,2269.5 L385.9,2270.5 L386.0,2271.5 L386.0,2272.5 L386.1,2273.5 L386.2,2274.5 L386.2,2275.5 L386.3,2276.5 L386.3,2277.5 L386.3,2278.5 L386.4,2279.5 L386.4,2280.5 L386.4,2281.5 L386.4,2282.5 L386.4,2283.5 L386.4,2284.5 L386.4,2285.5 L386.4,2286.5 L386.4,2287.5 L386.3,2288.5 L386.3,2289.5 L386.3,2290.5 L386.2,2291.5 L386.2,2292.5 L386.2,2293.5 L386.1,2294.5 L386.1,2295.5 L386.0,2296.5 L386.0,2297.5 L385.9,2298.5 L385.9,2299.5 L385.8,2300.5 L385.8,2301.5 L385.7,2302.5 L385.7,2303.5 L385.6,2304.5 L385.5,2305.5 L385.5,2306.5 L385.4,2307.5 L385.3,2308.5 L385.2,2309.5 L385.1,2310.5 L384.9,2311.5 L384.8,2312.5 L384.6,2313.5 L384.4,2314.5 L384.2,2315.5 L384.0,2316.5 L383.8,2317.5 L383.5,2318.5 L383.3,2319.5 L383.1,2320.5 L382.9,2321.5 L382.7,2322.5 L382.4,2323.5 L382.2,2324.5 L382.1,2325.5 L381.9,2326.5 L381.7,2327.5 L381.5,2328.5 L381.4,2329.5 L381.2,2330.5 L381.1,2331.5 L380.9,2332.5 L380.8,2333.5 L380.6,2334.5 L380.4,2335.5 L380.3,2336.5 L380.1,2337.5 L379.9,2338.5 L379.7,2339.5 L379.5,2340.5 L379.3,2341.5 L379.1,2342.5 L378.8,2343.5 L378.5,2344.5 L378.2,2345.5 L377.9,2346.5 L377.5,2347.5 L377.0,2348.5 L376.6,2349.5 L376.0,2350.5 L375.5,2351.5 L374.9,2352.5 L374.3,2353.5 L373.7,2354.5 L373.1,2355.5 L372.4,2356.5 L371.8,2357.5 L371.0,2358.5 L370.3,2359.5 L369.5,2360.5 L368.7,2361.5 L367.9,2362.5 L367.1,2363.5 L366.3,2364.5 L365.5,2365.5 L364.6,2366.5 L363.8,2367.5 L362.9,2368.5 L362.0,2369.5 L361.1,2370.5 L360.2,2371.5 L359.3,2372.5 L358.4,2373.5 L357.6,2374.5 L356.7,2375.5 L355.9,2376.5 L355.1,2377.5 L354.2,2378.5 L353.4,2379.5 L352.6,2380.5 L351.9,2381.5 L351.2,2382.5 L350.5,2383.5 L349.9,2384.5 L349.4,2385.5 L348.8,2386.5 L348.3,2387.5 L347.8,2388.5 L347.4,2389.5 L347.2,2390.5 L347.2,2391.5 L347.2,2392.5 L347.4,2393.5 L347.6,2394.5 L347.9,2395.5 L348.2,2396.5 L348.9,2397.5 L349.8,2398.5 L351.1,2399.5 L353.0,2400.5 L354.6,2401.2 L428.4,2401.2 L430.0,2400.5 L431.9,2399.5 L433.2,2398.5 L434.1,2397.5 L434.8,2396.5 L435.1,2395.5 L435.4,2394.5 L435.6,2393.5 L435.8,2392.5 L435.8,2391.5 L435.8,2390.5 L435.6,2389.5 L435.2,2388.5 L434.7,2387.5 L434.2,2386.5 L433.6,2385.5 L433.1,2384.5 L432.5,2383.5 L431.8,2382.5 L431.1,2381.5 L430.4,2380.5 L429.6,2379.5 L428.8,2378.5 L427.9,2377.5 L427.1,2376.5 L426.3,2375.5 L425.4,2374.5 L424.6,2373.5 L423.7,2372.5 L422.8,2371.5 L421.9,2370.5 L421.0,2369.5 L420.1,2368.5 L419.2,2367.5 L418.4,2366.5 L417.5,2365.5 L416.7,2364.5 L415.9,2363.5 L415.1,2362.5 L414.3,2361.5 L413.5,2360.5 L412.7,2359.5 L412.0,2358.5 L411.2,2357.5 L410.6,2356.5 L409.9,2355.5 L409.3,2354.5 L408.7,2353.5 L408.1,2352.5 L407.5,2351.5 L407.0,2350.5 L406.4,2349.5 L406.0,2348.5 L405.5,2347.5 L405.1,2346.5 L404.8,2345.5 L404.5,2344.5 L404.2,2343.5 L403.9,2342.5 L403.7,2341.5 L403.5,2340.5 L403.3,2339.5 L403.1,2338.5 L402.9,2337.5 L402.7,2336.5 L402.6,2335.5 L402.4,2334.5 L402.2,2333.5 L402.1,2332.5 L401.9,2331.5 L401.8,2330.5 L401.6,2329.5 L401.5,2328.5 L401.3,2327.5 L401.1,2326.5 L400.9,2325.5 L400.8,2324.5 L400.6,2323.5 L400.3,2322.5 L400.1,2321.5 L399.9,2320.5 L399.7,2319.5 L399.5,2318.5 L399.2,2317.5 L399.0,2316.5 L398.8,2315.5 L398.6,2314.5 L398.4,2313.5 L398.2,2312.5 L398.1,2311.5 L397.9,2310.5 L397.8,2309.5 L397.7,2308.5 L397.6,2307.5 L397.5,2306.5 L397.5,2305.5 L397.4,2304.5 L397.3,2303.5 L397.3,2302.5 L397.2,2301.5 L397.2,2300.5 L397.1,2299.5 L397.1,2298.5 L397.0,2297.5 L397.0,2296.5 L396.9,2295.5 L396.9,2294.5 L396.8,2293.5 L396.8,2292.5 L396.8,2291.5 L396.7,2290.5 L396.7,2289.5 L396.7,2288.5 L396.6,2287.5 L396.6,2286.5 L396.6,2285.5 L396.6,2284.5 L396.6,2283.5 L396.6,2282.5 L396.6,2281.5 L396.6,2280.5 L396.6,2279.5 L396.7,2278.5 L396.7,2277.5 L396.7,2276.5 L396.8,2275.5 L396.8,2274.5 L396.9,2273.5 L397.0,2272.5 L397.0,2271.5 L397.1,2270.5 L397.1,2269.5 L397.2,2268.5 L397.2,2267.5 L397.3,2266.5 L397.4,2265.5 L397.4,2264.5 L397.5,2263.5 L397.5,2262.5 L397.5,2261.5 L397.6,2260.5 L397.6,2259.5 L397.6,2258.5 L397.6,2257.5 L397.6,2256.5 L397.6,2255.5 L397.6,2254.5 L397.5,2253.5 L397.5,2252.5 L397.5,2251.5 L397.4,2250.5 L397.4,2249.5 L397.3,2248.5 L397.2,2247.5 L397.2,2246.5 L397.1,2245.5 L397.1,2244.5 L397.0,2243.5 L396.9,2242.5 L396.8,2241.5 L396.6,2240.5 L396.5,2239.5 L396.3,2238.5 L396.1,2237.5 L395.9,2236.5 L395.8,2235.5 L395.6,2234.5 L395.4,2233.5 L395.2,2232.5 L395.0,2231.5 L394.8,2230.5 L394.6,2229.5 L394.4,2228.5 L394.3,2227.5 L394.1,2226.5 L394.0,2225.5 L393.9,2224.5 L393.8,2223.5 L393.7,2222.5 L393.6,2221.5 L393.6,2220.5 L393.6,2219.5 L393.6,2218.5 L393.6,2217.5 L393.6,2216.5 L393.6,2215.5 L393.6,2214.5 L393.6,2213.5 L393.6,2212.5 L393.6,2211.5 L393.6,2210.5 L393.6,2209.5 L393.6,2208.5 L393.6,2207.5 L393.7,2206.5 L393.7,2205.5 L393.7,2204.5 L393.7,2203.5 L393.7,2202.5 L393.7,2201.5 L393.7,2200.5 L393.7,2199.5 L393.7,2198.5 L393.7,2197.5 L393.7,2196.5 L393.8,2195.5 L393.8,2194.5 L393.8,2193.5 L393.8,2192.5 L393.8,2191.5 L393.8,2190.5 L393.8,2189.5 L393.8,2188.5 L393.9,2187.5 L393.9,2186.5 L393.9,2185.5 L393.9,2184.5 L393.9,2183.5 L393.9,2182.5 L393.9,2181.5 L394.0,2180.5 L394.0,2179.5 L394.0,2178.5 L394.0,2177.5 L394.0,2176.5 L394.0,2175.5 L394.0,2174.5 L394.1,2173.5 L394.1,2172.5 L394.1,2171.5 L394.1,2170.5 L394.1,2169.5 L394.1,2168.5 L394.1,2167.5 L394.2,2166.5 L394.2,2165.5 L394.2,2164.5 L394.2,2163.5 L394.3,2162.5 L394.3,2161.5 L394.3,2160.5 L394.3,2159.5 L394.4,2158.5 L394.4,2157.5 L394.4,2156.5 L394.4,2155.5 L394.5,2154.5 L394.5,2153.5 L394.5,2152.5 L394.5,2151.5 L394.6,2150.5 L394.6,2149.5 L394.6,2148.5 L394.6,2147.5 L394.6,2146.5 L394.6,2145.5 L394.6,2144.5 L394.6,2143.5 L394.6,2142.5 L394.6,2141.5 L394.5,2140.5 L394.5,2139.5 L394.5,2138.5 L394.4,2137.5 L394.4,2136.5 L394.3,2135.5 L394.3,2134.5 L394.2,2133.5 L394.2,2132.5 L394.1,2131.5 L394.1,2130.5 L394.0,2129.5 L394.0,2128.5 L393.9,2127.5 L393.9,2126.5 L393.8,2125.5 L393.8,2124.5 L393.7,2123.5 L393.7,2122.5 L393.7,2121.5 L393.6,2120.5 L393.6,2119.5 L393.6,2118.5 L393.5,2117.5 L393.5,2116.5 L393.5,2115.5 L393.4,2114.5 L393.4,2113.5 L393.4,2112.5 L393.3,2111.5 L393.3,2110.5 L393.3,2109.5 L393.3,2108.5 L393.2,2107.5 L393.2,2106.5 L393.2,2105.5 L393.2,2104.5 L393.1,2103.5 L393.1,2102.5 L393.1,2101.5 L393.1,2100.5 L393.0,2099.5 L393.0,2098.5 L393.0,2097.5 L393.0,2096.5 L392.9,2095.5 L392.9,2094.5 L392.9,2093.5 L392.9,2092.5 L392.8,2091.5 L392.8,2090.5 L392.8,2089.5 L392.8,2088.5 L392.8,2087.5 L392.7,2086.5 L392.7,2085.5 L392.7,2084.5 L392.7,2083.5 L392.7,2082.5 L392.7,2081.5 L392.6,2080.5 L392.6,2079.5 L392.6,2078.5 L392.6,2077.5Z" fill="#6dd47c" stroke="#393939" stroke-width="4.8" stroke-linejoin="round"/>
<line x1="391.50" y1="2078.50" x2="391.50" y2="2325.00" stroke="#393939" stroke-width="4.8"/>
<line x1="391.50" y1="2396.30" x2="391.50" y2="2401.25" stroke="#393939" stroke-width="4.8"/>
<rect x="383.10" y="2327.40" width="16.20" height="66.50" fill="#6dd47c" stroke="#393939" stroke-width="4.8" stroke-linejoin="round"/>
<line x1="381.70" y1="2380.00" x2="400.70" y2="2380.00" stroke="#393939" stroke-width="7.5"/>
<path d="M557.1,2073.8 L557.1,2074.8 L557.1,2075.8 L557.1,2076.8 L557.1,2077.8 L557.1,2078.8 L557.1,2079.8 L557.1,2080.8 L557.1,2081.8 L557.1,2082.8 L557.1,2083.8 L557.1,2084.8 L557.1,2085.8 L557.1,2086.8 L557.1,2087.8 L557.1,2088.8 L557.1,2089.8 L557.1,2090.8 L557.1,2091.8 L557.1,2092.8 L557.1,2093.8 L557.1,2094.8 L557.1,2095.8 L557.1,2096.8 L557.1,2097.8 L557.1,2098.8 L557.1,2099.8 L557.1,2100.8 L557.1,2101.8 L557.1,2102.8 L557.1,2103.8 L557.1,2104.8 L557.1,2105.8 L557.1,2106.8 L557.1,2107.8 L557.1,2108.8 L557.1,2109.8 L557.1,2110.8 L557.1,2111.8 L557.1,2112.8 L557.1,2113.8 L557.1,2114.8 L557.1,2115.8 L557.1,2116.8 L557.1,2117.8 L557.1,2118.8 L557.1,2119.8 L557.1,2120.8 L557.1,2121.8 L557.1,2122.8 L557.1,2123.8 L557.1,2124.8 L557.1,2125.8 L557.1,2126.8 L557.1,2127.8 L557.1,2128.8 L557.1,2129.8 L557.1,2130.8 L557.1,2131.8 L557.1,2132.8 L557.1,2133.8 L557.1,2134.8 L557.1,2135.8 L557.1,2136.8 L557.1,2137.8 L557.1,2138.8 L557.1,2139.8 L557.1,2140.8 L557.1,2141.8 L557.1,2142.8 L557.1,2143.8 L557.1,2144.8 L557.1,2145.8 L557.1,2146.8 L557.1,2147.8 L557.0,2148.8 L557.0,2149.8 L556.9,2150.8 L556.8,2151.8 L556.7,2152.8 L556.6,2153.8 L556.6,2154.8 L556.5,2155.8 L556.4,2156.8 L556.3,2157.8 L556.3,2158.8 L556.2,2159.8 L556.2,2160.8 L556.2,2161.8 L556.2,2162.8 L556.2,2163.8 L556.2,2164.8 L556.2,2165.8 L556.3,2166.8 L556.3,2167.8 L556.4,2168.8 L556.4,2169.8 L556.5,2170.8 L556.6,2171.8 L556.7,2172.8 L556.7,2173.8 L556.8,2174.8 L556.9,2175.8 L556.9,2176.8 L557.0,2177.8 L557.1,2178.8 L557.1,2179.8 L557.1,2180.8 L557.1,2181.8 L557.1,2182.8 L557.1,2183.8 L557.1,2184.8 L557.1,2185.8 L557.0,2186.8 L557.0,2187.8 L556.9,2188.8 L556.9,2189.8 L556.8,2190.8 L556.7,2191.8 L556.6,2192.8 L556.6,2193.8 L556.5,2194.8 L556.4,2195.8 L556.4,2196.8 L556.3,2197.8 L556.2,2198.8 L556.2,2199.8 L556.2,2200.8 L556.2,2201.8 L556.2,2202.8 L556.2,2203.8 L556.2,2204.8 L556.2,2205.8 L556.3,2206.8 L556.3,2207.8 L556.4,2208.8 L556.4,2209.8 L556.5,2210.8 L556.6,2211.8 L556.6,2212.8 L556.7,2213.8 L556.7,2214.8 L556.8,2215.8 L556.8,2216.8 L556.9,2217.8 L556.9,2218.8 L556.9,2219.8 L556.9,2220.8 L556.9,2221.8 L556.9,2222.8 L556.9,2223.8 L556.9,2224.8 L556.9,2225.8 L556.9,2226.8 L556.9,2227.8 L556.9,2228.8 L556.9,2229.8 L556.9,2230.8 L556.9,2231.8 L556.9,2232.8 L556.9,2233.8 L556.9,2234.8 L556.9,2235.8 L556.9,2236.8 L556.9,2237.8 L556.9,2238.8 L556.9,2239.8 L556.9,2240.8 L556.9,2241.8 L556.9,2242.8 L556.9,2243.8 L556.9,2244.8 L556.9,2245.8 L556.9,2246.8 L556.9,2247.8 L556.8,2248.8 L556.8,2249.8 L556.7,2250.8 L556.7,2251.8 L556.6,2252.8 L556.6,2253.8 L556.5,2254.8 L556.4,2255.8 L556.3,2256.8 L556.2,2257.8 L556.1,2258.8 L556.1,2259.8 L556.0,2260.8 L555.9,2261.8 L555.8,2262.8 L555.7,2263.8 L555.6,2264.8 L555.5,2265.8 L555.4,2266.8 L555.3,2267.8 L555.2,2268.8 L555.2,2269.8 L555.1,2270.8 L555.0,2271.8 L554.9,2272.8 L554.9,2273.8 L554.8,2274.8 L554.7,2275.8 L554.6,2276.8 L554.5,2277.8 L554.5,2278.8 L554.4,2279.8 L554.3,2280.8 L554.2,2281.8 L554.1,2282.8 L554.0,2283.8 L554.0,2284.8 L553.9,2285.8 L553.8,2286.8 L553.7,2287.8 L553.6,2288.8 L553.6,2289.8 L553.5,2290.8 L553.4,2291.8 L553.3,2292.8 L553.2,2293.8 L553.2,2294.8 L553.1,2295.8 L553.0,2296.8 L553.0,2297.8 L552.9,2298.8 L552.8,2299.8 L552.8,2300.8 L552.7,2301.8 L552.6,2302.8 L552.6,2303.8 L552.5,2304.8 L552.4,2305.8 L552.4,2306.8 L552.3,2307.8 L552.2,2308.8 L552.2,2309.8 L552.1,2310.8 L552.0,2311.8 L552.0,2312.8 L551.9,2313.8 L551.8,2314.8 L551.8,2315.8 L551.7,2316.8 L551.6,2317.8 L551.5,2318.8 L551.4,2319.8 L551.3,2320.8 L551.2,2321.8 L551.1,2322.8 L551.0,2323.8 L551.0,2324.8 L550.8,2325.8 L550.7,2326.8 L550.6,2327.8 L550.5,2328.8 L550.4,2329.8 L550.3,2330.8 L550.2,2331.8 L550.0,2332.8 L549.9,2333.8 L549.8,2334.8 L549.6,2335.8 L549.5,2336.8 L549.3,2337.8 L549.1,2338.8 L548.9,2339.8 L548.8,2340.8 L548.5,2341.8 L548.3,2342.8 L548.1,2343.8 L547.8,2344.8 L547.5,2345.8 L547.2,2346.8 L546.9,2347.8 L546.5,2348.8 L546.2,2349.8 L545.8,2350.8 L545.4,2351.8 L545.1,2352.8 L544.7,2353.8 L544.3,2354.8 L543.8,2355.8 L543.4,2356.8 L542.9,2357.8 L542.4,2358.8 L541.8,2359.8 L541.3,2360.8 L540.6,2361.8 L540.0,2362.8 L539.2,2363.8 L538.4,2364.8 L537.4,2365.8 L536.4,2366.8 L535.3,2367.8 L534.2,2368.8 L533.0,2369.8 L531.7,2370.8 L530.3,2371.8 L528.8,2372.8 L527.1,2373.8 L525.4,2374.8 L523.6,2375.8 L521.6,2376.8 L519.6,2377.8 L517.4,2378.8 L514.8,2379.8 L512.2,2380.8 L509.6,2381.8 L507.0,2382.8 L504.5,2383.8 L501.9,2384.8 L499.3,2385.8 L496.9,2386.8 L494.6,2387.8 L492.3,2388.8 L490.1,2389.8 L488.0,2390.8 L486.2,2391.8 L484.8,2392.8 L483.5,2393.8 L482.7,2394.8 L482.8,2395.8 L483.2,2396.8 L483.7,2397.8 L484.6,2398.8 L486.0,2399.8 L488.4,2400.8 L490.1,2401.2 L626.4,2401.2 L628.1,2400.8 L630.5,2399.8 L631.9,2398.8 L632.8,2397.8 L633.3,2396.8 L633.7,2395.8 L633.8,2394.8 L633.0,2393.8 L631.7,2392.8 L630.3,2391.8 L628.5,2390.8 L626.4,2389.8 L624.2,2388.8 L621.9,2387.8 L619.6,2386.8 L617.2,2385.8 L614.6,2384.8 L612.0,2383.8 L609.5,2382.8 L606.9,2381.8 L604.3,2380.8 L601.7,2379.8 L599.1,2378.8 L596.9,2377.8 L594.9,2376.8 L592.9,2375.8 L591.1,2374.8 L589.4,2373.8 L587.7,2372.8 L586.2,2371.8 L584.8,2370.8 L583.5,2369.8 L582.3,2368.8 L581.2,2367.8 L580.1,2366.8 L579.1,2365.8 L578.1,2364.8 L577.3,2363.8 L576.5,2362.8 L575.9,2361.8 L575.2,2360.8 L574.7,2359.8 L574.1,2358.8 L573.6,2357.8 L573.1,2356.8 L572.7,2355.8 L572.2,2354.8 L571.8,2353.8 L571.4,2352.8 L571.1,2351.8 L570.7,2350.8 L570.3,2349.8 L570.0,2348.8 L569.6,2347.8 L569.3,2346.8 L569.0,2345.8 L568.7,2344.8 L568.4,2343.8 L568.2,2342.8 L568.0,2341.8 L567.7,2340.8 L567.6,2339.8 L567.4,2338.8 L567.2,2337.8 L567.0,2336.8 L566.9,2335.8 L566.7,2334.8 L566.6,2333.8 L566.5,2332.8 L566.3,2331.8 L566.2,2330.8 L566.1,2329.8 L566.0,2328.8 L565.9,2327.8 L565.8,2326.8 L565.7,2325.8 L565.5,2324.8 L565.5,2323.8 L565.4,2322.8 L565.3,2321.8 L565.2,2320.8 L565.1,2319.8 L565.0,2318.8 L564.9,2317.8 L564.8,2316.8 L564.7,2315.8 L564.7,2314.8 L564.6,2313.8 L564.5,2312.8 L564.5,2311.8 L564.4,2310.8 L564.3,2309.8 L564.3,2308.8 L564.2,2307.8 L564.1,2306.8 L564.1,2305.8 L564.0,2304.8 L563.9,2303.8 L563.9,2302.8 L563.8,2301.8 L563.7,2300.8 L563.7,2299.8 L563.6,2298.8 L563.5,2297.8 L563.5,2296.8 L563.4,2295.8 L563.3,2294.8 L563.3,2293.8 L563.2,2292.8 L563.1,2291.8 L563.0,2290.8 L562.9,2289.8 L562.9,2288.8 L562.8,2287.8 L562.7,2286.8 L562.6,2285.8 L562.5,2284.8 L562.5,2283.8 L562.4,2282.8 L562.3,2281.8 L562.2,2280.8 L562.1,2279.8 L562.0,2278.8 L562.0,2277.8 L561.9,2276.8 L561.8,2275.8 L561.7,2274.8 L561.6,2273.8 L561.6,2272.8 L561.5,2271.8 L561.4,2270.8 L561.3,2269.8 L561.3,2268.8 L561.2,2267.8 L561.1,2266.8 L561.0,2265.8 L560.9,2264.8 L560.8,2263.8 L560.7,2262.8 L560.6,2261.8 L560.5,2260.8 L560.4,2259.8 L560.4,2258.8 L560.3,2257.8 L560.2,2256.8 L560.1,2255.8 L560.0,2254.8 L559.9,2253.8 L559.9,2252.8 L559.8,2251.8 L559.8,2250.8 L559.7,2249.8 L559.7,2248.8 L559.6,2247.8 L559.6,2246.8 L559.6,2245.8 L559.6,2244.8 L559.6,2243.8 L559.6,2242.8 L559.6,2241.8 L559.6,2240.8 L559.6,2239.8 L559.6,2238.8 L559.6,2237.8 L559.6,2236.8 L559.6,2235.8 L559.6,2234.8 L559.6,2233.8 L559.6,2232.8 L559.6,2231.8 L559.6,2230.8 L559.6,2229.8 L559.6,2228.8 L559.6,2227.8 L559.6,2226.8 L559.6,2225.8 L559.6,2224.8 L559.6,2223.8 L559.6,2222.8 L559.6,2221.8 L559.6,2220.8 L559.6,2219.8 L559.6,2218.8 L559.6,2217.8 L559.7,2216.8 L559.7,2215.8 L559.8,2214.8 L559.8,2213.8 L559.9,2212.8 L559.9,2211.8 L560.0,2210.8 L560.1,2209.8 L560.1,2208.8 L560.2,2207.8 L560.2,2206.8 L560.3,2205.8 L560.3,2204.8 L560.3,2203.8 L560.3,2202.8 L560.3,2201.8 L560.3,2200.8 L560.3,2199.8 L560.3,2198.8 L560.2,2197.8 L560.1,2196.8 L560.1,2195.8 L560.0,2194.8 L559.9,2193.8 L559.9,2192.8 L559.8,2191.8 L559.7,2190.8 L559.6,2189.8 L559.6,2188.8 L559.5,2187.8 L559.5,2186.8 L559.4,2185.8 L559.4,2184.8 L559.4,2183.8 L559.4,2182.8 L559.4,2181.8 L559.4,2180.8 L559.4,2179.8 L559.4,2178.8 L559.5,2177.8 L559.6,2176.8 L559.6,2175.8 L559.7,2174.8 L559.8,2173.8 L559.8,2172.8 L559.9,2171.8 L560.0,2170.8 L560.1,2169.8 L560.1,2168.8 L560.2,2167.8 L560.2,2166.8 L560.3,2165.8 L560.3,2164.8 L560.3,2163.8 L560.3,2162.8 L560.3,2161.8 L560.3,2160.8 L560.3,2159.8 L560.2,2158.8 L560.2,2157.8 L560.1,2156.8 L560.0,2155.8 L559.9,2154.8 L559.9,2153.8 L559.8,2152.8 L559.7,2151.8 L559.6,2150.8 L559.5,2149.8 L559.5,2148.8 L559.4,2147.8 L559.4,2146.8 L559.4,2145.8 L559.4,2144.8 L559.4,2143.8 L559.4,2142.8 L559.4,2141.8 L559.4,2140.8 L559.4,2139.8 L559.4,2138.8 L559.4,2137.8 L559.4,2136.8 L559.4,2135.8 L559.4,2134.8 L559.4,2133.8 L559.4,2132.8 L559.4,2131.8 L559.4,2130.8 L559.4,2129.8 L559.4,2128.8 L559.4,2127.8 L559.4,2126.8 L559.4,2125.8 L559.4,2124.8 L559.4,2123.8 L559.4,2122.8 L559.4,2121.8 L559.4,2120.8 L559.4,2119.8 L559.4,2118.8 L559.4,2117.8 L559.4,2116.8 L559.4,2115.8 L559.4,2114.8 L559.4,2113.8 L559.4,2112.8 L559.4,2111.8 L559.4,2110.8 L559.4,2109.8 L559.4,2108.8 L559.4,2107.8 L559.4,2106.8 L559.4,2105.8 L559.4,2104.8 L559.4,2103.8 L559.4,2102.8 L559.4,2101.8 L559.4,2100.8 L559.4,2099.8 L559.4,2098.8 L559.4,2097.8 L559.4,2096.8 L559.4,2095.8 L559.4,2094.8 L559.4,2093.8 L559.4,2092.8 L559.4,2091.8 L559.4,2090.8 L559.4,2089.8 L559.4,2088.8 L559.4,2087.8 L559.4,2086.8 L559.4,2085.8 L559.4,2084.8 L559.4,2083.8 L559.4,2082.8 L559.4,2081.8 L559.4,2080.8 L559.4,2079.8 L559.4,2078.8 L559.4,2077.8 L559.4,2076.8 L559.4,2075.8 L559.4,2074.8 L559.4,2073.8Z" fill="#00e0da" stroke="#393939" stroke-width="4.8" stroke-linejoin="round"/>
<line x1="558.25" y1="2074.75" x2="558.25" y2="2352.50" stroke="#393939" stroke-width="4.8"/>
<line x1="558.25" y1="2400.00" x2="558.25" y2="2401.25" stroke="#393939" stroke-width="4.8"/>
<rect x="550.40" y="2354.90" width="15.90" height="42.70" fill="#00e0da" stroke="#393939" stroke-width="4.8" stroke-linejoin="round"/>
<line x1="549.00" y1="2388.00" x2="567.70" y2="2388.00" stroke="#393939" stroke-width="7.5"/>
</g>
<g id="panel-e">
<text transform="matrix(0.3990,0,0,0.3635,730.90,1483.24)" font-size="100" font-weight="bold" fill="#000" stroke="#000" stroke-width="0.79" stroke-linejoin="round">e</text>
<clipPath id="ce1"><rect x="818.75" y="1514.5" width="528.25" height="348.0"/></clipPath>
<rect x="818.75" y="1514.50" width="528.25" height="348.00" fill="#ebebeb"/>
<g clip-path="url(#ce1)">
<line x1="818.75" y1="1541.25" x2="1347.00" y2="1541.25" stroke="#fff" stroke-width="2.6"/>
<line x1="818.75" y1="1633.25" x2="1347.00" y2="1633.25" stroke="#fff" stroke-width="2.6"/>
<line x1="818.75" y1="1725.00" x2="1347.00" y2="1725.00" stroke="#fff" stroke-width="2.6"/>
<line x1="818.75" y1="1817.00" x2="1347.00" y2="1817.00" stroke="#fff" stroke-width="2.6"/>
<line x1="849.00" y1="1514.50" x2="849.00" y2="1862.50" stroke="#fff" stroke-width="2.6"/>
<line x1="1034.50" y1="1514.50" x2="1034.50" y2="1862.50" stroke="#fff" stroke-width="2.6"/>
<line x1="1220.00" y1="1514.50" x2="1220.00" y2="1862.50" stroke="#fff" stroke-width="2.6"/>
<line x1="818.75" y1="1587.00" x2="1347.00" y2="1587.00" stroke="#fff" stroke-width="5.2"/>
<line x1="818.75" y1="1679.00" x2="1347.00" y2="1679.00" stroke="#fff" stroke-width="5.2"/>
<line x1="818.75" y1="1770.75" x2="1347.00" y2="1770.75" stroke="#fff" stroke-width="5.2"/>
<line x1="818.75" y1="1862.50" x2="1347.00" y2="1862.50" stroke="#fff" stroke-width="5.2"/>
<line x1="941.75" y1="1514.50" x2="941.75" y2="1862.50" stroke="#fff" stroke-width="5.2"/>
<line x1="1127.00" y1="1514.50" x2="1127.00" y2="1862.50" stroke="#fff" stroke-width="5.2"/>
<line x1="1312.50" y1="1514.50" x2="1312.50" y2="1862.50" stroke="#fff" stroke-width="5.2"/>
</g>
<g clip-path="url(#ce1)">
<path d="M830.0,1862.5V1862.5h1V1862.5h1V1862.5h1V1862.5h1V1862.5h1V1862.5h1V1862.5h1V1862.5h1V1862.5h1V1862.5h1V1862.5h1V1862.5h1V1862.5h1V1862.5h1V1862.5h1V1862.5h1V1862.5h1V1862.5h1V1862.5h1V1862.5h1V1862.5h1V1862.5h1V1862.5h1V1862.5h1V1862.5h1V1862.5h1V1862.5h1V1862.5h1V1862.5h1V1862.5h1V1862.5h1V1862.5h1V1862.5h1V1862.5h1V1862.5h1V1862.5h1V1862.5h1V1862.5h1V1862.5h1V1862.5h1V1862.5h1V1862.5h1V1862.5h1V1862.5h1V1862.5h1V1862.5h1V1862.5h1V1862.5h1V1862.5h1V1862.5h1V1862.5h1V1862.5h1V1862.5h1V1862.5h1V1862.5h1V1862.5h1V1862.5h1V1862.5h1V1862.5h1V1862.5h1V1862.5h1V1862.5h1V1862.5h1V1862.5h1V1862.5h1V1862.5h1V1862.5h1V1862.5h1V1862.5h1V1862.5h1V1862.5h1V1862.5h1V1862.5h1V1862.5h1V1862.5h1V1862.1h1V1862.5h1V1862.5h1V1862.5h1V1862.5h1V1862.5h1V1862.5h1V1862.1h1V1862.0h1V1861.6h1V1862.5h1V1862.5h1V1861.8h1V1861.8h1V1861.6h1V1861.7h1V1861.9h1V1861.6h1V1861.1h1V1861.1h1V1861.4h1V1860.7h1V1861.4h1V1860.9h1V1860.5h1V1860.9h1V1860.7h1V1860.0h1V1859.9h1V1859.7h1V1859.7h1V1859.7h1V1859.3h1V1856.9h1V1858.6h1V1857.1h1V1858.0h1V1856.4h1V1856.1h1V1856.1h1V1856.5h1V1856.5h1V1854.3h1V1855.5h1V1855.0h1V1852.1h1V1851.5h1V1852.1h1V1851.6h1V1851.3h1V1849.5h1V1849.5h1V1849.8h1V1848.1h1V1846.1h1V1847.1h1V1845.4h1V1843.0h1V1839.9h1V1840.6h1V1839.5h1V1835.6h1V1838.3h1V1836.5h1V1832.7h1V1830.7h1V1830.0h1V1833.2h1V1826.0h1V1824.3h1V1823.4h1V1820.4h1V1817.0h1V1817.3h1V1816.9h1V1816.4h1V1810.4h1V1809.6h1V1806.8h1V1805.5h1V1799.8h1V1796.1h1V1793.9h1V1794.6h1V1787.0h1V1785.3h1V1789.0h1V1778.3h1V1781.7h1V1776.2h1V1767.1h1V1764.7h1V1764.7h1V1761.8h1V1754.7h1V1757.2h1V1747.1h1V1745.3h1V1738.4h1V1737.1h1V1736.1h1V1728.1h1V1725.8h1V1725.3h1V1720.4h1V1715.8h1V1708.1h1V1701.5h1V1700.1h1V1700.1h1V1693.0h1V1685.4h1V1679.3h1V1682.5h1V1673.8h1V1672.2h1V1674.9h1V1667.6h1V1660.7h1V1656.5h1V1652.1h1V1649.0h1V1641.3h1V1642.9h1V1641.8h1V1629.4h1V1630.5h1V1621.1h1V1624.5h1V1612.0h1V1619.7h1V1616.4h1V1605.1h1V1597.3h1V1605.8h1V1592.6h1V1590.1h1V1590.8h1V1593.0h1V1599.6h1V1594.7h1V1589.2h1V1581.3h1V1582.7h1V1583.3h1V1578.3h1V1585.0h1V1574.3h1V1579.4h1V1568.1h1V1572.4h1V1575.9h1V1574.3h1V1578.8h1V1570.2h1V1575.4h1V1571.1h1V1565.2h1V1569.0h1V1568.5h1V1558.7h1V1568.1h1V1566.7h1V1573.6h1V1578.7h1V1572.9h1V1580.2h1V1589.8h1V1574.2h1V1576.6h1V1584.4h1V1575.0h1V1582.8h1V1586.2h1V1590.1h1V1582.2h1V1591.4h1V1593.6h1V1595.5h1V1599.0h1V1605.2h1V1603.3h1V1606.3h1V1601.8h1V1613.1h1V1606.9h1V1614.8h1V1618.8h1V1618.8h1V1620.7h1V1623.3h1V1624.3h1V1628.8h1V1639.2h1V1638.7h1V1632.3h1V1642.6h1V1654.7h1V1647.8h1V1645.0h1V1650.5h1V1658.2h1V1660.9h1V1662.6h1V1669.0h1V1673.6h1V1669.1h1V1680.1h1V1678.3h1V1691.1h1V1691.6h1V1696.3h1V1694.1h1V1701.2h1V1704.6h1V1708.9h1V1708.6h1V1709.2h1V1717.7h1V1717.1h1V1722.4h1V1727.6h1V1727.7h1V1727.8h1V1743.2h1V1736.2h1V1736.1h1V1745.0h1V1745.3h1V1747.7h1V1752.0h1V1755.7h1V1755.7h1V1759.1h1V1764.4h1V1765.9h1V1772.8h1V1773.5h1V1775.4h1V1778.4h1V1782.5h1V1780.2h1V1784.9h1V1786.4h1V1793.5h1V1793.9h1V1796.6h1V1797.6h1V1795.7h1V1796.0h1V1803.1h1V1804.7h1V1807.9h1V1810.4h1V1809.5h1V1813.8h1V1816.8h1V1815.4h1V1818.5h1V1819.3h1V1820.9h1V1821.3h1V1823.4h1V1824.4h1V1827.5h1V1828.8h1V1829.4h1V1830.9h1V1831.8h1V1833.2h1V1831.8h1V1836.3h1V1836.5h1V1838.0h1V1837.5h1V1841.2h1V1842.7h1V1840.6h1V1842.1h1V1843.6h1V1845.5h1V1844.0h1V1845.8h1V1847.6h1V1848.2h1V1849.0h1V1847.6h1V1849.8h1V1851.2h1V1851.4h1V1850.4h1V1851.4h1V1853.1h1V1853.9h1V1853.9h1V1853.6h1V1854.6h1V1855.1h1V1855.1h1V1855.9h1V1856.6h1V1857.2h1V1857.1h1V1857.3h1V1857.0h1V1857.4h1V1858.2h1V1857.3h1V1858.9h1V1857.9h1V1859.3h1V1859.0h1V1858.6h1V1858.8h1V1859.8h1V1859.6h1V1860.3h1V1860.0h1V1859.9h1V1860.4h1V1859.8h1V1860.3h1V1860.3h1V1860.9h1V1860.9h1V1860.8h1V1860.7h1V1860.9h1V1861.3h1V1861.5h1V1861.7h1V1860.8h1V1861.2h1V1861.2h1V1861.6h1V1861.2h1V1861.6h1V1861.7h1V1861.9h1V1862.5h1V1861.8h1V1861.9h1V1862.0h1V1862.5h1V1862.5h1V1862.5h1V1862.0h1V1861.8h1V1862.5h1V1862.5h1V1862.5h1V1862.5h1V1862.5h1V1862.5h1V1862.5h1V1862.5h1V1862.5h1V1862.5h1V1862.5h1V1862.5h1V1862.5h1V1862.5h1V1862.5h1V1862.5h1V1862.5h1V1862.5h1V1862.5h1V1862.5h1V1862.5h1V1862.5h1V1862.5h1V1862.5h1V1862.5h1V1862.5h1V1862.5h1V1862.5h1V1862.5h1V1862.5h1V1862.5h1V1862.5h1V1862.5h1V1862.5h1V1862.5h1V1862.5h1V1862.5h1V1862.5h1V1862.5h1V1862.5h1V1862.5h1V1862.5h1V1862.5h1V1862.5h1V1862.5h1V1862.5h1V1862.5h1V1862.5h1V1862.5h1V1862.5h1V1862.5h1V1862.5h1V1862.5h1V1862.5h1V1862.5h1V1862.5h1V1862.5h1V1862.5h1V1862.5h1V1862.5h1V1862.5h1V1862.5h1V1862.5h1V1862.5h1V1862.5h1V1862.5h1V1862.5h1V1862.5h1V1862.5h1V1862.5h1V1862.5h1V1862.5h1V1862.5h1V1862.5h1V1862.5h1V1862.5h1V1862.5h1V1862.5h1V1862.5h1V1862.5h1V1862.5h1V1862.5h1V1862.5h1V1862.5h1V1862.5h1V1862.5h1V1862.5h1V1862.5h1V1862.5h1V1862.5h1V1862.5h1V1862.5h1V1862.5h1V1862.5h1V1862.5Z" fill="#ffd34d" fill-opacity="0.5"/>
<path d="M830.0,1862.5V1862.5h1V1862.5h1V1862.5h1V1862.5h1V1862.5h1V1862.5h1V1862.5h1V1862.5h1V1862.5h1V1862.5h1V1862.5h1V1862.5h1V1862.5h1V1862.5h1V1862.5h1V1862.5h1V1862.5h1V1861.9h1V1862.5h1V1862.5h1V1861.9h1V1862.5h1V1861.9h1V1861.6h1V1861.8h1V1861.8h1V1861.6h1V1861.9h1V1861.7h1V1861.7h1V1861.5h1V1861.5h1V1861.3h1V1861.3h1V1861.0h1V1860.8h1V1860.6h1V1859.9h1V1861.1h1V1859.5h1V1860.1h1V1860.4h1V1859.6h1V1859.1h1V1858.3h1V1859.3h1V1858.1h1V1857.8h1V1858.8h1V1858.0h1V1856.2h1V1855.7h1V1854.8h1V1854.7h1V1854.3h1V1853.9h1V1852.2h1V1853.6h1V1852.2h1V1850.8h1V1852.2h1V1848.0h1V1849.6h1V1847.7h1V1843.8h1V1846.7h1V1845.1h1V1840.9h1V1843.5h1V1841.2h1V1838.3h1V1836.9h1V1835.1h1V1833.9h1V1830.4h1V1829.1h1V1828.0h1V1828.5h1V1826.6h1V1827.0h1V1819.3h1V1822.5h1V1814.1h1V1809.3h1V1813.5h1V1809.9h1V1806.7h1V1800.5h1V1801.9h1V1796.9h1V1794.8h1V1790.8h1V1783.0h1V1786.0h1V1779.4h1V1775.1h1V1769.5h1V1772.3h1V1760.7h1V1758.8h1V1753.1h1V1751.6h1V1753.3h1V1745.4h1V1735.6h1V1733.9h1V1729.6h1V1717.8h1V1711.3h1V1715.2h1V1702.3h1V1713.5h1V1708.9h1V1691.6h1V1691.3h1V1682.6h1V1677.7h1V1675.2h1V1666.6h1V1663.9h1V1666.6h1V1653.2h1V1648.3h1V1635.1h1V1644.5h1V1633.9h1V1631.1h1V1624.7h1V1610.6h1V1612.4h1V1612.0h1V1604.1h1V1596.3h1V1601.2h1V1592.9h1V1578.8h1V1578.3h1V1579.2h1V1577.7h1V1572.1h1V1576.4h1V1558.7h1V1558.8h1V1556.7h1V1561.9h1V1555.6h1V1545.7h1V1544.6h1V1546.6h1V1538.5h1V1533.8h1V1541.4h1V1538.9h1V1539.3h1V1539.6h1V1526.7h1V1527.4h1V1527.5h1V1535.9h1V1534.6h1V1528.3h1V1530.1h1V1526.8h1V1531.7h1V1523.8h1V1517.3h1V1519.4h1V1519.7h1V1529.9h1V1526.0h1V1535.1h1V1528.8h1V1538.2h1V1540.7h1V1543.6h1V1537.9h1V1542.7h1V1545.8h1V1556.2h1V1551.6h1V1563.7h1V1550.0h1V1562.5h1V1564.0h1V1569.2h1V1581.2h1V1583.7h1V1580.1h1V1575.7h1V1594.1h1V1596.0h1V1596.6h1V1609.7h1V1614.1h1V1611.8h1V1614.4h1V1620.8h1V1615.6h1V1629.0h1V1631.1h1V1629.7h1V1634.1h1V1654.9h1V1653.9h1V1651.4h1V1668.2h1V1670.8h1V1677.3h1V1682.3h1V1686.0h1V1685.0h1V1685.0h1V1688.7h1V1699.9h1V1712.7h1V1709.4h1V1715.0h1V1716.8h1V1723.1h1V1733.8h1V1729.7h1V1743.2h1V1742.2h1V1742.7h1V1746.6h1V1746.3h1V1763.7h1V1758.3h1V1760.9h1V1767.9h1V1768.4h1V1777.3h1V1775.3h1V1779.0h1V1786.7h1V1788.9h1V1790.6h1V1794.8h1V1793.1h1V1798.3h1V1798.1h1V1801.1h1V1806.5h1V1809.6h1V1813.7h1V1815.7h1V1817.9h1V1817.5h1V1822.2h1V1822.2h1V1823.9h1V1827.1h1V1828.3h1V1826.9h1V1828.3h1V1834.3h1V1834.7h1V1836.5h1V1837.7h1V1836.1h1V1838.8h1V1839.2h1V1839.6h1V1844.0h1V1844.7h1V1845.4h1V1845.1h1V1847.5h1V1847.4h1V1847.6h1V1848.5h1V1850.1h1V1852.2h1V1853.6h1V1851.5h1V1852.8h1V1854.7h1V1854.8h1V1855.3h1V1856.8h1V1855.6h1V1856.9h1V1856.9h1V1856.5h1V1857.5h1V1857.3h1V1857.8h1V1858.3h1V1858.6h1V1857.7h1V1859.3h1V1858.4h1V1860.1h1V1859.4h1V1859.9h1V1860.6h1V1861.6h1V1859.8h1V1861.2h1V1861.2h1V1860.9h1V1861.0h1V1861.0h1V1861.3h1V1861.9h1V1861.1h1V1861.8h1V1861.5h1V1861.5h1V1861.4h1V1861.9h1V1861.9h1V1862.0h1V1862.5h1V1862.5h1V1862.5h1V1862.5h1V1862.1h1V1862.5h1V1861.9h1V1861.9h1V1862.5h1V1862.5h1V1862.5h1V1862.5h1V1862.5h1V1862.5h1V1862.5h1V1862.5h1V1862.5h1V1862.5h1V1862.5h1V1862.5h1V1862.5h1V1862.5h1V1862.5h1V1862.5h1V1862.5h1V1862.5h1V1862.5h1V1862.5h1V1862.5h1V1862.5h1V1862.5h1V1862.5h1V1862.5h1V1862.5h1V1862.5h1V1862.5h1V1862.5h1V1862.5h1V1862.5h1V1862.5h1V1862.5h1V1862.5h1V1862.5h1V1862.5h1V1862.5h1V1862.5h1V1862.5h1V1862.5h1V1862.5h1V1862.5h1V1862.5h1V1862.5h1V1862.5h1V1862.5h1V1862.5h1V1862.5h1V1862.5h1V1862.5h1V1862.5h1V1862.5h1V1862.5h1V1862.5h1V1862.5h1V1862.5h1V1862.5h1V1862.5h1V1862.5h1V1862.5h1V1862.5h1V1862.5h1V1862.5h1V1862.5h1V1862.5h1V1862.5h1V1862.5h1V1862.5h1V1862.5h1V1862.5h1V1862.5h1V1862.5h1V1862.5h1V1862.5h1V1862.5h1V1862.5h1V1862.5h1V1862.5h1V1862.5h1V1862.5h1V1862.5h1V1862.5h1V1862.5h1V1862.5h1V1862.5h1V1862.5h1V1862.5h1V1862.5h1V1862.5h1V1862.5h1V1862.5h1V1862.5h1V1862.5h1V1862.5h1V1862.5h1V1862.5h1V1862.5h1V1862.5h1V1862.5h1V1862.5h1V1862.5h1V1862.5h1V1862.5h1V1862.5h1V1862.5h1V1862.5h1V1862.5h1V1862.5h1V1862.5h1V1862.5h1V1862.5h1V1862.5h1V1862.5h1V1862.5h1V1862.5h1V1862.5h1V1862.5h1V1862.5h1V1862.5h1V1862.5h1V1862.5h1V1862.5h1V1862.5h1V1862.5h1V1862.5h1V1862.5h1V1862.5h1V1862.5h1V1862.5h1V1862.5h1V1862.5h1V1862.5h1V1862.5h1V1862.5h1V1862.5h1V1862.5h1V1862.5h1V1862.5h1V1862.5h1V1862.5h1V1862.5h1V1862.5h1V1862.5h1V1862.5h1V1862.5h1V1862.5h1V1862.5h1V1862.5h1V1862.5h1V1862.5h1V1862.5h1V1862.5h1V1862.5h1V1862.5h1V1862.5h1V1862.5h1V1862.5h1V1862.5h1V1862.5h1V1862.5h1V1862.5h1V1862.5h1V1862.5h1V1862.5h1V1862.5h1V1862.5h1V1862.5h1V1862.5h1V1862.5h1V1862.5h1V1862.5h1V1862.5h1V1862.5h1V1862.5h1V1862.5h1V1862.5h1V1862.5h1V1862.5h1V1862.5h1V1862.5h1V1862.5h1V1862.5h1V1862.5h1V1862.5h1V1862.5h1V1862.5h1V1862.5h1V1862.5h1V1862.5h1V1862.5h1V1862.5h1V1862.5h1V1862.5h1V1862.5h1V1862.5h1V1862.5h1V1862.5Z" fill="#00e0dc" fill-opacity="0.5"/>
<path d="M830.0,1862.5V1862.5h1V1862.5h1V1862.5h1V1862.5h1V1862.5h1V1862.5h1V1862.5h1V1862.5h1V1862.5h1V1862.5h1V1862.5h1V1862.5h1V1862.5h1V1862.5h1V1862.5h1V1862.5h1V1862.5h1V1862.5h1V1862.5h1V1862.5h1V1862.5h1V1862.5h1V1862.5h1V1862.5h1V1862.5h1V1862.5h1V1862.5h1V1862.5h1V1862.5h1V1862.5h1V1862.5h1V1862.5h1V1862.5h1V1862.5h1V1862.5h1V1862.5h1V1862.5h1V1862.5h1V1862.5h1V1862.5h1V1862.5h1V1862.5h1V1862.5h1V1862.5h1V1862.5h1V1862.5h1V1862.5h1V1862.5h1V1862.5h1V1862.5h1V1862.5h1V1862.5h1V1862.5h1V1862.5h1V1862.5h1V1862.5h1V1862.5h1V1862.5h1V1862.5h1V1862.5h1V1862.5h1V1862.5h1V1862.5h1V1862.5h1V1862.5h1V1862.5h1V1862.5h1V1862.5h1V1862.5h1V1862.5h1V1862.5h1V1862.5h1V1862.5h1V1862.5h1V1862.5h1V1862.5h1V1862.5h1V1862.5h1V1862.5h1V1862.5h1V1862.5h1V1862.5h1V1862.5h1V1862.5h1V1862.5h1V1862.5h1V1862.5h1V1862.5h1V1862.5h1V1862.5h1V1862.5h1V1862.5h1V1862.5h1V1862.5h1V1862.5h1V1862.5h1V1862.5h1V1862.5h1V1862.5h1V1862.5h1V1862.5h1V1862.5h1V1862.5h1V1862.5h1V1862.5h1V1862.5h1V1862.5h1V1862.5h1V1862.5h1V1862.5h1V1862.5h1V1862.5h1V1862.5h1V1861.9h1V1862.0h1V1862.5h1V1862.1h1V1861.8h1V1861.8h1V1861.5h1V1861.6h1V1861.3h1V1861.4h1V1861.7h1V1861.7h1V1861.4h1V1860.9h1V1861.3h1V1860.3h1V1861.3h1V1860.5h1V1860.6h1V1859.8h1V1859.6h1V1859.5h1V1859.9h1V1859.4h1V1859.0h1V1857.5h1V1858.3h1V1857.0h1V1856.2h1V1857.2h1V1856.4h1V1857.4h1V1855.2h1V1853.5h1V1854.5h1V1852.5h1V1851.2h1V1850.9h1V1850.9h1V1849.2h1V1849.3h1V1848.0h1V1843.2h1V1845.9h1V1845.0h1V1842.4h1V1840.9h1V1838.6h1V1839.6h1V1838.5h1V1836.7h1V1831.9h1V1829.3h1V1830.9h1V1828.3h1V1825.2h1V1824.9h1V1821.7h1V1816.0h1V1818.4h1V1812.0h1V1807.3h1V1809.9h1V1801.4h1V1801.1h1V1799.3h1V1792.2h1V1790.9h1V1788.3h1V1785.6h1V1782.7h1V1777.9h1V1773.0h1V1765.6h1V1764.7h1V1758.5h1V1756.4h1V1748.8h1V1746.1h1V1736.5h1V1735.3h1V1737.8h1V1726.9h1V1723.1h1V1712.3h1V1710.9h1V1702.0h1V1697.1h1V1697.8h1V1690.8h1V1683.8h1V1683.3h1V1657.3h1V1664.9h1V1667.9h1V1663.0h1V1650.1h1V1647.1h1V1647.4h1V1642.8h1V1628.6h1V1625.7h1V1615.8h1V1613.3h1V1601.5h1V1612.2h1V1594.0h1V1596.8h1V1592.6h1V1577.3h1V1589.0h1V1574.1h1V1571.4h1V1558.2h1V1569.5h1V1555.1h1V1550.6h1V1550.0h1V1545.8h1V1544.2h1V1549.0h1V1540.6h1V1546.4h1V1526.5h1V1524.1h1V1536.5h1V1518.6h1V1525.3h1V1532.1h1V1526.0h1V1516.8h1V1520.1h1V1525.4h1V1514.1h1V1519.2h1V1520.8h1V1525.3h1V1514.5h1V1512.7h1V1524.9h1V1521.0h1V1521.7h1V1520.1h1V1529.0h1V1511.5h1V1523.7h1V1521.8h1V1531.2h1V1518.6h1V1531.0h1V1547.1h1V1532.8h1V1541.9h1V1551.0h1V1548.1h1V1556.4h1V1550.4h1V1554.5h1V1569.8h1V1561.7h1V1563.5h1V1587.7h1V1570.3h1V1578.2h1V1581.7h1V1582.8h1V1595.4h1V1604.5h1V1602.4h1V1610.0h1V1611.5h1V1630.9h1V1625.7h1V1615.2h1V1631.5h1V1633.3h1V1641.6h1V1650.0h1V1649.2h1V1654.7h1V1664.9h1V1669.1h1V1670.0h1V1681.7h1V1686.7h1V1682.6h1V1687.6h1V1698.3h1V1695.6h1V1703.3h1V1709.9h1V1718.2h1V1717.6h1V1727.2h1V1729.8h1V1736.2h1V1733.6h1V1741.8h1V1746.4h1V1748.1h1V1745.8h1V1754.7h1V1767.3h1V1765.8h1V1769.1h1V1774.8h1V1779.4h1V1774.6h1V1780.8h1V1783.6h1V1788.3h1V1790.0h1V1794.0h1V1797.7h1V1801.4h1V1806.1h1V1808.0h1V1808.9h1V1813.3h1V1812.7h1V1817.8h1V1816.2h1V1823.1h1V1821.4h1V1821.4h1V1824.2h1V1828.8h1V1827.0h1V1831.1h1V1832.1h1V1834.4h1V1838.8h1V1836.2h1V1837.8h1V1838.6h1V1842.6h1V1841.0h1V1844.3h1V1846.1h1V1846.9h1V1846.1h1V1847.9h1V1846.3h1V1848.1h1V1848.5h1V1850.8h1V1852.5h1V1853.7h1V1852.9h1V1852.0h1V1852.6h1V1855.9h1V1854.6h1V1854.7h1V1856.7h1V1856.3h1V1857.3h1V1856.9h1V1857.3h1V1858.0h1V1858.2h1V1858.8h1V1858.6h1V1861.0h1V1858.9h1V1858.8h1V1860.4h1V1859.9h1V1859.7h1V1860.6h1V1860.7h1V1860.6h1V1860.3h1V1861.4h1V1860.8h1V1860.8h1V1861.7h1V1861.2h1V1860.8h1V1861.5h1V1861.6h1V1861.2h1V1861.9h1V1861.8h1V1861.4h1V1861.4h1V1862.5h1V1862.0h1V1861.9h1V1861.8h1V1862.0h1V1862.5h1V1862.0h1V1862.5h1V1862.5h1V1862.5h1V1862.1h1V1862.5h1V1862.5h1V1862.5h1V1862.5h1V1862.5h1V1862.5h1V1862.5h1V1862.5h1V1862.5h1V1862.5h1V1862.5h1V1862.5h1V1862.5h1V1862.5h1V1862.5h1V1862.5h1V1862.5h1V1862.5h1V1862.5h1V1862.5h1V1862.5h1V1862.5h1V1862.5h1V1862.5h1V1862.5h1V1862.5h1V1862.5h1V1862.5h1V1862.5h1V1862.5h1V1862.5h1V1862.5h1V1862.5h1V1862.5h1V1862.5h1V1862.5h1V1862.5h1V1862.5h1V1862.5h1V1862.5h1V1862.5h1V1862.5h1V1862.5h1V1862.5h1V1862.5h1V1862.5h1V1862.5h1V1862.5h1V1862.5h1V1862.5h1V1862.5h1V1862.5h1V1862.5h1V1862.5h1V1862.5h1V1862.5h1V1862.5h1V1862.5h1V1862.5h1V1862.5h1V1862.5h1V1862.5h1V1862.5h1V1862.5h1V1862.5h1V1862.5h1V1862.5h1V1862.5h1V1862.5h1V1862.5h1V1862.5h1V1862.5h1V1862.5h1V1862.5h1V1862.5h1V1862.5h1V1862.5h1V1862.5h1V1862.5h1V1862.5h1V1862.5h1V1862.5h1V1862.5h1V1862.5h1V1862.5h1V1862.5h1V1862.5h1V1862.5h1V1862.5h1V1862.5h1V1862.5h1V1862.5h1V1862.5h1V1862.5h1V1862.5h1V1862.5h1V1862.5h1V1862.5h1V1862.5h1V1862.5h1V1862.5h1V1862.5h1V1862.5h1V1862.5h1V1862.5h1V1862.5h1V1862.5h1V1862.5Z" fill="#69d27a" fill-opacity="0.5"/>
<line x1="994.40" y1="1514.50" x2="994.40" y2="1862.50" stroke="#000" stroke-width="5.2"/>
<line x1="1066.30" y1="1514.50" x2="1066.30" y2="1862.50" stroke="#000" stroke-width="5.2"/>
<line x1="1082.00" y1="1514.50" x2="1082.00" y2="1862.50" stroke="#000" stroke-width="5.2"/>
</g>
<line x1="805.00" y1="1587.00" x2="818.75" y2="1587.00" stroke="#333" stroke-width="5"/>
<text transform="matrix(0.3251,0,0,0.3156,720.16,1597.65)" font-size="100" fill="#4d4d4d" stroke="#4d4d4d" stroke-width="0.31" stroke-linejoin="round">1500</text>
<line x1="805.00" y1="1679.00" x2="818.75" y2="1679.00" stroke="#333" stroke-width="5"/>
<text transform="matrix(0.3251,0,0,0.3156,720.16,1689.65)" font-size="100" fill="#4d4d4d" stroke="#4d4d4d" stroke-width="0.31" stroke-linejoin="round">1000</text>
<line x1="805.00" y1="1770.75" x2="818.75" y2="1770.75" stroke="#333" stroke-width="5"/>
<text transform="matrix(0.3264,0,0,0.3169,737.99,1781.44)" font-size="100" fill="#4d4d4d" stroke="#4d4d4d" stroke-width="0.31" stroke-linejoin="round">500</text>
<line x1="805.00" y1="1862.50" x2="818.75" y2="1862.50" stroke="#333" stroke-width="5"/>
<text transform="matrix(0.3120,0,0,0.3030,775.05,1872.71)" font-size="100" fill="#4d4d4d" stroke="#4d4d4d" stroke-width="0.33" stroke-linejoin="round">0</text>
<line x1="941.75" y1="1862.50" x2="941.75" y2="1877.00" stroke="#333" stroke-width="5"/>
<text transform="matrix(0.3286,0,0,0.3190,918.84,1911.87)" font-size="100" fill="#4d4d4d" stroke="#4d4d4d" stroke-width="0.31" stroke-linejoin="round">0.1</text>
<line x1="1127.00" y1="1862.50" x2="1127.00" y2="1877.00" stroke="#333" stroke-width="5"/>
<text transform="matrix(0.3292,0,0,0.3196,1104.08,1911.89)" font-size="100" fill="#4d4d4d" stroke="#4d4d4d" stroke-width="0.31" stroke-linejoin="round">0.2</text>
<line x1="1312.50" y1="1862.50" x2="1312.50" y2="1877.00" stroke="#333" stroke-width="5"/>
<text transform="matrix(0.3273,0,0,0.3178,1289.59,1911.82)" font-size="100" fill="#4d4d4d" stroke="#4d4d4d" stroke-width="0.31" stroke-linejoin="round">0.3</text>
<text transform="matrix(0,-0.4119,0.4119,0,694.78,1744.56)" font-size="100" fill="#000" stroke="#000" stroke-width="0.61" stroke-linejoin="round">Count</text>
<text transform="matrix(0.4167,0,0,0.4007,906.56,1964.62)" font-size="100" fill="#000" stroke="#000" stroke-width="0.61" stroke-linejoin="round">Mean RLFS per kb</text>
<clipPath id="ce2"><rect x="821.25" y="2000.75" width="547.0" height="347.8499999999999"/></clipPath>
<rect x="821.25" y="2000.75" width="547.00" height="347.85" fill="#ebebeb"/>
<g clip-path="url(#ce2)">
<line x1="821.25" y1="2071.75" x2="1368.25" y2="2071.75" stroke="#fff" stroke-width="2.6"/>
<line x1="821.25" y1="2151.20" x2="1368.25" y2="2151.20" stroke="#fff" stroke-width="2.6"/>
<line x1="821.25" y1="2230.40" x2="1368.25" y2="2230.40" stroke="#fff" stroke-width="2.6"/>
<line x1="821.25" y1="2309.30" x2="1368.25" y2="2309.30" stroke="#fff" stroke-width="2.6"/>
<line x1="837.50" y1="2000.75" x2="837.50" y2="2348.60" stroke="#fff" stroke-width="2.6"/>
<line x1="951.00" y1="2000.75" x2="951.00" y2="2348.60" stroke="#fff" stroke-width="2.6"/>
<line x1="1065.00" y1="2000.75" x2="1065.00" y2="2348.60" stroke="#fff" stroke-width="2.6"/>
<line x1="1178.75" y1="2000.75" x2="1178.75" y2="2348.60" stroke="#fff" stroke-width="2.6"/>
<line x1="1292.50" y1="2000.75" x2="1292.50" y2="2348.60" stroke="#fff" stroke-width="2.6"/>
<line x1="821.25" y1="2032.50" x2="1368.25" y2="2032.50" stroke="#fff" stroke-width="5.2"/>
<line x1="821.25" y1="2111.60" x2="1368.25" y2="2111.60" stroke="#fff" stroke-width="5.2"/>
<line x1="821.25" y1="2190.70" x2="1368.25" y2="2190.70" stroke="#fff" stroke-width="5.2"/>
<line x1="821.25" y1="2269.80" x2="1368.25" y2="2269.80" stroke="#fff" stroke-width="5.2"/>
<line x1="821.25" y1="2348.80" x2="1368.25" y2="2348.80" stroke="#fff" stroke-width="5.2"/>
<line x1="894.30" y1="2000.75" x2="894.30" y2="2348.60" stroke="#fff" stroke-width="5.2"/>
<line x1="1008.00" y1="2000.75" x2="1008.00" y2="2348.60" stroke="#fff" stroke-width="5.2"/>
<line x1="1121.75" y1="2000.75" x2="1121.75" y2="2348.60" stroke="#fff" stroke-width="5.2"/>
<line x1="1235.50" y1="2000.75" x2="1235.50" y2="2348.60" stroke="#fff" stroke-width="5.2"/>
<line x1="1349.50" y1="2000.75" x2="1349.50" y2="2348.60" stroke="#fff" stroke-width="5.2"/>
</g>
<g clip-path="url(#ce2)">
<path d="M830.0,2348.6V2348.6h1V2348.6h1V2348.6h1V2348.6h1V2348.6h1V2348.6h1V2348.6h1V2348.6h1V2348.6h1V2348.6h1V2348.6h1V2348.6h1V2348.6h1V2348.6h1V2348.6h1V2348.6h1V2348.6h1V2348.6h1V2348.6h1V2348.6h1V2348.6h1V2348.6h1V2348.6h1V2348.6h1V2348.6h1V2348.6h1V2348.6h1V2348.6h1V2348.6h1V2348.6h1V2348.6h1V2348.6h1V2348.6h1V2348.6h1V2348.6h1V2348.6h1V2348.6h1V2348.6h1V2348.6h1V2348.6h1V2348.6h1V2348.6h1V2348.6h1V2348.6h1V2348.6h1V2348.6h1V2348.6h1V2348.6h1V2348.6h1V2348.6h1V2348.6h1V2348.6h1V2348.6h1V2348.6h1V2348.6h1V2348.6h1V2348.6h1V2348.6h1V2348.6h1V2348.6h1V2348.6h1V2348.6h1V2348.6h1V2348.6h1V2348.6h1V2348.6h1V2348.6h1V2348.6h1V2348.6h1V2348.6h1V2348.6h1V2348.6h1V2348.6h1V2348.6h1V2348.6h1V2348.6h1V2348.6h1V2348.6h1V2348.6h1V2348.6h1V2348.6h1V2348.6h1V2348.6h1V2348.6h1V2348.6h1V2348.6h1V2348.6h1V2348.6h1V2348.6h1V2348.6h1V2348.6h1V2348.6h1V2348.6h1V2348.6h1V2348.6h1V2348.6h1V2348.6h1V2348.6h1V2348.2h1V2348.6h1V2347.9h1V2348.6h1V2348.0h1V2348.1h1V2348.6h1V2348.1h1V2348.0h1V2348.6h1V2347.2h1V2348.6h1V2347.9h1V2347.3h1V2347.5h1V2347.2h1V2348.6h1V2347.7h1V2347.5h1V2346.7h1V2347.7h1V2347.2h1V2346.0h1V2346.7h1V2346.6h1V2346.8h1V2345.8h1V2347.8h1V2346.9h1V2346.5h1V2345.8h1V2345.7h1V2347.3h1V2345.2h1V2345.9h1V2342.2h1V2344.9h1V2343.3h1V2344.6h1V2344.0h1V2344.4h1V2342.1h1V2341.2h1V2343.9h1V2341.3h1V2340.6h1V2339.3h1V2341.3h1V2337.9h1V2341.2h1V2338.6h1V2339.1h1V2338.2h1V2335.3h1V2335.5h1V2330.7h1V2335.1h1V2335.6h1V2331.2h1V2332.1h1V2332.7h1V2328.2h1V2326.9h1V2332.1h1V2328.8h1V2324.2h1V2327.5h1V2320.6h1V2323.7h1V2321.1h1V2320.4h1V2322.4h1V2318.6h1V2318.6h1V2316.4h1V2310.6h1V2310.2h1V2311.2h1V2307.9h1V2302.3h1V2305.3h1V2304.7h1V2299.0h1V2301.3h1V2301.7h1V2288.6h1V2297.2h1V2290.3h1V2287.0h1V2287.5h1V2276.5h1V2273.7h1V2277.2h1V2282.7h1V2272.1h1V2278.5h1V2265.8h1V2261.7h1V2261.1h1V2253.8h1V2255.8h1V2258.1h1V2252.8h1V2242.1h1V2255.5h1V2240.1h1V2244.9h1V2222.9h1V2239.9h1V2240.9h1V2220.0h1V2216.9h1V2222.6h1V2216.0h1V2219.5h1V2209.2h1V2199.4h1V2199.0h1V2197.5h1V2197.1h1V2182.5h1V2174.0h1V2172.3h1V2186.3h1V2172.5h1V2175.4h1V2168.4h1V2159.4h1V2139.8h1V2152.4h1V2150.7h1V2150.7h1V2139.1h1V2151.5h1V2130.9h1V2125.9h1V2135.9h1V2113.3h1V2104.6h1V2124.3h1V2108.9h1V2115.4h1V2113.8h1V2098.7h1V2099.4h1V2109.3h1V2108.2h1V2091.4h1V2101.9h1V2097.9h1V2087.0h1V2086.2h1V2076.5h1V2060.7h1V2085.4h1V2060.2h1V2082.0h1V2067.9h1V2057.3h1V2044.2h1V2077.0h1V2046.4h1V2060.1h1V2056.5h1V2051.7h1V2038.8h1V2032.9h1V2049.3h1V2057.1h1V2057.9h1V2069.6h1V2063.5h1V2040.0h1V2063.9h1V2059.5h1V2053.5h1V2054.4h1V2055.9h1V2057.1h1V2053.5h1V2035.7h1V2042.4h1V2047.8h1V2055.6h1V2048.9h1V2048.2h1V2058.9h1V2062.3h1V2051.2h1V2060.9h1V2062.4h1V2057.4h1V2059.2h1V2068.7h1V2048.0h1V2060.8h1V2066.7h1V2060.9h1V2057.3h1V2070.8h1V2094.6h1V2085.6h1V2078.3h1V2078.9h1V2070.8h1V2080.7h1V2089.7h1V2083.4h1V2097.8h1V2087.7h1V2110.7h1V2088.9h1V2105.4h1V2100.4h1V2112.0h1V2124.0h1V2118.0h1V2119.2h1V2120.9h1V2125.1h1V2126.2h1V2136.6h1V2148.2h1V2142.4h1V2152.5h1V2147.3h1V2151.4h1V2152.3h1V2159.9h1V2155.3h1V2159.0h1V2161.8h1V2167.3h1V2168.2h1V2170.5h1V2179.4h1V2197.6h1V2190.8h1V2180.2h1V2207.1h1V2196.2h1V2203.8h1V2194.7h1V2204.5h1V2211.6h1V2213.2h1V2226.1h1V2208.4h1V2218.8h1V2230.9h1V2232.1h1V2229.0h1V2238.6h1V2242.4h1V2236.5h1V2244.4h1V2244.5h1V2244.7h1V2256.1h1V2247.3h1V2253.0h1V2264.9h1V2268.6h1V2264.7h1V2266.3h1V2273.3h1V2273.7h1V2275.8h1V2278.7h1V2277.9h1V2275.4h1V2276.3h1V2289.0h1V2288.1h1V2292.2h1V2292.2h1V2295.3h1V2290.9h1V2294.2h1V2301.4h1V2296.5h1V2305.1h1V2304.0h1V2304.2h1V2308.7h1V2311.4h1V2309.6h1V2309.6h1V2313.8h1V2309.7h1V2314.1h1V2318.8h1V2316.6h1V2320.5h1V2319.7h1V2320.3h1V2321.8h1V2320.3h1V2324.7h1V2325.0h1V2327.7h1V2331.3h1V2330.1h1V2329.5h1V2335.9h1V2330.7h1V2331.4h1V2330.7h1V2332.9h1V2332.2h1V2334.9h1V2336.3h1V2335.2h1V2338.5h1V2335.1h1V2339.7h1V2336.1h1V2339.7h1V2340.1h1V2341.3h1V2340.5h1V2340.5h1V2343.1h1V2343.7h1V2341.8h1V2344.0h1V2341.7h1V2341.4h1V2343.7h1V2339.8h1V2343.7h1V2345.1h1V2342.3h1V2344.0h1V2345.2h1V2344.9h1V2343.8h1V2343.8h1V2345.5h1V2346.5h1V2346.2h1V2345.4h1V2346.1h1V2346.0h1V2346.1h1V2345.4h1V2346.8h1V2346.8h1V2348.6h1V2347.0h1V2348.1h1V2347.6h1V2347.2h1V2347.7h1V2347.5h1V2348.6h1V2347.7h1V2347.5h1V2347.7h1V2347.5h1V2348.1h1V2347.5h1V2348.1h1V2348.0h1V2347.6h1V2347.5h1V2347.7h1V2348.6h1V2348.6h1V2348.6h1V2348.1h1V2347.7h1V2347.9h1V2348.6h1V2348.2h1V2348.6h1V2348.6h1V2348.6h1V2348.1h1V2348.6h1V2348.6h1V2348.6h1V2348.6h1V2348.6h1V2348.6h1V2348.1h1V2348.0h1V2348.6h1V2348.6h1V2348.6h1V2348.6h1V2348.6h1V2348.6h1V2348.6h1V2348.6h1V2348.6h1V2348.6h1V2348.6h1V2348.6h1V2348.6h1V2348.6h1V2348.6h1V2348.6h1V2348.6h1V2348.6h1V2348.6h1V2348.6h1V2348.6h1V2348.6h1V2348.6h1V2348.6h1V2348.6h1V2348.6h1V2348.6h1V2348.6h1V2348.6h1V2348.6h1V2348.6h1V2348.6h1V2348.6h1V2348.6h1V2348.6h1V2348.6h1V2348.6h1V2348.6h1V2348.6h1V2348.6h1V2348.6h1V2348.6h1V2348.6h1V2348.6h1V2348.6h1V2348.6h1V2348.6h1V2348.6h1V2348.6h1V2348.6h1V2348.6h1V2348.6h1V2348.6h1V2348.6Z" fill="#ffd34d" fill-opacity="0.62"/>
<path d="M830.0,2348.6V2348.6h1V2348.6h1V2348.6h1V2348.6h1V2348.6h1V2348.6h1V2348.6h1V2348.6h1V2348.1h1V2348.6h1V2348.6h1V2347.9h1V2347.7h1V2348.6h1V2347.9h1V2348.6h1V2348.0h1V2347.9h1V2348.6h1V2347.8h1V2348.6h1V2348.2h1V2347.9h1V2348.6h1V2348.6h1V2347.2h1V2346.9h1V2346.6h1V2347.3h1V2346.4h1V2345.7h1V2345.7h1V2347.4h1V2347.6h1V2345.7h1V2344.8h1V2345.6h1V2344.5h1V2344.8h1V2344.6h1V2344.2h1V2343.9h1V2344.3h1V2341.4h1V2342.0h1V2343.4h1V2342.6h1V2343.1h1V2340.6h1V2342.8h1V2340.7h1V2338.5h1V2338.1h1V2337.4h1V2339.6h1V2335.6h1V2336.3h1V2332.9h1V2334.9h1V2330.2h1V2331.7h1V2330.0h1V2331.3h1V2330.2h1V2329.0h1V2324.6h1V2326.7h1V2324.6h1V2319.9h1V2320.1h1V2320.6h1V2317.5h1V2320.6h1V2319.2h1V2311.8h1V2302.8h1V2302.9h1V2299.1h1V2303.2h1V2304.6h1V2296.9h1V2302.5h1V2306.2h1V2291.7h1V2286.8h1V2285.3h1V2279.1h1V2279.3h1V2278.1h1V2281.0h1V2274.0h1V2275.5h1V2268.7h1V2254.9h1V2259.3h1V2255.0h1V2256.6h1V2236.6h1V2255.9h1V2246.8h1V2233.2h1V2238.3h1V2234.6h1V2223.4h1V2217.9h1V2214.0h1V2218.7h1V2205.0h1V2212.4h1V2206.3h1V2202.5h1V2189.9h1V2189.7h1V2189.1h1V2178.2h1V2180.6h1V2172.7h1V2166.9h1V2164.1h1V2162.6h1V2159.9h1V2138.8h1V2156.9h1V2135.4h1V2139.0h1V2133.9h1V2137.6h1V2120.1h1V2119.8h1V2103.2h1V2111.6h1V2111.6h1V2108.5h1V2087.5h1V2086.7h1V2090.2h1V2070.2h1V2077.9h1V2079.0h1V2068.9h1V2079.1h1V2065.9h1V2073.2h1V2055.9h1V2052.6h1V2056.2h1V2043.5h1V2056.4h1V2043.4h1V2047.0h1V2054.0h1V2036.0h1V2025.4h1V2011.6h1V2036.5h1V2031.8h1V2019.8h1V2043.2h1V2019.6h1V2047.0h1V2042.0h1V2033.2h1V2034.3h1V2022.1h1V2040.1h1V2031.7h1V2033.9h1V2029.6h1V2026.1h1V2023.9h1V2030.1h1V2030.5h1V2034.5h1V2050.0h1V2053.7h1V2036.0h1V2053.0h1V2049.5h1V2042.7h1V2049.7h1V2055.8h1V2059.1h1V2053.4h1V2043.8h1V2073.5h1V2064.0h1V2056.8h1V2065.8h1V2076.1h1V2074.1h1V2074.4h1V2072.9h1V2097.7h1V2095.3h1V2089.9h1V2092.4h1V2097.8h1V2100.4h1V2100.7h1V2108.0h1V2096.1h1V2124.8h1V2126.6h1V2138.8h1V2127.9h1V2134.8h1V2141.9h1V2153.2h1V2135.5h1V2150.7h1V2152.2h1V2171.3h1V2164.2h1V2167.4h1V2163.6h1V2175.4h1V2176.5h1V2197.4h1V2193.0h1V2195.3h1V2200.5h1V2205.7h1V2209.9h1V2204.4h1V2218.4h1V2215.6h1V2219.7h1V2229.3h1V2230.3h1V2247.4h1V2241.5h1V2236.2h1V2248.6h1V2259.0h1V2247.3h1V2261.6h1V2252.2h1V2261.9h1V2270.8h1V2270.9h1V2263.9h1V2272.8h1V2276.8h1V2278.5h1V2282.5h1V2287.0h1V2284.5h1V2283.7h1V2291.4h1V2288.2h1V2292.3h1V2303.8h1V2298.2h1V2298.1h1V2311.3h1V2308.3h1V2306.9h1V2312.9h1V2311.9h1V2314.6h1V2318.0h1V2317.3h1V2319.6h1V2320.0h1V2321.4h1V2324.4h1V2325.9h1V2326.6h1V2325.2h1V2329.8h1V2325.5h1V2331.5h1V2326.5h1V2332.0h1V2333.3h1V2334.3h1V2333.2h1V2334.5h1V2337.2h1V2336.0h1V2336.1h1V2337.3h1V2336.1h1V2342.7h1V2339.7h1V2340.8h1V2339.7h1V2338.2h1V2343.2h1V2342.9h1V2342.5h1V2341.4h1V2341.6h1V2344.1h1V2342.6h1V2343.9h1V2343.1h1V2344.4h1V2344.2h1V2344.9h1V2346.0h1V2346.2h1V2345.2h1V2346.4h1V2346.8h1V2346.3h1V2346.0h1V2346.0h1V2347.1h1V2346.9h1V2346.5h1V2347.4h1V2346.5h1V2347.1h1V2347.9h1V2347.1h1V2347.6h1V2346.8h1V2347.7h1V2347.0h1V2346.8h1V2347.6h1V2347.7h1V2348.1h1V2347.9h1V2347.7h1V2347.4h1V2347.7h1V2348.6h1V2347.8h1V2348.6h1V2347.7h1V2347.9h1V2348.2h1V2348.6h1V2348.2h1V2348.6h1V2348.6h1V2348.6h1V2348.6h1V2348.6h1V2348.6h1V2348.6h1V2348.6h1V2348.6h1V2348.6h1V2348.6h1V2348.6h1V2348.6h1V2348.6h1V2348.6h1V2348.6h1V2348.6h1V2348.6h1V2348.6h1V2348.6h1V2348.6h1V2348.6h1V2348.6h1V2348.6h1V2348.6h1V2348.6h1V2348.6h1V2348.6h1V2348.6h1V2348.6h1V2348.6h1V2348.6h1V2348.6h1V2348.6h1V2348.6h1V2348.6h1V2348.6h1V2348.6h1V2348.6h1V2348.6h1V2348.6h1V2348.6h1V2348.6h1V2348.6h1V2348.6h1V2348.6h1V2348.6h1V2348.6h1V2348.6h1V2348.6h1V2348.6h1V2348.6h1V2348.6h1V2348.6h1V2348.6h1V2348.6h1V2348.6h1V2348.6h1V2348.6h1V2348.6h1V2348.6h1V2348.6h1V2348.6h1V2348.6h1V2348.6h1V2348.6h1V2348.6h1V2348.6h1V2348.6h1V2348.6h1V2348.6h1V2348.6h1V2348.6h1V2348.6h1V2348.6h1V2348.6h1V2348.6h1V2348.6h1V2348.6h1V2348.6h1V2348.6h1V2348.6h1V2348.6h1V2348.6h1V2348.6h1V2348.6h1V2348.6h1V2348.6h1V2348.6h1V2348.6h1V2348.6h1V2348.6h1V2348.6h1V2348.6h1V2348.6h1V2348.6h1V2348.6h1V2348.6h1V2348.6h1V2348.6h1V2348.6h1V2348.6h1V2348.6h1V2348.6h1V2348.6h1V2348.6h1V2348.6h1V2348.6h1V2348.6h1V2348.6h1V2348.6h1V2348.6h1V2348.6h1V2348.6h1V2348.6h1V2348.6h1V2348.6h1V2348.6h1V2348.6h1V2348.6h1V2348.6h1V2348.6h1V2348.6h1V2348.6h1V2348.6h1V2348.6h1V2348.6h1V2348.6h1V2348.6h1V2348.6h1V2348.6h1V2348.6h1V2348.6h1V2348.6h1V2348.6h1V2348.6h1V2348.6h1V2348.6h1V2348.6h1V2348.6h1V2348.6h1V2348.6h1V2348.6h1V2348.6h1V2348.6h1V2348.6h1V2348.6h1V2348.6h1V2348.6h1V2348.6h1V2348.6h1V2348.6h1V2348.6h1V2348.6h1V2348.6h1V2348.6h1V2348.6h1V2348.6h1V2348.6h1V2348.6h1V2348.6h1V2348.6h1V2348.6h1V2348.6h1V2348.6h1V2348.6h1V2348.6h1V2348.6h1V2348.6h1V2348.6h1V2348.6h1V2348.6h1V2348.6h1V2348.6h1V2348.6h1V2348.6h1V2348.6h1V2348.6h1V2348.6h1V2348.6h1V2348.6h1V2348.6h1V2348.6h1V2348.6h1V2348.6h1V2348.6h1V2348.6h1V2348.6h1V2348.6h1V2348.6h1V2348.6h1V2348.6h1V2348.6h1V2348.6h1V2348.6h1V2348.6h1V2348.6h1V2348.6h1V2348.6h1V2348.6h1V2348.6h1V2348.6h1V2348.6Z" fill="#00e0dc" fill-opacity="0.62"/>
<path d="M830.0,2348.6V2348.6h1V2348.6h1V2348.6h1V2348.6h1V2348.6h1V2348.6h1V2348.6h1V2348.6h1V2348.6h1V2348.6h1V2348.6h1V2348.6h1V2348.6h1V2348.6h1V2348.6h1V2348.6h1V2348.6h1V2348.6h1V2348.6h1V2348.6h1V2348.6h1V2348.6h1V2348.6h1V2348.6h1V2348.6h1V2348.6h1V2348.6h1V2348.6h1V2348.6h1V2348.6h1V2348.6h1V2348.6h1V2348.6h1V2348.6h1V2348.6h1V2348.6h1V2348.6h1V2348.6h1V2348.6h1V2348.6h1V2348.6h1V2348.6h1V2348.6h1V2348.6h1V2348.6h1V2348.6h1V2348.6h1V2348.6h1V2348.6h1V2348.6h1V2348.6h1V2348.6h1V2348.6h1V2348.6h1V2348.6h1V2348.6h1V2348.6h1V2348.6h1V2348.6h1V2348.6h1V2348.6h1V2348.6h1V2348.6h1V2348.6h1V2348.6h1V2348.6h1V2348.6h1V2348.6h1V2348.6h1V2348.6h1V2348.6h1V2348.6h1V2348.6h1V2348.6h1V2348.6h1V2348.6h1V2348.6h1V2348.6h1V2348.6h1V2348.6h1V2348.6h1V2348.6h1V2348.6h1V2348.6h1V2348.6h1V2348.6h1V2348.6h1V2348.6h1V2348.6h1V2348.6h1V2348.6h1V2348.6h1V2348.6h1V2348.6h1V2348.6h1V2348.6h1V2348.6h1V2348.6h1V2348.6h1V2348.6h1V2348.6h1V2348.6h1V2348.6h1V2348.6h1V2348.6h1V2348.6h1V2348.6h1V2348.6h1V2348.6h1V2348.6h1V2348.6h1V2348.6h1V2348.6h1V2348.1h1V2348.6h1V2348.6h1V2348.6h1V2348.6h1V2348.6h1V2348.6h1V2348.1h1V2347.7h1V2348.6h1V2348.6h1V2348.6h1V2347.3h1V2347.2h1V2348.1h1V2347.8h1V2347.8h1V2347.0h1V2348.6h1V2347.1h1V2348.6h1V2346.9h1V2347.6h1V2346.1h1V2346.5h1V2347.1h1V2347.0h1V2347.2h1V2344.8h1V2345.0h1V2346.2h1V2346.6h1V2344.7h1V2344.8h1V2345.0h1V2344.1h1V2343.1h1V2343.5h1V2342.4h1V2342.7h1V2341.8h1V2342.4h1V2340.1h1V2340.4h1V2340.5h1V2339.1h1V2339.1h1V2338.3h1V2336.4h1V2335.0h1V2338.6h1V2335.1h1V2333.7h1V2335.0h1V2330.9h1V2331.2h1V2330.7h1V2332.3h1V2330.4h1V2325.5h1V2319.9h1V2323.9h1V2326.7h1V2316.4h1V2317.5h1V2312.9h1V2316.2h1V2309.9h1V2309.4h1V2312.3h1V2307.4h1V2303.6h1V2304.7h1V2295.1h1V2298.2h1V2290.9h1V2292.4h1V2286.2h1V2283.6h1V2290.6h1V2280.9h1V2273.6h1V2275.0h1V2263.5h1V2260.9h1V2266.9h1V2258.9h1V2253.4h1V2255.6h1V2240.2h1V2240.5h1V2240.2h1V2240.7h1V2237.0h1V2232.3h1V2219.6h1V2224.6h1V2210.2h1V2197.3h1V2214.4h1V2205.7h1V2190.5h1V2190.9h1V2193.5h1V2183.8h1V2179.0h1V2169.2h1V2175.1h1V2166.4h1V2160.8h1V2152.7h1V2152.0h1V2156.2h1V2150.5h1V2127.6h1V2135.4h1V2126.5h1V2122.5h1V2115.4h1V2103.5h1V2109.2h1V2099.1h1V2097.0h1V2094.9h1V2101.7h1V2092.6h1V2077.7h1V2084.0h1V2080.8h1V2076.7h1V2081.1h1V2074.7h1V2063.1h1V2069.2h1V2069.7h1V2050.2h1V2046.8h1V2051.9h1V2057.7h1V2038.5h1V2041.4h1V2057.0h1V2049.9h1V2052.9h1V2057.0h1V2026.7h1V2024.3h1V2054.7h1V2030.6h1V2036.3h1V2032.2h1V2027.1h1V2026.7h1V2034.1h1V2039.2h1V2028.9h1V2019.2h1V2046.6h1V2042.5h1V2038.2h1V2045.0h1V2042.0h1V2031.7h1V2037.4h1V2043.6h1V2043.8h1V2051.7h1V2040.4h1V2053.2h1V2060.1h1V2057.4h1V2055.0h1V2044.6h1V2060.0h1V2065.7h1V2046.8h1V2067.5h1V2059.2h1V2068.9h1V2070.3h1V2087.9h1V2078.9h1V2088.9h1V2097.3h1V2088.7h1V2096.5h1V2097.7h1V2094.3h1V2122.8h1V2107.1h1V2124.9h1V2129.5h1V2120.6h1V2127.8h1V2144.9h1V2132.7h1V2134.6h1V2130.9h1V2136.3h1V2147.7h1V2162.0h1V2156.5h1V2156.0h1V2158.3h1V2160.4h1V2169.4h1V2171.6h1V2181.4h1V2184.0h1V2182.2h1V2183.6h1V2200.5h1V2199.6h1V2201.8h1V2200.3h1V2207.7h1V2197.1h1V2213.9h1V2222.3h1V2222.9h1V2228.1h1V2229.4h1V2230.4h1V2227.7h1V2231.5h1V2239.0h1V2250.3h1V2245.8h1V2255.1h1V2254.8h1V2255.1h1V2260.3h1V2253.5h1V2265.7h1V2270.0h1V2272.3h1V2269.8h1V2283.2h1V2280.9h1V2286.0h1V2285.0h1V2293.1h1V2289.7h1V2287.4h1V2295.8h1V2291.2h1V2299.6h1V2299.7h1V2305.0h1V2301.1h1V2303.1h1V2306.0h1V2305.3h1V2311.3h1V2305.9h1V2312.4h1V2316.7h1V2316.7h1V2317.4h1V2321.8h1V2322.7h1V2317.0h1V2321.1h1V2321.1h1V2318.9h1V2324.0h1V2328.5h1V2325.8h1V2330.2h1V2327.1h1V2329.1h1V2329.0h1V2333.8h1V2336.4h1V2333.1h1V2333.0h1V2335.0h1V2336.5h1V2337.1h1V2337.8h1V2336.7h1V2340.5h1V2339.2h1V2338.4h1V2339.8h1V2341.0h1V2341.3h1V2340.6h1V2340.6h1V2343.9h1V2339.7h1V2342.3h1V2343.1h1V2344.6h1V2344.5h1V2343.1h1V2343.8h1V2346.4h1V2345.7h1V2345.2h1V2346.1h1V2343.8h1V2344.6h1V2346.2h1V2347.2h1V2346.0h1V2346.6h1V2346.8h1V2347.4h1V2346.2h1V2346.9h1V2346.2h1V2346.5h1V2347.4h1V2347.2h1V2347.7h1V2347.4h1V2348.0h1V2347.2h1V2348.6h1V2347.6h1V2347.8h1V2347.5h1V2348.6h1V2347.9h1V2347.7h1V2348.1h1V2348.0h1V2348.1h1V2348.6h1V2348.6h1V2348.6h1V2348.2h1V2348.6h1V2347.8h1V2348.6h1V2347.9h1V2348.1h1V2348.6h1V2348.6h1V2348.1h1V2348.6h1V2348.6h1V2348.6h1V2348.6h1V2348.6h1V2348.6h1V2348.6h1V2348.6h1V2348.6h1V2348.6h1V2348.6h1V2348.6h1V2348.6h1V2348.6h1V2348.6h1V2348.6h1V2348.6h1V2348.6h1V2348.6h1V2348.6h1V2348.6h1V2348.6h1V2348.6h1V2348.6h1V2348.6h1V2348.6h1V2348.6h1V2348.6h1V2348.6h1V2348.6h1V2348.6h1V2348.6h1V2348.6h1V2348.6h1V2348.6h1V2348.6h1V2348.6h1V2348.6h1V2348.6h1V2348.6h1V2348.6h1V2348.6h1V2348.6h1V2348.6h1V2348.6h1V2348.6h1V2348.6h1V2348.6h1V2348.6h1V2348.6h1V2348.6h1V2348.6h1V2348.6h1V2348.6h1V2348.6h1V2348.6h1V2348.6h1V2348.6h1V2348.6h1V2348.6h1V2348.6h1V2348.6h1V2348.6h1V2348.6h1V2348.6h1V2348.6h1V2348.6h1V2348.6h1V2348.6h1V2348.6h1V2348.6h1V2348.6h1V2348.6h1V2348.6h1V2348.6h1V2348.6h1V2348.6h1V2348.6h1V2348.6h1V2348.6h1V2348.6h1V2348.6h1V2348.6h1V2348.6h1V2348.6Z" fill="#69d27a" fill-opacity="0.62"/>
<line x1="1004.00" y1="2000.75" x2="1004.00" y2="2348.60" stroke="#000" stroke-width="5.2"/>
<line x1="1102.50" y1="2000.75" x2="1102.50" y2="2348.60" stroke="#000" stroke-width="5.2"/>
<line x1="1112.50" y1="2000.75" x2="1112.50" y2="2348.60" stroke="#000" stroke-width="5.2"/>
</g>
<line x1="807.50" y1="2032.50" x2="821.25" y2="2032.50" stroke="#333" stroke-width="5"/>
<text transform="matrix(0.3210,0,0,0.3116,740.28,2043.01)" font-size="100" fill="#4d4d4d" stroke="#4d4d4d" stroke-width="0.32" stroke-linejoin="round">400</text>
<line x1="807.50" y1="2111.60" x2="821.25" y2="2111.60" stroke="#333" stroke-width="5"/>
<text transform="matrix(0.3240,0,0,0.3146,739.78,2122.21)" font-size="100" fill="#4d4d4d" stroke="#4d4d4d" stroke-width="0.31" stroke-linejoin="round">300</text>
<line x1="807.50" y1="2190.70" x2="821.25" y2="2190.70" stroke="#333" stroke-width="5"/>
<text transform="matrix(0.3266,0,0,0.3171,739.37,2201.40)" font-size="100" fill="#4d4d4d" stroke="#4d4d4d" stroke-width="0.31" stroke-linejoin="round">200</text>
<line x1="807.50" y1="2269.80" x2="821.25" y2="2269.80" stroke="#333" stroke-width="5"/>
<text transform="matrix(0.3158,0,0,0.3066,741.13,2280.14)" font-size="100" fill="#4d4d4d" stroke="#4d4d4d" stroke-width="0.32" stroke-linejoin="round">100</text>
<line x1="807.50" y1="2348.80" x2="821.25" y2="2348.80" stroke="#333" stroke-width="5"/>
<text transform="matrix(0.2932,0,0,0.2847,777.43,2358.38)" font-size="100" fill="#4d4d4d" stroke="#4d4d4d" stroke-width="0.35" stroke-linejoin="round">0</text>
<line x1="894.30" y1="2348.60" x2="894.30" y2="2362.50" stroke="#333" stroke-width="5"/>
<text transform="matrix(0.3462,0,0,0.3361,869.67,2398.70)" font-size="100" fill="#4d4d4d" stroke="#4d4d4d" stroke-width="0.29" stroke-linejoin="round">2.5</text>
<line x1="1008.00" y1="2348.60" x2="1008.00" y2="2362.50" stroke="#333" stroke-width="5"/>
<text transform="matrix(0.3299,0,0,0.3203,984.63,2398.16)" font-size="100" fill="#4d4d4d" stroke="#4d4d4d" stroke-width="0.31" stroke-linejoin="round">5.0</text>
<line x1="1121.75" y1="2348.60" x2="1121.75" y2="2362.50" stroke="#333" stroke-width="5"/>
<text transform="matrix(0.3269,0,0,0.3174,1098.47,2397.90)" font-size="100" fill="#4d4d4d" stroke="#4d4d4d" stroke-width="0.31" stroke-linejoin="round">7.5</text>
<line x1="1235.50" y1="2348.60" x2="1235.50" y2="2362.50" stroke="#333" stroke-width="5"/>
<text transform="matrix(0.3181,0,0,0.3089,1203.56,2397.77)" font-size="100" fill="#4d4d4d" stroke="#4d4d4d" stroke-width="0.32" stroke-linejoin="round">10.0</text>
<line x1="1349.50" y1="2348.60" x2="1349.50" y2="2362.50" stroke="#333" stroke-width="5"/>
<text transform="matrix(0.3186,0,0,0.3093,1317.56,2397.78)" font-size="100" fill="#4d4d4d" stroke="#4d4d4d" stroke-width="0.32" stroke-linejoin="round">12.5</text>
<text transform="matrix(0,-0.4119,0.4119,0,716.66,2230.81)" font-size="100" fill="#000" stroke="#000" stroke-width="0.61" stroke-linejoin="round">Count</text>
<text transform="matrix(0.4146,0,0,0.4025,899.05,2451.77)" font-size="100" fill="#000" stroke="#000" stroke-width="0.61" stroke-linejoin="round">% coverage by RLFS</text>
<rect x="1415.90" y="1862.00" width="53.20" height="52.90" fill="#70d67e" stroke="#000" stroke-width="3.4"/>
<rect x="1416.20" y="1926.30" width="53.50" height="52.10" fill="#fdd357" stroke="#000" stroke-width="3.4"/>
<rect x="1416.60" y="1990.00" width="52.70" height="51.90" fill="#00e1db" stroke="#000" stroke-width="3.4"/>
<text transform="matrix(0.3153,0,0,0.3456,1478.88,1900.25)" font-size="100" fill="#000" stroke="#000" stroke-width="0.91" stroke-linejoin="round">SETX down</text>
<text transform="matrix(0.3011,0,0,0.3326,1482.14,1962.70)" font-size="100" fill="#000" stroke="#000" stroke-width="0.95" stroke-linejoin="round">SETX up</text>
<text transform="matrix(0.3364,0,0,0.3534,1481.82,2027.85)" font-size="100" fill="#000" stroke="#000" stroke-width="0.87" stroke-linejoin="round">Genome</text>
</g>
</svg>
</body></html>
